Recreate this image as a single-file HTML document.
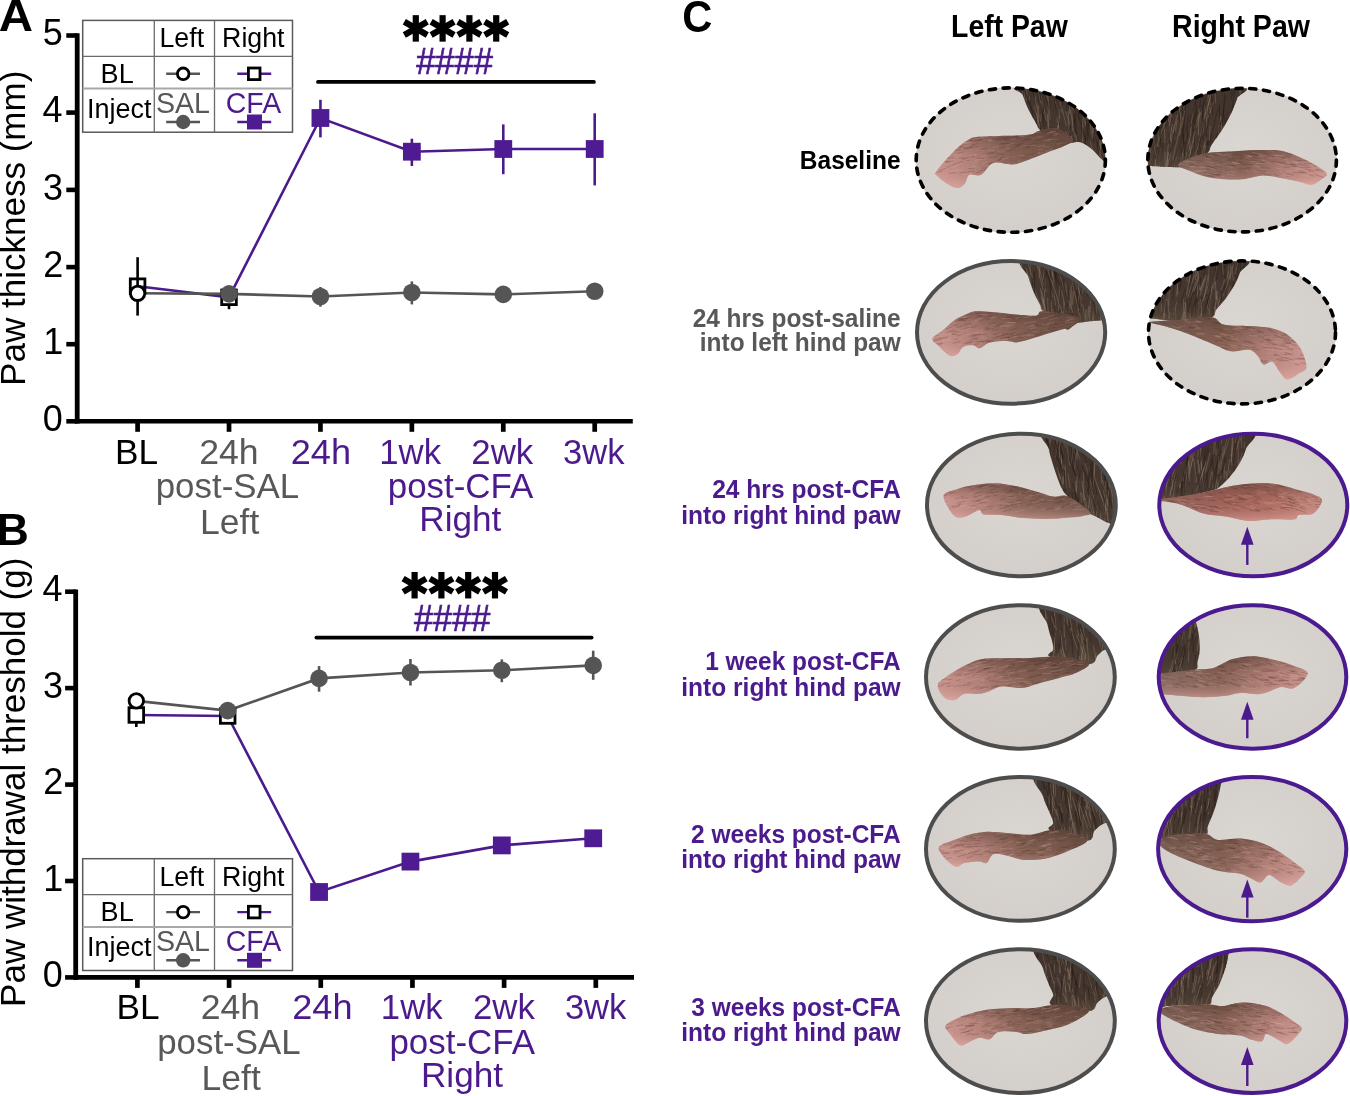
<!DOCTYPE html>
<html><head><meta charset="utf-8"><style>
html,body{margin:0;padding:0;background:#fff;}
body{width:1350px;height:1096px;position:relative;overflow:hidden;font-family:"Liberation Sans",sans-serif;}
</style></head><body>
<svg width="1350" height="1096" viewBox="0 0 1350 1096" style="position:absolute;left:0;top:0;will-change:transform">
<defs>
</defs>
<text x="-1.39" y="30.8" font-size="45" font-weight="bold" fill="#000" textLength="34.28" lengthAdjust="spacingAndGlyphs">A</text>
<text x="-3.62" y="544.8" font-size="45" font-weight="bold" fill="#000" textLength="32.32" lengthAdjust="spacingAndGlyphs">B</text>
<text x="682.33" y="32.1" font-size="45" font-weight="bold" fill="#000" textLength="30.1" lengthAdjust="spacingAndGlyphs">C</text>
<g font-family="Liberation Sans, sans-serif">
<g transform="translate(24.9,0) rotate(-90)">
<text x="-385.89" y="0" font-size="35" fill="#000" textLength="315.25" lengthAdjust="spacingAndGlyphs">Paw thickness (mm)</text>
</g>
<path d="M77.2 33.2 V423.55" stroke="#000" stroke-width="4.8" fill="none"/>
<path d="M74.8 421.3 H632.8" stroke="#000" stroke-width="4.6" fill="none"/>
<path d="M66.3 421.3 H77.2" stroke="#000" stroke-width="4.6"/>
<text x="42.77" y="431" font-size="36" fill="#000" textLength="20.02" lengthAdjust="spacingAndGlyphs">0</text>
<path d="M66.3 344.2 H77.2" stroke="#000" stroke-width="4.6"/>
<text x="43.13" y="353.9" font-size="36" fill="#000" textLength="20.02" lengthAdjust="spacingAndGlyphs">1</text>
<path d="M66.3 267.1 H77.2" stroke="#000" stroke-width="4.6"/>
<text x="43.22" y="276.8" font-size="36" fill="#000" textLength="20.02" lengthAdjust="spacingAndGlyphs">2</text>
<path d="M66.3 189.9 H77.2" stroke="#000" stroke-width="4.6"/>
<text x="42.95" y="199.6" font-size="36" fill="#000" textLength="20.02" lengthAdjust="spacingAndGlyphs">3</text>
<path d="M66.3 112.6 H77.2" stroke="#000" stroke-width="4.6"/>
<text x="42.41" y="122.3" font-size="36" fill="#000" textLength="20.02" lengthAdjust="spacingAndGlyphs">4</text>
<path d="M66.3 35.5 H77.2" stroke="#000" stroke-width="4.6"/>
<text x="42.86" y="45.2" font-size="36" fill="#000" textLength="20.02" lengthAdjust="spacingAndGlyphs">5</text>
<path d="M137.6 421.3 V431.8" stroke="#000" stroke-width="4.7"/>
<path d="M229.02 421.3 V431.8" stroke="#000" stroke-width="4.7"/>
<path d="M320.44 421.3 V431.8" stroke="#000" stroke-width="4.7"/>
<path d="M411.86 421.3 V431.8" stroke="#000" stroke-width="4.7"/>
<path d="M503.28 421.3 V431.8" stroke="#000" stroke-width="4.7"/>
<path d="M594.7 421.3 V431.8" stroke="#000" stroke-width="4.7"/>
<text x="115.09" y="464" font-size="35" fill="#000" textLength="43.07" lengthAdjust="spacingAndGlyphs">BL</text>
<text x="199.22" y="464" font-size="35" fill="#58585a" textLength="59.44" lengthAdjust="spacingAndGlyphs">24h</text>
<text x="290.69" y="464" font-size="35" fill="#4b1a8c" textLength="60.3" lengthAdjust="spacingAndGlyphs">24h</text>
<text x="379.19" y="464" font-size="35" fill="#4b1a8c" textLength="61.84" lengthAdjust="spacingAndGlyphs">1wk</text>
<text x="471.26" y="464" font-size="35" fill="#4b1a8c" textLength="61.97" lengthAdjust="spacingAndGlyphs">2wk</text>
<text x="563.1" y="464" font-size="35" fill="#4b1a8c" textLength="61.42" lengthAdjust="spacingAndGlyphs">3wk</text>
<text x="155.73" y="498.4" font-size="35" fill="#58585a" textLength="143.43" lengthAdjust="spacingAndGlyphs">post-SAL</text>
<text x="200.07" y="534.3" font-size="35" fill="#58585a" textLength="59.21" lengthAdjust="spacingAndGlyphs">Left</text>
<text x="387.73" y="498.4" font-size="35" fill="#4b1a8c" textLength="145.58" lengthAdjust="spacingAndGlyphs">post-CFA</text>
<text x="419.3" y="531.3" font-size="35" fill="#4b1a8c" textLength="82.05" lengthAdjust="spacingAndGlyphs">Right</text>
<rect x="82.7" y="20.4" width="209.8" height="111.8" fill="#fff" stroke="#5a5a5a" stroke-width="1.5"/>
<path d="M154.3 20.4 V132.2 M214.5 20.4 V132.2 M82.7 56.4 H292.5" stroke="#6a6a6a" stroke-width="1.3"/>
<path d="M82.7 88.6 H292.5" stroke="#a8a8a8" stroke-width="2"/>
<text x="159.49" y="47.3" font-size="27" fill="#000" textLength="44.62" lengthAdjust="spacingAndGlyphs">Left</text>
<text x="222.1" y="47.3" font-size="27" fill="#000" textLength="62.39" lengthAdjust="spacingAndGlyphs">Right</text>
<text x="100.57" y="83" font-size="27" fill="#000" textLength="33.13" lengthAdjust="spacingAndGlyphs">BL</text>
<text x="86.9" y="118.1" font-size="27" fill="#000" textLength="64.61" lengthAdjust="spacingAndGlyphs">Inject</text>
<text x="155.91" y="113" font-size="29.5" fill="#58585a" textLength="54.02" lengthAdjust="spacingAndGlyphs">SAL</text>
<text x="225.78" y="113" font-size="29.5" fill="#4b1a8c" textLength="55.39" lengthAdjust="spacingAndGlyphs">CFA</text>
<path d="M166.2 73.8 H200" stroke="#555555" stroke-width="2.4"/>
<circle cx="183.2" cy="73.8" r="5.8" fill="#fff" stroke="#000" stroke-width="2.8"/>
<path d="M237.3 73.8 H271.2" stroke="#4b1a8c" stroke-width="2.4"/>
<rect x="248.4" y="68" width="11.6" height="11.6" fill="#fff" stroke="#000" stroke-width="2.8"/>
<path d="M166.2 122 H200" stroke="#555555" stroke-width="2.4"/>
<circle cx="183.2" cy="122" r="7.2" fill="#555555"/>
<path d="M237.3 122 H271.2" stroke="#4b1a8c" stroke-width="2.4"/>
<rect x="247" y="114.5" width="15" height="15" fill="#4f1b92"/>
<path d="M318 81.9 H593.9" stroke="#000" stroke-width="3.8" stroke-linecap="round"/>
<g transform="translate(415.8,28.4)">
<path d="M-0 -13.25 L0 13.25" stroke="#000" stroke-width="6.2"/>
<path d="M-11.47 -6.62 L11.47 6.62" stroke="#000" stroke-width="6.2"/>
<path d="M-11.47 6.62 L11.47 -6.62" stroke="#000" stroke-width="6.2"/>
</g>
<g transform="translate(442.6,28.4)">
<path d="M-0 -13.25 L0 13.25" stroke="#000" stroke-width="6.2"/>
<path d="M-11.47 -6.62 L11.47 6.62" stroke="#000" stroke-width="6.2"/>
<path d="M-11.47 6.62 L11.47 -6.62" stroke="#000" stroke-width="6.2"/>
</g>
<g transform="translate(469.4,28.4)">
<path d="M-0 -13.25 L0 13.25" stroke="#000" stroke-width="6.2"/>
<path d="M-11.47 -6.62 L11.47 6.62" stroke="#000" stroke-width="6.2"/>
<path d="M-11.47 6.62 L11.47 -6.62" stroke="#000" stroke-width="6.2"/>
</g>
<g transform="translate(496.2,28.4)">
<path d="M-0 -13.25 L0 13.25" stroke="#000" stroke-width="6.2"/>
<path d="M-11.47 -6.62 L11.47 6.62" stroke="#000" stroke-width="6.2"/>
<path d="M-11.47 6.62 L11.47 -6.62" stroke="#000" stroke-width="6.2"/>
</g>
<text x="416.13" y="74.4" font-size="36" fill="#4b1a8c" textLength="76.83" lengthAdjust="spacingAndGlyphs" stroke="#4b1a8c" stroke-width="0.7">####</text>
<path d="M137.6 257.2 V315.6" stroke="#000" stroke-width="2.6"/>
<path d="M229.02 297 V309.2" stroke="#000" stroke-width="2.6"/>
<path d="M320.44 287 V306.7" stroke="#555555" stroke-width="2.6"/>
<path d="M411.86 281.4 V304.4" stroke="#555555" stroke-width="2.6"/>
<path d="M320.44 99.8 V137.4" stroke="#4b1a8c" stroke-width="2.6"/>
<path d="M411.86 138.7 V166" stroke="#4b1a8c" stroke-width="2.6"/>
<path d="M503.28 124.4 V174.2" stroke="#4b1a8c" stroke-width="2.6"/>
<path d="M594.7 113.3 V185.4" stroke="#4b1a8c" stroke-width="2.6"/>
<path d="M137.6 286.2 L229.02 297.3 L320.44 118 L411.86 151.7 L503.28 149 L594.7 149" stroke="#4b1a8c" stroke-width="2.6" fill="none"/>
<path d="M137.6 293.3 L229.02 293.9 L320.44 296.5 L411.86 292.5 L503.28 294.4 L594.7 291.3" stroke="#555555" stroke-width="2.6" fill="none"/>
<rect x="130.3" y="278.9" width="14.6" height="14.6" fill="none" stroke="#000" stroke-width="2.8"/>
<rect x="221.72" y="290" width="14.6" height="14.6" fill="#fff" stroke="#000" stroke-width="2.8"/>
<circle cx="137.6" cy="293.3" r="7.2" fill="#fff" stroke="#000" stroke-width="2.8"/>
<circle cx="229.02" cy="293.9" r="8.8" fill="#555555"/>
<circle cx="320.44" cy="296.5" r="8.8" fill="#555555"/>
<circle cx="411.86" cy="292.5" r="8.8" fill="#555555"/>
<circle cx="503.28" cy="294.4" r="8.8" fill="#555555"/>
<circle cx="594.7" cy="291.3" r="8.8" fill="#555555"/>
<rect x="311.54" y="109.1" width="17.8" height="17.8" fill="#4f1b92"/>
<rect x="402.96" y="142.8" width="17.8" height="17.8" fill="#4f1b92"/>
<rect x="494.38" y="140.1" width="17.8" height="17.8" fill="#4f1b92"/>
<rect x="585.8" y="140.1" width="17.8" height="17.8" fill="#4f1b92"/>
<g transform="translate(24.9,0) rotate(-90)">
<text x="-1006.89" y="0" font-size="35" fill="#000" textLength="449.26" lengthAdjust="spacingAndGlyphs">Paw withdrawal threshold (g)</text>
</g>
<path d="M75.7 589.4 V979.65" stroke="#000" stroke-width="4.8" fill="none"/>
<path d="M73.3 977.4 H634" stroke="#000" stroke-width="4.6" fill="none"/>
<path d="M65.1 977.4 H75.7" stroke="#000" stroke-width="4.6"/>
<text x="42.77" y="987.1" font-size="36" fill="#000" textLength="20.02" lengthAdjust="spacingAndGlyphs">0</text>
<path d="M65.1 881 H75.7" stroke="#000" stroke-width="4.6"/>
<text x="43.13" y="890.7" font-size="36" fill="#000" textLength="20.02" lengthAdjust="spacingAndGlyphs">1</text>
<path d="M65.1 784.6 H75.7" stroke="#000" stroke-width="4.6"/>
<text x="43.22" y="794.3" font-size="36" fill="#000" textLength="20.02" lengthAdjust="spacingAndGlyphs">2</text>
<path d="M65.1 688.1 H75.7" stroke="#000" stroke-width="4.6"/>
<text x="42.95" y="697.8" font-size="36" fill="#000" textLength="20.02" lengthAdjust="spacingAndGlyphs">3</text>
<path d="M65.1 591.7 H75.7" stroke="#000" stroke-width="4.6"/>
<text x="42.41" y="601.4" font-size="36" fill="#000" textLength="20.02" lengthAdjust="spacingAndGlyphs">4</text>
<path d="M137.4 977.4 V987.9" stroke="#000" stroke-width="4.7"/>
<path d="M229.08 977.4 V987.9" stroke="#000" stroke-width="4.7"/>
<path d="M320.76 977.4 V987.9" stroke="#000" stroke-width="4.7"/>
<path d="M412.44 977.4 V987.9" stroke="#000" stroke-width="4.7"/>
<path d="M504.12 977.4 V987.9" stroke="#000" stroke-width="4.7"/>
<path d="M595.8 977.4 V987.9" stroke="#000" stroke-width="4.7"/>
<text x="116.49" y="1019.3" font-size="35" fill="#000" textLength="43.07" lengthAdjust="spacingAndGlyphs">BL</text>
<text x="200.7" y="1019.3" font-size="35" fill="#58585a" textLength="59.44" lengthAdjust="spacingAndGlyphs">24h</text>
<text x="292.25" y="1019.3" font-size="35" fill="#4b1a8c" textLength="60.3" lengthAdjust="spacingAndGlyphs">24h</text>
<text x="380.83" y="1019.3" font-size="35" fill="#4b1a8c" textLength="61.84" lengthAdjust="spacingAndGlyphs">1wk</text>
<text x="472.98" y="1019.3" font-size="35" fill="#4b1a8c" textLength="61.97" lengthAdjust="spacingAndGlyphs">2wk</text>
<text x="564.9" y="1019.3" font-size="35" fill="#4b1a8c" textLength="61.42" lengthAdjust="spacingAndGlyphs">3wk</text>
<text x="157.21" y="1053.7" font-size="35" fill="#58585a" textLength="143.43" lengthAdjust="spacingAndGlyphs">post-SAL</text>
<text x="201.55" y="1089.6" font-size="35" fill="#58585a" textLength="59.21" lengthAdjust="spacingAndGlyphs">Left</text>
<text x="389.41" y="1053.7" font-size="35" fill="#4b1a8c" textLength="145.58" lengthAdjust="spacingAndGlyphs">post-CFA</text>
<text x="420.98" y="1086.6" font-size="35" fill="#4b1a8c" textLength="82.05" lengthAdjust="spacingAndGlyphs">Right</text>
<rect x="82.7" y="858.7" width="209.8" height="111.8" fill="#fff" stroke="#5a5a5a" stroke-width="1.5"/>
<path d="M154.3 858.7 V970.5 M214.5 858.7 V970.5 M82.7 894.7 H292.5" stroke="#6a6a6a" stroke-width="1.3"/>
<path d="M82.7 926.9 H292.5" stroke="#a8a8a8" stroke-width="2"/>
<text x="159.49" y="885.6" font-size="27" fill="#000" textLength="44.62" lengthAdjust="spacingAndGlyphs">Left</text>
<text x="222.1" y="885.6" font-size="27" fill="#000" textLength="62.39" lengthAdjust="spacingAndGlyphs">Right</text>
<text x="100.57" y="921.3" font-size="27" fill="#000" textLength="33.13" lengthAdjust="spacingAndGlyphs">BL</text>
<text x="86.9" y="956.4" font-size="27" fill="#000" textLength="64.61" lengthAdjust="spacingAndGlyphs">Inject</text>
<text x="155.91" y="951.3" font-size="29.5" fill="#58585a" textLength="54.02" lengthAdjust="spacingAndGlyphs">SAL</text>
<text x="225.78" y="951.3" font-size="29.5" fill="#4b1a8c" textLength="55.39" lengthAdjust="spacingAndGlyphs">CFA</text>
<path d="M166.2 912.1 H200" stroke="#555555" stroke-width="2.4"/>
<circle cx="183.2" cy="912.1" r="5.8" fill="#fff" stroke="#000" stroke-width="2.8"/>
<path d="M237.3 912.1 H271.2" stroke="#4b1a8c" stroke-width="2.4"/>
<rect x="248.4" y="906.3" width="11.6" height="11.6" fill="#fff" stroke="#000" stroke-width="2.8"/>
<path d="M166.2 960.3 H200" stroke="#555555" stroke-width="2.4"/>
<circle cx="183.2" cy="960.3" r="7.2" fill="#555555"/>
<path d="M237.3 960.3 H271.2" stroke="#4b1a8c" stroke-width="2.4"/>
<rect x="247" y="952.8" width="15" height="15" fill="#4f1b92"/>
<path d="M316.4 637.6 H591.6" stroke="#000" stroke-width="3.8" stroke-linecap="round"/>
<g transform="translate(414.6,585.2)">
<path d="M-0 -13.25 L0 13.25" stroke="#000" stroke-width="6.2"/>
<path d="M-11.47 -6.62 L11.47 6.62" stroke="#000" stroke-width="6.2"/>
<path d="M-11.47 6.62 L11.47 -6.62" stroke="#000" stroke-width="6.2"/>
</g>
<g transform="translate(441.4,585.2)">
<path d="M-0 -13.25 L0 13.25" stroke="#000" stroke-width="6.2"/>
<path d="M-11.47 -6.62 L11.47 6.62" stroke="#000" stroke-width="6.2"/>
<path d="M-11.47 6.62 L11.47 -6.62" stroke="#000" stroke-width="6.2"/>
</g>
<g transform="translate(468.2,585.2)">
<path d="M-0 -13.25 L0 13.25" stroke="#000" stroke-width="6.2"/>
<path d="M-11.47 -6.62 L11.47 6.62" stroke="#000" stroke-width="6.2"/>
<path d="M-11.47 6.62 L11.47 -6.62" stroke="#000" stroke-width="6.2"/>
</g>
<g transform="translate(495,585.2)">
<path d="M-0 -13.25 L0 13.25" stroke="#000" stroke-width="6.2"/>
<path d="M-11.47 -6.62 L11.47 6.62" stroke="#000" stroke-width="6.2"/>
<path d="M-11.47 6.62 L11.47 -6.62" stroke="#000" stroke-width="6.2"/>
</g>
<text x="414.03" y="630.7" font-size="36" fill="#4b1a8c" textLength="76.43" lengthAdjust="spacingAndGlyphs" stroke="#4b1a8c" stroke-width="0.7">####</text>
<path d="M136.3 715 V727" stroke="#000" stroke-width="2.6"/>
<path d="M319.06 666.1 V691.7" stroke="#555555" stroke-width="2.6"/>
<path d="M410.44 659 V685.5" stroke="#555555" stroke-width="2.6"/>
<path d="M501.82 659.4 V682.2" stroke="#555555" stroke-width="2.6"/>
<path d="M593.2 650.7 V679.8" stroke="#555555" stroke-width="2.6"/>
<path d="M136.3 715 L227.68 716 L319.06 892 L410.44 861.6 L501.82 845.4 L593.2 838.3" stroke="#4b1a8c" stroke-width="2.6" fill="none"/>
<path d="M136.3 700.9 L227.68 710.6 L319.06 678.4 L410.44 672.5 L501.82 670.3 L593.2 665.4" stroke="#555555" stroke-width="2.6" fill="none"/>
<rect x="129" y="707.7" width="14.6" height="14.6" fill="#fff" stroke="#000" stroke-width="2.8"/>
<rect x="220.38" y="708.7" width="14.6" height="14.6" fill="#fff" stroke="#000" stroke-width="2.8"/>
<circle cx="136.3" cy="700.9" r="7.2" fill="#fff" stroke="#000" stroke-width="2.8"/>
<circle cx="227.68" cy="710.6" r="8.8" fill="#555555"/>
<circle cx="319.06" cy="678.4" r="8.8" fill="#555555"/>
<circle cx="410.44" cy="672.5" r="8.8" fill="#555555"/>
<circle cx="501.82" cy="670.3" r="8.8" fill="#555555"/>
<circle cx="593.2" cy="665.4" r="8.8" fill="#555555"/>
<rect x="310.16" y="883.1" width="17.8" height="17.8" fill="#4f1b92"/>
<rect x="401.54" y="852.7" width="17.8" height="17.8" fill="#4f1b92"/>
<rect x="492.92" y="836.5" width="17.8" height="17.8" fill="#4f1b92"/>
<rect x="584.3" y="829.4" width="17.8" height="17.8" fill="#4f1b92"/>
<text x="951.09" y="36.9" font-size="31" font-weight="bold" fill="#000" textLength="116.63" lengthAdjust="spacingAndGlyphs">Left Paw</text>
<text x="1172.07" y="37" font-size="31" font-weight="bold" fill="#000" textLength="137.89" lengthAdjust="spacingAndGlyphs">Right Paw</text>
<text x="799.85" y="168.9" font-size="26.5" font-weight="bold" fill="#000" textLength="100.67" lengthAdjust="spacingAndGlyphs">Baseline</text>
<text x="692.64" y="326.8" font-size="26.5" font-weight="bold" fill="#58585a" textLength="207.87" lengthAdjust="spacingAndGlyphs">24 hrs post-saline</text>
<text x="699.79" y="351.3" font-size="26.5" font-weight="bold" fill="#58585a" textLength="200.89" lengthAdjust="spacingAndGlyphs">into left hind paw</text>
<text x="712.14" y="498.3" font-size="26.5" font-weight="bold" fill="#4b1a8c" textLength="188.56" lengthAdjust="spacingAndGlyphs">24 hrs post-CFA</text>
<text x="681.28" y="523.5" font-size="26.5" font-weight="bold" fill="#4b1a8c" textLength="219.37" lengthAdjust="spacingAndGlyphs">into right hind paw</text>
<text x="705.17" y="670.3" font-size="26.5" font-weight="bold" fill="#4b1a8c" textLength="195.49" lengthAdjust="spacingAndGlyphs">1 week post-CFA</text>
<text x="681.28" y="695.5" font-size="26.5" font-weight="bold" fill="#4b1a8c" textLength="219.37" lengthAdjust="spacingAndGlyphs">into right hind paw</text>
<text x="691.04" y="842.8" font-size="26.5" font-weight="bold" fill="#4b1a8c" textLength="209.65" lengthAdjust="spacingAndGlyphs">2 weeks post-CFA</text>
<text x="681.28" y="868" font-size="26.5" font-weight="bold" fill="#4b1a8c" textLength="219.37" lengthAdjust="spacingAndGlyphs">into right hind paw</text>
<text x="691.35" y="1015.8" font-size="26.5" font-weight="bold" fill="#4b1a8c" textLength="209.35" lengthAdjust="spacingAndGlyphs">3 weeks post-CFA</text>
<text x="681.28" y="1041" font-size="26.5" font-weight="bold" fill="#4b1a8c" textLength="219.37" lengthAdjust="spacingAndGlyphs">into right hind paw</text>
</g>
<defs>
<linearGradient id="furg" x1="0" y1="0" x2="0" y2="1"><stop offset="0" stop-color="#2e2420" stop-opacity="0.25"/><stop offset="0.6" stop-color="#2e2420" stop-opacity="0"/><stop offset="1" stop-color="#8a735e" stop-opacity="0.35"/></linearGradient>
<pattern id="furp" width="4.3" height="37" patternUnits="userSpaceOnUse" patternTransform="rotate(10)"><path d="M1.2 0 V37" stroke="#9c8470" stroke-width="0.7" opacity="0.42"/><path d="M3.2 6 V28" stroke="#261d19" stroke-width="0.8" opacity="0.45"/></pattern>
<linearGradient id="pawL" x1="0" y1="0" x2="1" y2="0"><stop offset="0" stop-color="#dda29d"/><stop offset="0.25" stop-color="#c08a82"/><stop offset="0.55" stop-color="#8c6558"/><stop offset="1" stop-color="#6e5046"/></linearGradient>
<linearGradient id="pawR" x1="1" y1="0" x2="0" y2="0"><stop offset="0" stop-color="#dda29d"/><stop offset="0.25" stop-color="#c08a82"/><stop offset="0.55" stop-color="#8c6558"/><stop offset="1" stop-color="#8e7068"/></linearGradient>
<linearGradient id="pawV" x1="0" y1="0" x2="0" y2="1"><stop offset="0" stop-color="#4a3328" stop-opacity="0.55"/><stop offset="0.5" stop-color="#6e5045" stop-opacity="0.15"/><stop offset="1" stop-color="#e6b2ac" stop-opacity="0.5"/></linearGradient>
<linearGradient id="pawS" x1="1" y1="0" x2="0" y2="0"><stop offset="0" stop-color="#d8968e"/><stop offset="0.3" stop-color="#bc7268"/><stop offset="0.6" stop-color="#aa645c"/><stop offset="1" stop-color="#9a6a60"/></linearGradient>
<radialGradient id="bg" cx="0.5" cy="0.45" r="0.6"><stop offset="0" stop-color="#dad6d2"/><stop offset="1" stop-color="#d3cec9"/></radialGradient>
<clipPath id="cp0"><ellipse cx="1010.8" cy="160.1" rx="94.6" ry="72.2"/></clipPath>
<clipPath id="cp1"><ellipse cx="1242.1" cy="160.1" rx="94.3" ry="71.8"/></clipPath>
<clipPath id="cp2"><ellipse cx="1011.1" cy="332.4" rx="94.1" ry="71.3"/></clipPath>
<clipPath id="cp3"><ellipse cx="1242" cy="332.4" rx="93.5" ry="71.5"/></clipPath>
<clipPath id="cp4"><ellipse cx="1021.4" cy="505" rx="94.4" ry="71.3"/></clipPath>
<clipPath id="cp5"><ellipse cx="1253.3" cy="505" rx="94" ry="71.3"/></clipPath>
<clipPath id="cp6"><ellipse cx="1020.4" cy="677" rx="94.4" ry="71.7"/></clipPath>
<clipPath id="cp7"><ellipse cx="1252.5" cy="677" rx="93.8" ry="71.7"/></clipPath>
<clipPath id="cp8"><ellipse cx="1020.4" cy="848.9" rx="94.4" ry="71.9"/></clipPath>
<clipPath id="cp9"><ellipse cx="1252.2" cy="849.1" rx="94.1" ry="72.1"/></clipPath>
<clipPath id="cp10"><ellipse cx="1020.4" cy="1021.1" rx="94.4" ry="71.9"/></clipPath>
<clipPath id="cp11"><ellipse cx="1252.5" cy="1021.1" rx="93.8" ry="71.9"/></clipPath>
</defs>
<ellipse cx="1010.8" cy="160.1" rx="95.1" ry="72.8" fill="url(#bg)"/>
<g clip-path="url(#cp0)">
<path d="M1020.4 86 C1005 88.5 1021.2 90.9 1022.6 94.8 C1024 98.7 1026.3 104.9 1028.5 109.6 C1030.7 114.3 1033.9 119.5 1035.9 123 C1037.9 126.5 1036.7 126.5 1040.4 130.4 C1044.1 134.3 1053.7 144.5 1058.1 146.7 C1062.5 148.9 1063.3 144.4 1067 143.7 C1070.7 142.9 1076.2 141.2 1080.4 142.2 C1084.6 143.2 1088.5 146.6 1092.2 149.6 C1095.9 152.6 1098.8 157.4 1102.6 160 C1106.4 162.6 1112.9 178.3 1115 165 C1117.1 151.7 1130.8 93.2 1115 80 C1099.2 66.8 1035.8 83.5 1020.4 86 Z" fill="#45372f"/>
<clipPath id="fc0"><path d="M1020.4 86 C1005 88.5 1021.2 90.9 1022.6 94.8 C1024 98.7 1026.3 104.9 1028.5 109.6 C1030.7 114.3 1033.9 119.5 1035.9 123 C1037.9 126.5 1036.7 126.5 1040.4 130.4 C1044.1 134.3 1053.7 144.5 1058.1 146.7 C1062.5 148.9 1063.3 144.4 1067 143.7 C1070.7 142.9 1076.2 141.2 1080.4 142.2 C1084.6 143.2 1088.5 146.6 1092.2 149.6 C1095.9 152.6 1098.8 157.4 1102.6 160 C1106.4 162.6 1112.9 178.3 1115 165 C1117.1 151.7 1130.8 93.2 1115 80 C1099.2 66.8 1035.8 83.5 1020.4 86 Z"/></clipPath>
<g clip-path="url(#fc0)">
<path d="M1022.3 71.3 l-0 26.7 M1085.6 76.1 l4.1 24.8 M1090.1 157.5 l4.8 17.2 M1113.3 153.5 l-0.7 11.9 M1090.1 90.1 l4.2 26.3 M1020 128.4 l2.5 10.6 M1107.5 163.2 l7.3 18.8 M1023.5 127 l-0.3 10.6 M1079.3 84.8 l3.2 10.4 M1068.4 111 l-0.3 24.4 M1117.7 119.5 l-2.6 20.8 M1076.1 71.9 l4.1 21.9 M1041.7 113.3 l0.7 21.8 M1048.1 105.1 l0.4 21.9 M1096.2 72.6 l5 20.8 M1038.7 146.4 l-0.5 14.8 M1035.4 146.6 l-1 26.7 M1099.8 131 l1.1 26.1 M1045.9 145.4 l0.7 15.4 M1059.3 108.9 l-1.5 28.4 M1069.7 97.5 l-0.3 16.8 M1070.3 109.3 l5 28.3 M1041.8 151.9 l5 18.9 M1059.6 114.9 l-3.3 25.3 M1024.4 117.7 l0.4 16.3 M1083.1 125.7 l-0.6 17.2 M1028.3 122.8 l1.5 24.3 M1034.1 105.5 l5.7 21.3 M1099.2 129.2 l1 18.6 M1088.9 109.9 l2.4 23.8 M1071.4 136 l0.9 11.4 M1020 78.7 l3.7 11.4 M1102.9 160.5 l5.7 20.8 M1056.6 104.9 l0.8 17.9 M1066 131.1 l-1.5 27.9 M1034.9 95.4 l2.3 13.8 M1058.6 151.1 l0.1 21.7 M1017.8 115.6 l-0.8 17.6 M1049.1 143.5 l4.6 12 M1086 161.1 l-0.2 27.1 M1024.4 78.8 l0.4 26.7 M1076.1 134.2 l0.4 10.1 M1066.2 90 l7.4 20.4 M1072.3 81.3 l3.1 15.2 M1108.2 156.3 l4 11.3 M1083.1 113.5 l-0.7 16.2 M1090.3 141.7 l5 20.3 M1041.3 143 l0.6 17.1 M1072 143.3 l4.9 16.3 M1093.7 126.2 l0.9 12.9 M1018.5 146.3 l9.4 26.2 M1029.6 145.3 l-2.3 22.3 M1039.8 77.4 l6.8 19.6 M1112.9 151.8 l4.6 18.2 M1026.8 74.1 l-0.3 11.6 M1047.3 114.1 l1.8 25.1 M1030.4 113.7 l-0.4 13.9 M1057.6 86 l-0.8 10.5 M1066.7 75.7 l1 10.4 M1089 74.9 l1.2 18 M1116.4 90.8 l1.3 11.8 M1044.2 144.8 l6.4 18.2 M1041.5 95.3 l4.8 25.8 M1025.2 134.8 l4.9 29 M1018.6 78.6 l-1.5 13.3 M1083.8 155.5 l4.9 13.1 M1099.5 157.2 l-3.2 28.6 M1017.8 114.4 l5.2 24.6 M1062.5 155.2 l0.9 24.6 M1026.9 77.7 l-0.2 23 M1031.4 131.2 l-2.7 21.5 M1078.6 144.9 l-0.7 20.7 M1036.2 154.9 l1.2 11.7 M1077.6 147.4 l2 14 M1091.5 77.3 l1.9 16.8 M1037.8 103.3 l1.1 29.9 M1059.2 160.1 l9.5 26.4 M1096.3 108.7 l9.7 28.3 M1113.1 87.5 l2.7 11.6 M1069.7 130.7 l2.6 10.5 M1060.6 102.8 l6 24.1 M1026.2 98.4 l-1.7 18.1 M1072.1 104.2 l0.3 27.1 M1016.5 82.5 l2.8 20.4 M1097.6 163 l-0.4 10.7 M1060.6 102.1 l1.6 10.9 M1048 93.5 l2.1 26 M1068.6 148.9 l0.2 21 M1017.2 131.1 l8.9 26.5 M1085 158.2 l4.5 25.9 M1018.6 124.6 l2.4 20.9 M1089.6 156.6 l2.4 11.8 M1069.2 155.1 l5.6 28.7 M1111.7 87.2 l5 17 M1043.7 160.2 l0.8 28.9 M1044.9 82.5 l5.3 14 M1103.1 130 l-3.3 26.1 M1115.9 76.6 l1.7 15.3 M1072.5 74.5 l5 13.8 M1030.3 75.2 l-1.1 25.2 M1055.4 80.2 l6.3 16.6 M1034.2 161.5 l-1.2 26.8 M1043.6 81.7 l4.7 19.5 M1082.9 96.8 l2.8 29.2 M1071 153.1 l4 29.5 M1021.6 151.2 l6.2 16.5 M1089.8 104.3 l2 15.9 M1054.4 131.9 l4.4 27.1 M1038.4 105.2 l-1.3 22.3 M1061.6 134.8 l3.8 11.8 M1078 78.1 l0.5 10.5 M1060.6 129.7 l2 23.1 M1119.1 76.3 l1.1 10.1 M1018.2 158.8 l3.2 20.2 M1039.7 114.5 l3.8 26.9 M1118.1 132.8 l-0.6 20.6 M1109.5 82.6 l3.7 20.3 M1095.8 156.4 l6.4 26.4 M1056.9 90.1 l-1.5 13.6 M1055.6 150.9 l-2.7 26.5 M1076.4 80.2 l6 19.7 M1092.3 103.3 l3 19.3 M1048.8 138.9 l0.9 13.4 M1058.1 124.8 l-1.2 12.1 M1112 152.5 l1.4 20.3 M1065.3 111.2 l5.2 14.3 M1093.9 91.4 l6.7 17.9 M1056 74.4 l2.5 13.2 M1036.6 85.1 l7 28.8 M1032.3 83 l6.9 21.4 M1016.1 77.9 l1.7 25.6 M1119.4 128.1 l3.3 14.9 M1049.7 162.3 l3.2 11.6 M1099.6 112.3 l0.8 23.3 M1062.7 146 l-0.3 16.9 M1045.7 72.4 l0.4 10.5 M1092.3 119.6 l0.4 18.5 M1080.6 111.7 l4.5 11.7 M1053.7 164.9 l1.5 12.4 M1041.3 157.8 l-2.3 18.1 M1015.9 137.3 l8.7 26 M1086 98.9 l0.4 19.4 M1029.3 129.4 l4.1 11" stroke="#a8917a" stroke-width="0.7" opacity="0.5" fill="none"/>
<path d="M1040.3 121.7 l3 17.1 M1119.5 114.7 l2.9 26.6 M1031.2 130.3 l3.6 27.1 M1018.6 152.2 l4.4 18.9 M1116.4 111.4 l0.5 22.5 M1055.8 103.3 l3.5 21.4 M1086.7 158.2 l9.7 25.3 M1032.5 151.8 l9.3 27.8 M1022 151.1 l-2.6 29.7 M1058.3 84.3 l4 15.4 M1115.7 155.2 l1.8 17.5 M1082.8 126.6 l3.8 20.8 M1081 114.3 l1.1 23.6 M1092.6 72.1 l2.3 11 M1088.4 79.7 l0.6 16.4 M1061.3 151.3 l0.5 13.4 M1108 112.9 l-1 14.5 M1114.1 153.6 l2.6 29.6 M1112.4 91.1 l7.1 23.9 M1077 97.3 l-2.8 26.1 M1088 157.8 l8.8 26.5 M1016.8 140.8 l0.3 13.4 M1036 120.8 l-1.2 26.3 M1111.8 146.6 l-3.3 26.3 M1105.6 74.7 l0.1 15.4 M1028.7 81.8 l4 10.7 M1107.4 159 l5.5 16.6 M1042.8 114.1 l3.4 12 M1108.2 145.3 l5.5 22.7 M1026.2 125.8 l-0.6 10.1 M1017.9 149.9 l3.6 11.9 M1095.7 118.6 l-1.9 24.2 M1113.2 75.8 l2.5 16.3 M1040.7 87.1 l2.7 14.8 M1024.1 117.5 l2.2 29.4 M1032.2 135.6 l5.2 24.6 M1093.7 157.1 l1.9 20.3 M1039.7 135.7 l0.5 29.1 M1078.1 114.5 l7.4 25.6 M1065.7 138.5 l1.9 27.1 M1115.8 114.4 l-0.2 14.6 M1042.5 87.8 l7.1 23 M1042.1 152.2 l1.3 16.2 M1096.2 141.9 l3.3 15.6 M1099.7 95.2 l8.6 23.6 M1071.5 80.8 l0.9 19.9 M1086.4 123.8 l2.6 13.4 M1034.1 154.5 l-1.6 23.1 M1030.2 101.5 l4.1 24.1 M1043.2 106.4 l-3 27.3 M1043.7 79.5 l3.1 11.8 M1034.7 88 l4.4 17.8 M1070.6 124 l-0.1 14 M1073.2 125.4 l8 21.2 M1046.7 151.7 l3.3 19.4 M1015.6 143.2 l2.7 23.1 M1063.6 88.4 l-2.3 20.5 M1083 112.2 l7.3 20 M1106.5 136 l3.7 12.1 M1112.4 138 l1 24.8 M1067.4 136.4 l1.7 20.7 M1109.5 138.4 l1 17.3 M1077.8 91.3 l-0.3 10.1 M1080.5 102.9 l-1.3 12.4 M1078.9 159.9 l0.2 11.8 M1027.4 107 l3.5 16.3 M1033.7 140.3 l7 23.7 M1112 104.5 l-0.3 18.3 M1065.7 95.6 l3.1 13 M1089.7 106.7 l-1 19.7 M1040.2 150.1 l7 21.8 M1022.9 107.9 l-2.3 29 M1116.6 90.9 l1.7 21.2 M1023.7 148.4 l-1.4 12.2 M1102.2 128.5 l5.7 22.1 M1051.6 127.3 l-1.4 18.9 M1073.2 139.9 l3.6 18.1 M1024.2 90.7 l4.4 12.6 M1106.9 163.7 l7.3 21 M1095.2 136.5 l10.4 27.6 M1054.4 85.3 l1.6 16.2 M1108.2 146.7 l-0.1 15.9 M1020.7 89.4 l2.6 25.3 M1020 110.8 l4.6 22.1 M1100 93.5 l3.1 12.3 M1069.6 86.2 l2.9 13.4 M1072.6 108.8 l1.7 17 M1062.7 161.1 l0.4 13.1 M1058.5 150.9 l8.7 25.1 M1039.4 89 l1.5 11.5 M1110.1 86.9 l6.1 29.2 M1101.5 153.1 l3.8 10.3 M1029.1 83.8 l0.6 12.5 M1023.5 88.2 l10.4 26.9 M1041.1 103.7 l3.3 28.8 M1048.2 72 l4.1 16.4 M1074.9 114.1 l1.9 20.7 M1102.5 89 l7.2 20.7 M1036.6 75 l2.2 29.5 M1027.4 71.3 l7.2 26.4 M1087.1 119.9 l-2.1 25.2 M1061.5 83.9 l0.7 22 M1054.5 100.2 l2.9 16.9 M1113.3 151.9 l0.4 26.7 M1080 76.6 l5.4 17.7 M1037.9 122.1 l2.4 27.6 M1048.9 96.9 l1.5 10.5 M1071.3 140.1 l7.6 25.5 M1065.1 154.6 l-0.6 15.7 M1102.5 87.4 l1 15.5 M1117.8 135.7 l1.1 11.6 M1109 148.5 l1.3 16.6 M1107.9 89.2 l-1.5 17.8 M1021.7 111.1 l-0.5 16.2 M1038 148.2 l-2 28.7 M1056.1 86.9 l0 15 M1051 80.6 l1.3 14.3 M1041.1 136.5 l2.9 14 M1033.8 141.4 l2.5 17.7 M1081.1 112 l2.9 10.7 M1066.7 125 l4.8 14.6 M1038.6 147.7 l1.3 29.7 M1065.9 87 l1 24.3 M1071.8 152 l2.2 18.8 M1101.6 89.3 l2.9 11.5 M1047.1 154.8 l3.9 27.4 M1102.8 141.1 l-2 15.7 M1088.4 123.4 l-1.3 17.7 M1036.5 118 l-1.1 13.3 M1044.3 99.9 l-2.1 28.8 M1075.2 118.5 l-0.3 14 M1098.1 139.7 l-2.3 28 M1095.1 85.7 l0.1 23.3 M1054.4 152.7 l3 24.7 M1060.1 146.4 l2.1 15 M1094.7 118 l8.4 27.8 M1054.4 74.1 l5.1 20.5 M1092.6 84.2 l4.2 20.4 M1044.8 136.4 l-1.5 13.3 M1025.4 100 l3.1 21.2 M1074.9 95.2 l4.3 24.9 M1098.5 117.5 l3.9 11.3 M1116.2 88.2 l2.8 11.3 M1095.8 118.3 l-2 22.5" stroke="#231a16" stroke-width="0.9" opacity="0.5" fill="none"/>
</g>
<path d="M1020.4 86 C1005 88.5 1021.2 90.9 1022.6 94.8 C1024 98.7 1026.3 104.9 1028.5 109.6 C1030.7 114.3 1033.9 119.5 1035.9 123 C1037.9 126.5 1036.7 126.5 1040.4 130.4 C1044.1 134.3 1053.7 144.5 1058.1 146.7 C1062.5 148.9 1063.3 144.4 1067 143.7 C1070.7 142.9 1076.2 141.2 1080.4 142.2 C1084.6 143.2 1088.5 146.6 1092.2 149.6 C1095.9 152.6 1098.8 157.4 1102.6 160 C1106.4 162.6 1112.9 178.3 1115 165 C1117.1 151.7 1130.8 93.2 1115 80 C1099.2 66.8 1035.8 83.5 1020.4 86 Z" fill="url(#furg)"/>
<path d="M1040.4 130.4 C1035.5 131.4 1035.4 133.9 1028.5 134.8 C1021.6 135.7 1007.5 135.6 998.9 136 C990.3 136.4 981.6 136.4 976.7 137 C971.8 137.6 972.3 137.7 969.3 139.3 C966.3 140.9 962.6 143.5 958.9 146.7 C955.2 149.9 950.8 154.3 947 158.5 C943.2 162.7 937.8 169.2 935.9 171.9 C934 174.6 934 172.8 935.9 174.8 C937.8 176.8 943.4 181.5 947 183.7 C950.6 185.9 954.4 188.1 957.4 188.1 C960.4 188.1 962.8 185.9 964.8 183.7 C966.8 181.5 966.6 176.3 969.3 174.8 C972 173.3 977.1 176.8 981.1 174.8 C985.1 172.8 988.1 164.7 993 163 C997.9 161.3 1006.3 164.4 1010.7 164.4 C1015.1 164.4 1015.4 164.2 1019.6 163 C1023.8 161.8 1030.7 159 1035.9 157 C1041.1 155 1045.8 153.1 1050.7 151.1 C1055.7 149.1 1061.9 147.2 1065.6 145.2 C1069.3 143.2 1074.3 142 1073 139.3 C1071.7 136.6 1063.4 130.4 1058 128.9 C1052.6 127.4 1045.3 129.4 1040.4 130.4 Z" fill="url(#pawL)"/>
<path d="M1040.4 130.4 C1035.5 131.4 1035.4 133.9 1028.5 134.8 C1021.6 135.7 1007.5 135.6 998.9 136 C990.3 136.4 981.6 136.4 976.7 137 C971.8 137.6 972.3 137.7 969.3 139.3 C966.3 140.9 962.6 143.5 958.9 146.7 C955.2 149.9 950.8 154.3 947 158.5 C943.2 162.7 937.8 169.2 935.9 171.9 C934 174.6 934 172.8 935.9 174.8 C937.8 176.8 943.4 181.5 947 183.7 C950.6 185.9 954.4 188.1 957.4 188.1 C960.4 188.1 962.8 185.9 964.8 183.7 C966.8 181.5 966.6 176.3 969.3 174.8 C972 173.3 977.1 176.8 981.1 174.8 C985.1 172.8 988.1 164.7 993 163 C997.9 161.3 1006.3 164.4 1010.7 164.4 C1015.1 164.4 1015.4 164.2 1019.6 163 C1023.8 161.8 1030.7 159 1035.9 157 C1041.1 155 1045.8 153.1 1050.7 151.1 C1055.7 149.1 1061.9 147.2 1065.6 145.2 C1069.3 143.2 1074.3 142 1073 139.3 C1071.7 136.6 1063.4 130.4 1058 128.9 C1052.6 127.4 1045.3 129.4 1040.4 130.4 Z" fill="url(#pawV)"/>
<clipPath id="pc0"><path d="M1040.4 130.4 C1035.5 131.4 1035.4 133.9 1028.5 134.8 C1021.6 135.7 1007.5 135.6 998.9 136 C990.3 136.4 981.6 136.4 976.7 137 C971.8 137.6 972.3 137.7 969.3 139.3 C966.3 140.9 962.6 143.5 958.9 146.7 C955.2 149.9 950.8 154.3 947 158.5 C943.2 162.7 937.8 169.2 935.9 171.9 C934 174.6 934 172.8 935.9 174.8 C937.8 176.8 943.4 181.5 947 183.7 C950.6 185.9 954.4 188.1 957.4 188.1 C960.4 188.1 962.8 185.9 964.8 183.7 C966.8 181.5 966.6 176.3 969.3 174.8 C972 173.3 977.1 176.8 981.1 174.8 C985.1 172.8 988.1 164.7 993 163 C997.9 161.3 1006.3 164.4 1010.7 164.4 C1015.1 164.4 1015.4 164.2 1019.6 163 C1023.8 161.8 1030.7 159 1035.9 157 C1041.1 155 1045.8 153.1 1050.7 151.1 C1055.7 149.1 1061.9 147.2 1065.6 145.2 C1069.3 143.2 1074.3 142 1073 139.3 C1071.7 136.6 1063.4 130.4 1058 128.9 C1052.6 127.4 1045.3 129.4 1040.4 130.4 Z"/></clipPath>
<g clip-path="url(#pc0)">
<path d="M1059.4 130.4 l-6.8 0.3 M953.3 125 l-9.2 0.3 M1070.6 167.1 l-5.6 1.9 M1058.4 139.4 l-6.1 0.1 M982.2 139.9 l-8.9 1.3 M1001.9 159 l-4.3 1.5 M1038.7 165.8 l-4.1 1.1 M962.8 161.5 l-9.4 3.1 M1045.2 166.5 l-4.2 1.4 M1010.6 140 l-5.9 0.1 M956.3 158.3 l-9.9 0.1 M1071.2 150.7 l-6.4 0.3 M1066.1 155.4 l-8.6 -0.1 M1001.6 139 l-6.4 0.1 M1071.4 171.4 l-7.8 1.2 M948.1 138.1 l-8.6 2.6 M1030.6 139.1 l-9.7 2 M937.5 151.4 l-5.5 1.2 M1030.3 172.1 l-9.7 1.5 M1034.6 160.2 l-5 1.3 M965.9 158.1 l-7.7 -0.3 M966.9 127.5 l-4.8 0.4 M1016.8 136.4 l-9.2 -0.5 M974.1 144.7 l-4.6 1.3 M940.8 154.6 l-4.6 0.8 M1024 142.8 l-4.8 0.9 M936 130.1 l-7.4 1.4 M1022.2 168 l-6.3 0.8 M1017.6 137.5 l-9.9 1.5 M979.7 172.5 l-6.9 0.4 M1037.8 130.6 l-8.5 0.6 M982 139.3 l-7.2 1 M1038 153.5 l-4.2 0.2 M994.5 152.8 l-8.2 1.7 M1060.9 143.6 l-6.3 1.8 M995.2 138.8 l-8.6 2.7 M1001.5 151.5 l-7 0.6 M1072.8 158.8 l-4.3 1.2 M1024.4 171 l-8.2 0 M1061.8 132.1 l-7.7 0.9 M1021.2 127 l-4.6 0.5 M943.8 152.7 l-8.4 2.5 M1005.3 169 l-7.3 1.5 M1011.5 137.2 l-8.5 1.3 M1025.7 129 l-7.9 -0.1 M1017.3 136.4 l-9.3 1.3 M1045.1 126.3 l-8.2 -0.2 M1027.1 164.6 l-4.8 1 M968.1 141 l-7.7 0.7 M954.6 165.1 l-7.8 2.1 M990.1 129.6 l-4.2 0.1 M1057.8 148.2 l-8.4 -0.4 M1057.9 154.9 l-6.6 0.9 M956.8 137.2 l-5.6 0.1 M968.1 148.2 l-4.1 1.3 M958.3 134.6 l-4.1 0.2 M990.9 172 l-6.2 0.5 M974.7 160.3 l-8.2 0.1 M936.8 127.8 l-8.7 1 M1011.1 172.8 l-7.1 0.6 M945.7 168.4 l-6.8 2.2 M969.3 127.3 l-6.3 -0.2 M960.5 149.5 l-6.4 1 M978.9 130.1 l-7.1 2.3 M1053.4 135.3 l-4.1 0.7 M978.1 146.6 l-8.9 0.4 M978.6 129.1 l-8.6 2.4 M953.7 128.9 l-5.4 -0.1 M1015 136.8 l-4.4 1 M963.3 138.7 l-6.2 -0.1 M988.3 131.2 l-4.4 0.1 M1028.6 138.7 l-4.4 1.1 M1066 154.5 l-5.4 0.7 M949 150.6 l-5 1.2 M993.4 127.4 l-9.7 -0.4 M1002 167.6 l-6.3 0.2 M963.5 152.1 l-6.1 1.5 M1020.6 144.3 l-4.8 1.4 M1021.3 163.6 l-6.1 -0.3 M1016.3 133.8 l-6.3 0.5 M978.7 143.4 l-6.8 1.6 M1007.5 138.7 l-4.4 -0.1 M1019.7 135 l-7 2.2 M1069.5 151.2 l-6.2 -0.3 M987.2 167.8 l-5.3 0.4 M977.3 138.5 l-7.5 2.6 M940.1 130.5 l-7.4 1.4 M944.3 148.4 l-8.9 3 M1051.2 148 l-4.6 0.1 M1067.1 155.2 l-9.7 -0.1 M1037.8 129 l-6.4 1.1 M952 153.8 l-6.2 1.4 M1010.1 143.6 l-9.5 -0.1 M1047.1 125.1 l-8.6 0.8 M970.3 147.1 l-6.3 1 M965.9 172.1 l-6.7 0.9 M974.2 171.1 l-8.1 1.2 M992.6 167.2 l-8.8 2.8 M993.8 171.9 l-9.9 0.4 M973 147.6 l-5.7 1.2 M1032.1 129.3 l-4.7 1 M986.4 148 l-7.4 2.5 M1013.9 137.6 l-7.2 1.8 M1001.9 159.1 l-4 1 M1005 154.4 l-8.6 -0.2 M941.1 143.6 l-6 -0.2 M997.6 156.6 l-9.5 0.9 M1033.7 170.3 l-9.5 3.3 M1008.4 143.7 l-9.5 0.7 M1049.6 131.6 l-6.1 0.9 M964.3 146.9 l-4.3 -0.1 M1037.5 137.6 l-9 1.8 M1022.1 136.8 l-5.5 1.7 M1012.8 125.4 l-4.2 1.2 M1019.7 154.5 l-5.2 1.8 M944.7 158 l-4.5 -0.1 M1051.6 130.7 l-8.5 0.5 M936.1 161.6 l-7 2.2 M957.2 135.4 l-5.5 1.8 M997.2 152.6 l-9.4 0.1 M993.4 162.9 l-9 0.6 M1023.7 171.2 l-4.7 1.2 M950 155.5 l-9.1 1.7 M1069.2 143.5 l-7.8 1.9 M992.2 167 l-4.4 0.3 M1065.2 163.2 l-9.4 1.4 M993 135.8 l-4.2 0.7 M950.7 149.7 l-9.4 3.1 M950 162.1 l-4.7 0.8 M1071.2 151.2 l-6.6 0.4 M1008.4 131.7 l-4.3 1.4 M996.7 169.3 l-7.4 1.1 M954.3 134.7 l-8.1 2 M1072.7 131.4 l-4.9 -0.1 M1020.9 166.4 l-5 1.1 M1002.9 167.2 l-9.5 0.6 M953.5 156.6 l-8.5 2.1 M1065.3 140 l-9.1 2 M1050.7 157.6 l-6 1.5 M1033.5 154.6 l-8.7 0.1 M936.1 163.2 l-8.6 2.5 M1052.8 136.4 l-9 1.9 M1015.6 160.9 l-7 0.9 M1036.7 142.9 l-7.5 1.9 M1030 127.9 l-5.5 1.6 M943.7 125.6 l-8.5 -0.1 M996 163.8 l-6.9 1.1 M1071.6 134.6 l-4.4 0.4 M986.5 129.2 l-5.2 -0.3 M1058.5 158.3 l-5.3 0.6 M1033.7 146.4 l-5.1 0.4 M986 129.5 l-7.6 0.7 M975.4 125.2 l-4.9 0.6 M936.7 151.5 l-9.7 2.8 M1062.6 128.8 l-4.8 -0.2 M1018.4 161.5 l-6.8 1.9 M1061.9 154.3 l-7.2 0.1 M945.6 150.9 l-5.3 1.1 M1042.7 139.9 l-8 -0 M947.2 155.9 l-9.5 1.9 M1006.3 147.6 l-6.6 0.1 M997.5 128.3 l-8 0.4 M948.4 139.5 l-9.6 0.6 M983.3 170.6 l-4.5 0.4 M1029.4 147.2 l-4.5 1.4 M1030 146.8 l-9.1 -0.2 M975.1 137.7 l-8.9 1.3 M1020.2 144.5 l-6.5 0 M1056.4 139.7 l-6.2 1.2 M959.9 146.5 l-8.3 -0.3 M974.9 156.7 l-4.2 0.6 M1020.8 165.9 l-5.1 0.7 M953.7 161.1 l-8.4 1.1 M959.7 144.8 l-9.6 1.1 M1020.8 146.1 l-7.7 1 M940.8 164.5 l-7.9 0.4 M1015.5 149.3 l-9.3 2.5 M982.3 154.5 l-4.9 1.6 M1004.4 138.1 l-7 -0.2 M1071.5 163 l-5.3 0.7 M952.6 134.2 l-9.9 0.7 M1050.5 162.8 l-5.5 0.1 M944.9 133.4 l-8.3 1.2 M1060.9 151.9 l-6.3 1.1 M940.9 137.5 l-6.7 -0 M1038 153.6 l-5.9 0.6 M1022.9 166.3 l-8.7 0.6 M937.1 153.2 l-5.3 -0.2 M967.2 134.8 l-8 1.5 M1036.1 134.9 l-9.4 -0 M1030.6 128.7 l-5.1 0.7 M948.9 160.8 l-6.1 0.9 M954.2 146.5 l-7.3 0.2 M1063.3 125.9 l-7 0.5 M972.9 132.7 l-6.3 2 M984.1 158.5 l-7.6 -0.3 M974.4 168.2 l-6.6 0.4 M1002.4 132.1 l-8 1.9 M1009.6 162.2 l-9.7 1.9 M1005.2 157 l-6 1.3 M944.3 161.4 l-5.4 0.8 M1034.9 161.9 l-6.7 2.2 M1067.3 163.8 l-8.8 -0.2 M1069 148.8 l-6.9 1.5 M942.6 171.3 l-5.9 0.9 M969 157.2 l-7.3 2.3 M981 137.4 l-6.1 -0.3 M956.3 140.1 l-8.5 2.8 M970.1 139.1 l-7.8 1.1 M1007.7 137.9 l-4.8 1.3 M996.1 162 l-7.2 2.2 M1065.6 127 l-9.4 1.1 M956.4 172.7 l-7.3 0.5 M1001.1 139.8 l-8.6 0.4 M950.2 136.4 l-10 2 M1028.2 157.4 l-7.1 0.7 M982.1 136.2 l-5.9 0.9 M1017.3 135 l-5.3 -0.1 M960.8 146.5 l-9.3 2.9 M1043.4 131.4 l-9.6 2.9 M1050.7 170.1 l-8.2 -0.2 M1025.8 168.9 l-7.9 -0.3 M983.2 133.2 l-5.4 0.8 M1063.8 126.4 l-9.2 -0.1 M994.6 134.3 l-5.3 -0 M1066.4 170.9 l-6.1 0.7 M942.3 147.1 l-5.3 1.1 M976.7 139.5 l-7.6 1.2" stroke="#4a3028" stroke-width="0.7" opacity="0.35" fill="none"/>
<path d="M1021.3 160.8 l-8.6 2.9 M1062.4 126.3 l-6.7 2.2 M1014.6 125.5 l-5.3 0.3 M1040.9 132.6 l-8.7 0.1 M1028.8 134.8 l-9.6 2.2 M944.8 139.5 l-7.5 -0.4 M1015.2 125.3 l-4.2 0.1 M984.5 150.3 l-8.5 -0.1 M982.6 154.5 l-9.5 0.8 M1049.2 147 l-6.4 -0.2 M940.4 148.8 l-8.9 0 M956.4 165.8 l-5.8 0.8 M1052.7 172.1 l-6.7 1 M1043.7 162.4 l-8.2 1.8 M985.7 159 l-5.7 0.8 M1047.9 156.2 l-8.8 0.8 M1037.1 165 l-6 1.7 M958.7 165.4 l-9.6 1.4 M1027.1 145.3 l-7.7 2 M1034.7 126.2 l-5 0.6 M962.4 126.6 l-6.8 0.7 M1015.5 171.3 l-8.9 1 M1067.1 171.8 l-7.6 0.7 M975.9 172 l-6.2 2.1 M952.6 155 l-6.6 0.4 M1049.3 125.5 l-7.2 0.4 M1043.1 136.8 l-5.6 0.1 M976.1 154.3 l-6.8 1.4 M1061.6 167.9 l-7.1 -0.3 M976.5 165.1 l-4.4 1.2 M1016.2 164.2 l-4.4 0.2 M1044.4 157 l-4.1 1 M995.1 140.1 l-7.6 1.1 M987.2 127.6 l-8.1 0.1 M968 142.9 l-8.4 0.2 M1066.4 157.9 l-5.3 -0 M1052.7 149.9 l-7.6 1.4 M957.1 132.6 l-6.2 0.7 M1064.5 158.2 l-8 1.1 M952.1 157.3 l-5.7 1.3 M1028.1 170.4 l-7.9 1 M991.8 139.7 l-4.2 -0.1 M1014.2 143.1 l-7.7 1.9 M978.9 161.3 l-7.2 2.3 M1040.1 152.7 l-6.6 1.8 M1066.8 160.1 l-8.2 0.5 M939.7 127.4 l-4.8 0.4 M981.2 125.5 l-7.4 2.1 M1064.6 163.4 l-4.7 0.4 M999.1 145.9 l-6.6 1.7 M1008.9 171.8 l-7.5 -0.1 M984.1 136.9 l-9.8 2.8 M941.1 133.1 l-4.6 1.1 M963.2 163.5 l-5.9 1.3 M1070.6 164.4 l-9.5 2.2 M1009.5 163.6 l-6.2 1.2 M1015.5 161.7 l-8.3 0.6 M973.5 159.6 l-4.4 1.1 M1067.1 168.3 l-8.1 2.3 M960.3 156.5 l-9.3 2.9 M988.9 130.2 l-8.1 1.4 M1021.2 168.3 l-5 1 M966.7 127.9 l-7.3 2.1 M1035.7 145.1 l-6.6 1.1 M962 153.7 l-7.9 1.8 M1052.5 156.1 l-9.5 0.4 M948.6 132.3 l-7.6 -0.1 M1036.8 164.4 l-8.8 2.1 M944.7 134.9 l-6.2 0.8 M1067.9 170.6 l-4.4 1.1 M976.5 130.6 l-6.9 0.6 M1061.8 143.4 l-5.7 0.9 M1044.1 152.8 l-5.8 0.5 M1007.1 127.3 l-6.5 0.3 M946 138 l-4.6 0.6 M989.7 162.6 l-6.6 1.2 M1024.3 155.7 l-4.1 -0.2 M1072.9 161.5 l-9.3 0.1 M959.1 147.1 l-4.4 0.5 M1057.3 134.4 l-4.1 1.2 M1018 131.5 l-5.3 1.7 M940.2 133.8 l-6.5 0.4 M987 162.4 l-4.9 0.8 M958.7 170 l-4.5 0.6 M955.6 171.7 l-5.6 0.3 M1058.9 133.5 l-4.7 -0.1 M1055.4 126.8 l-7.4 -0 M1024.9 168.1 l-8.2 -0.2 M948 142 l-4.5 0.5 M1025.1 133.4 l-4.8 0.7 M1003.6 150.8 l-9.4 1.6 M971.4 142.2 l-9.3 0.5 M991.9 140.8 l-4.5 -0.1 M1069.3 145.6 l-5.3 0.8 M988.2 155.6 l-9.5 0.8 M1037.9 137.3 l-6.8 1.7 M1015.5 137.1 l-6 -0.2 M952.7 161.9 l-6 1.1 M1056.1 131.3 l-6.5 0.8 M1009.3 148.1 l-4.7 0.1 M1024.3 136 l-5.5 -0.3 M1044.9 162 l-7.7 2.2 M1034.1 166.1 l-7.6 -0.3 M977 160.2 l-6.3 0.1 M991.9 126.2 l-6.7 1.7 M1053.8 158 l-8.5 2.6 M1044.6 145 l-7.9 1.7 M1029.4 162.1 l-5.2 0.8 M996.3 164.7 l-5.4 0.4 M948.8 160.2 l-6.4 0.5 M1005.4 165.8 l-7.4 1 M1039.5 168.7 l-4.3 -0.1 M981.4 158.5 l-7 2.1 M1021.6 130.3 l-9.3 0.9 M1065.2 170.4 l-6.3 1.9 M944.9 130.2 l-9.9 2.5 M977.7 166 l-9.1 2.2 M969.8 142.7 l-9.7 1.4 M1032.5 160.3 l-6.8 2.1 M1050.9 139.5 l-7.4 1.4 M978.7 138.4 l-6.8 1.3 M1020.4 154.6 l-7.9 2.6 M1033.2 159 l-5.4 1.1 M1013.6 172.9 l-5.9 1.4 M947.5 162.5 l-7.9 1.3 M1053.8 132 l-6.9 1.4 M1061.1 170.7 l-8.5 0.7 M1008.8 157.2 l-7.7 2.3 M962 169.9 l-5.6 0.4 M971.5 172.8 l-8.3 2 M936.8 139.8 l-6.7 2.1 M994.4 150.1 l-6.7 0.5 M939.9 130.8 l-6.3 -0.3 M1052.8 148.3 l-4.4 -0.1 M1015.2 139 l-8.1 -0.3 M1064.3 157.1 l-4.3 0.5 M1057.4 139.3 l-9.9 0.8 M972.5 144.8 l-9.7 1.8 M1037.3 161.3 l-7.7 1.1 M1043 148.7 l-5 1.5" stroke="#e0b8a8" stroke-width="0.6" opacity="0.35" fill="none"/>
</g>
</g>
<ellipse cx="1010.8" cy="160.1" rx="94.6" ry="72.2" fill="none" stroke="#000" stroke-width="3.6" stroke-dasharray="6.2 7.6" stroke-linecap="round"/>
<ellipse cx="1242.1" cy="160.1" rx="94.8" ry="72.3" fill="url(#bg)"/>
<g clip-path="url(#cp1)">
<path d="M1240.2 86 C1256.4 89 1238.7 93.6 1237.2 98.2 C1235.7 102.8 1233.6 108.1 1231.1 113.4 C1228.6 118.7 1225.3 124.8 1222 130.1 C1218.7 135.4 1213.8 141.5 1211.4 145.3 C1209 149.1 1211.1 149.5 1207.6 152.9 C1204 156.3 1196.3 163.7 1190.1 166 C1183.9 168.3 1177.2 167 1170.4 167 C1163.6 167 1154.2 166.3 1149.1 166 C1144 165.7 1141.5 179.3 1140 165 C1138.5 150.7 1123.3 93.2 1140 80 C1156.7 66.8 1224 83 1240.2 86 Z" fill="#45372f"/>
<clipPath id="fc1"><path d="M1240.2 86 C1256.4 89 1238.7 93.6 1237.2 98.2 C1235.7 102.8 1233.6 108.1 1231.1 113.4 C1228.6 118.7 1225.3 124.8 1222 130.1 C1218.7 135.4 1213.8 141.5 1211.4 145.3 C1209 149.1 1211.1 149.5 1207.6 152.9 C1204 156.3 1196.3 163.7 1190.1 166 C1183.9 168.3 1177.2 167 1170.4 167 C1163.6 167 1154.2 166.3 1149.1 166 C1144 165.7 1141.5 179.3 1140 165 C1138.5 150.7 1123.3 93.2 1140 80 C1156.7 66.8 1224 83 1240.2 86 Z"/></clipPath>
<g clip-path="url(#fc1)">
<path d="M1225.8 133.4 l-1.4 13.1 M1201.5 107 l-0.5 15.7 M1241.8 129.5 l-3.9 10.2 M1238.7 99.4 l1.4 17.3 M1152.2 91.8 l-6.3 17.1 M1225.1 133.8 l1.2 20.6 M1145.6 86.1 l2.7 26 M1180.6 93.8 l-1 15.5 M1220.7 116.6 l-2.6 16.8 M1213.5 102.2 l-5.3 15.5 M1199.2 107.9 l-0.9 27.4 M1192.9 158.3 l-1.4 20.4 M1180.8 73.4 l-1 10 M1145.2 80.5 l2.4 18.9 M1183 153.3 l1.8 24.3 M1235.6 144.4 l3.5 29 M1208.8 83.7 l2 21.8 M1173.6 77.7 l-3.7 13.4 M1192.6 111.1 l-2.1 23.2 M1231.4 154.5 l-7.6 21.8 M1164.1 112.8 l-0.1 16.8 M1214.4 76.4 l1.3 26.9 M1171.1 101.2 l-1.6 24.8 M1183.4 164.6 l-9.7 25.6 M1240.2 101.7 l-0.3 10.9 M1197.3 153.4 l-1.2 17.9 M1152.4 128.8 l3.5 27.1 M1172.8 124.2 l-5.2 18.5 M1242.4 147 l-3.1 16.9 M1140.7 100.2 l-9.8 27.3 M1205.1 105 l1.4 13.6 M1200.9 111.6 l-4.6 16.3 M1233.1 108 l1.3 11.8 M1145.7 131.8 l-1.6 19.4 M1162.2 93.9 l-1.7 22.2 M1195.7 73 l-3.5 9.5 M1219.9 165 l-2.2 12.3 M1140.8 106.5 l-3.9 18.8 M1204.1 117.4 l-4.5 23.8 M1164.2 87.1 l-5.6 18.4 M1181.2 153.3 l-0.6 17.5 M1168 152.6 l-0.8 13.5 M1172.3 134.9 l-1.6 13 M1145 76.6 l-2.5 17.2 M1217.6 144.1 l-0.4 18 M1149.3 133.7 l1.1 19.1 M1136.3 87.3 l-2.4 13.2 M1171.8 127.1 l-1.7 13 M1140.3 139.3 l1.3 19.1 M1218 152.5 l-4.5 25.9 M1244.9 131.4 l-0.5 24.2 M1207.4 113.7 l-1.7 14.4 M1168.3 142.7 l-2 28.1 M1195 131.2 l-5.7 25.7 M1226.8 73.1 l1.7 13.2 M1219.6 72.8 l-6.6 18.2 M1136.9 135.9 l-3.7 18.7 M1208.2 93.2 l2.3 20.2 M1214.8 74.1 l-7 23.6 M1211.6 93.8 l-6.5 22 M1212.5 88.5 l-4.7 17.9 M1145.2 75.7 l-5.7 23.8 M1212.2 143.4 l0.8 20.7 M1236.8 143.2 l-5.8 18.1 M1202.6 72.2 l-3.6 21.6 M1142.3 77.6 l-5.4 22.3 M1207.7 75.2 l1.3 18.7 M1167.3 103.8 l-9.3 28.1 M1176.5 115 l-4.2 17.6 M1210 125.7 l-0.5 15.3 M1190.3 133.8 l-1.2 16.7 M1176.1 156.5 l-2.9 21.4 M1226.1 147.1 l-3.7 17.4 M1172.5 78.8 l-4.1 26.8 M1211.6 86.1 l0.9 10.2 M1223.2 163.9 l-1.3 16.2 M1240.2 83.9 l1.3 23 M1242.8 109.5 l1.2 21.3 M1230.1 152 l-0.3 13.3 M1156.1 119.6 l-4.3 23.8 M1188.9 140.8 l-4.9 26.4 M1189.6 138.6 l1.1 15.8 M1140.2 76.5 l-2.7 16.8 M1153.8 74.3 l-2.3 14.4 M1171.7 119.9 l-1.4 22.1 M1163 107.6 l-7.6 19.7 M1138.9 101.7 l-3.8 27.4 M1152.4 158.5 l-2.2 11.7 M1205.2 158.4 l2.8 24.6 M1208.1 98.5 l-5.6 28.6 M1184.7 91.9 l-0.7 20.7 M1199.7 112.4 l-3.5 9.8 M1212.2 85.4 l-5.5 28.7 M1155.6 159.3 l-1 26.9 M1170.7 98.5 l-2.8 18.4 M1196 155.8 l-0.3 19.8 M1165.2 80.8 l-8.8 24.7 M1207.3 138.1 l-8 24 M1168.7 151.8 l-4.4 27.6 M1165 101.1 l-1.1 15 M1228.5 135.6 l0.2 20.9 M1170.7 152.3 l-5.6 26.1 M1184.4 93.5 l-5.5 18.7 M1205.7 144.8 l-2.8 22.8 M1206.6 135.5 l-3.2 12.3 M1199.3 142.7 l-8.5 26 M1205.6 158 l2.1 24.1 M1165.3 88.3 l2.2 20.7 M1184.2 115.3 l-4.6 20.4 M1180.3 111.8 l1 15.9 M1139.9 150.7 l-4.3 25 M1178.8 132.9 l-6.2 27.4 M1168.4 71.7 l-7.5 25.8 M1140.5 112.4 l-5.7 19.2 M1143.4 163.9 l-0.1 12.8 M1243.1 153.5 l-5.1 20 M1136.9 121.5 l-4.7 19 M1163.7 82.9 l2 15.8 M1164.5 129 l0.4 14.1 M1156.7 115.5 l-2.5 16.3 M1167.5 95.6 l1.1 26.2 M1228.1 165.1 l-2.3 25.6 M1157.7 127.5 l1.1 19.8 M1206.4 122.6 l-4.4 12.9 M1139.5 91.8 l-2.4 29.8 M1227.3 75.3 l-1.5 18.2 M1230.2 114.5 l1.7 22.2 M1184.6 111.3 l-5.6 21.6 M1172.3 104 l-2.8 28.8 M1143.6 101.7 l1.4 18.7 M1176.9 120.3 l-1.4 11.2 M1179.1 108.4 l-6.4 25.7 M1184.2 144.5 l-4.9 27.9 M1195.3 88 l-1.8 10.2 M1202.2 115.5 l1.1 18.9 M1164.9 151.8 l0.7 16.2 M1185.2 80.6 l-1.9 16.3 M1217.2 162.7 l-2.8 25.6 M1233.3 149 l-8.5 25.2 M1178.7 72.4 l-9.5 27.9 M1165.4 121.9 l-8.7 24.9 M1176.9 165.6 l-5.2 27.4 M1161.7 161.3 l-2.4 21.3 M1223.6 137.1 l0.9 10.2 M1161.5 128.8 l-3.6 18.2 M1240.1 88.8 l-2.9 20.3 M1194.8 124.6 l-1.9 23.7 M1146.5 146.7 l-6 26.4 M1220.7 116.7 l2.1 25.2 M1240.4 96.4 l-3.3 13" stroke="#a8917a" stroke-width="0.7" opacity="0.5" fill="none"/>
<path d="M1198 111.6 l-5.7 20.8 M1162.5 162.4 l-10.2 28.1 M1210.6 134.2 l0.2 12.7 M1195.5 112.3 l-0.9 11.3 M1197.5 106.3 l-6.8 21 M1148.2 114.2 l-0.6 13.3 M1188.9 114.8 l-2.9 17.8 M1194.4 117.5 l-2 13.2 M1185.5 112.3 l-2.9 19.8 M1234 137.7 l-0.8 18.4 M1151.9 93 l-0.6 22.4 M1199.9 150.5 l0.7 19.6 M1245.2 156.1 l0 19.3 M1175.1 130.8 l-5.9 21.8 M1144.8 75.4 l-2.1 14.9 M1204.3 97.4 l-2.8 23.7 M1184.2 116.3 l-0.5 19.6 M1223.3 109.3 l2.9 25.7 M1155.5 86.3 l0.3 11.9 M1159.2 142.3 l-7.9 27.9 M1228.4 125.7 l0.7 20.4 M1236.5 119.6 l-2.9 16.7 M1173.3 84.1 l-0.5 27.3 M1214.6 165.6 l0.6 13.5 M1151.8 160.4 l-0.7 13.7 M1179.7 143 l0.4 19.4 M1154.1 155.3 l-3.4 21.4 M1146.8 140 l-3.6 15.8 M1233.2 103.5 l-1.7 28.1 M1193.7 71.2 l-0.4 13.2 M1159 104.5 l-8 28.3 M1193.5 77.3 l-9.3 24.5 M1172.3 159.1 l-4.7 24.1 M1243.7 86.6 l-3.2 13.8 M1182.8 134.2 l1.8 22.4 M1192.8 83.7 l-3.7 11.5 M1223.9 148.5 l-1.1 21.5 M1182.1 119.4 l-1.3 24.2 M1206.2 122 l-3.1 13.9 M1202.1 113.8 l1.2 28 M1186.8 96.6 l-1.6 14.1 M1197 162.4 l-6.2 20.2 M1169.9 161 l-1.8 12.5 M1241.8 120.6 l0.3 17.6 M1235.7 140 l1.6 12.5 M1183 134 l2.4 26.6 M1239.8 93.4 l-2.3 12.9 M1200.9 136.6 l-4.6 26 M1243.8 121.9 l1.4 24.9 M1135.5 135.4 l0.4 20 M1227.4 111.7 l-1.6 11.7 M1143.1 106.7 l-4.2 10.8 M1195.7 125.4 l-9 26.5 M1176.2 85.6 l-8.9 24 M1210 95.1 l-4.5 12.3 M1219.4 104 l0.4 21 M1200.8 98.6 l-1.4 11 M1174.6 140.5 l-6.4 18.3 M1195.5 101.2 l1.7 13.9 M1178.4 107.7 l-6.9 24.9 M1228.7 117.7 l-2.6 27.4 M1188.8 164.8 l-1 24.9 M1160.5 138.2 l-3.4 26.5 M1218.2 148.3 l-1.1 26 M1215.4 120.7 l-7 24.9 M1205.3 122.4 l2 22 M1211.1 157.4 l-5.6 26.8 M1232.6 126.5 l-7.9 27.4 M1161.7 108.8 l-3.2 19.9 M1233.1 131.9 l1 26.9 M1230.5 75.5 l1 24 M1194 142.1 l-4.1 21.2 M1186.2 102.3 l-2.7 11.1 M1196.2 86.4 l0.1 10.1 M1174.8 155.5 l1.1 13.1 M1208.9 74.9 l-7.1 24.2 M1195.6 75.9 l1.4 15.8 M1168.9 164.8 l-0.5 11.4 M1228.4 132.7 l-6.1 24 M1171.9 117.6 l-2.7 26.4 M1210.1 87 l-9.9 25.7 M1205.6 103.2 l1.1 13.8 M1141.1 145.4 l-7.5 20 M1191.1 159.5 l-6.3 20.9 M1159.7 125.7 l1.4 21.6 M1135.9 84.2 l-2.9 12.3 M1158.5 129.8 l-5.7 20.7 M1138.2 85 l-1.4 20.3 M1177.3 148.8 l-4.2 19 M1228.6 124 l-1.3 28.9 M1237.2 99 l-8.8 24.3 M1142.7 150.8 l1.1 24 M1217.2 139.1 l-0.9 11 M1138.3 92.1 l-1.4 20.7 M1232.3 106.8 l-2.3 23.1 M1178.1 159.1 l-0.2 26.9 M1204.1 118.5 l-4.9 29.5 M1205.8 72.2 l-4.8 13.9 M1225.3 95.3 l-3 29.8 M1156.7 147.2 l-7.3 21.4 M1219.2 106.7 l-5 14.5 M1168 92.7 l-5.7 18.1 M1163 143 l-2.4 27.8 M1224.3 97.7 l-2.3 27.3 M1152.6 122.3 l-7.8 25.3 M1202.7 111.7 l-0.7 10.4 M1208.4 140.3 l-0.7 11.4 M1162.6 111.1 l-2.7 17.7 M1137.5 137.4 l-5.5 18.9 M1206.1 133.6 l-0 12.1 M1194.2 129.1 l0.4 22.2 M1221.5 120.1 l-5.7 18.5 M1147.9 166.4 l-0.2 11.5 M1141.7 116.5 l2.2 18.7 M1135.1 70.3 l-6.4 19.5 M1230.3 76.4 l-6.2 21.8 M1212.9 140.3 l-0.8 25.8 M1163.9 115.6 l-5.4 27.5 M1237.5 165.8 l-0.9 21.7 M1221.9 136.7 l-2 11.9 M1181.4 146.5 l0.4 26.9 M1171.7 118.7 l-4.1 26.4 M1182 102.5 l1.3 14.2 M1147.9 115.1 l0.4 16.5 M1198 149.5 l-3.8 27 M1187.3 125.1 l0.5 13 M1212.7 85.6 l-1.2 11.8 M1207.8 140.7 l-2.8 14.9 M1168.8 105.6 l-8.2 24.1 M1145.1 104.9 l-3.1 18.6 M1176.1 92.3 l3.8 29.3 M1181.4 77.5 l-2.8 15.4 M1218.2 137.6 l-2 18.6 M1211.7 88.4 l1 27.2 M1220.6 143.2 l-4.3 20.2 M1165.7 123.8 l-4.4 12 M1161.9 71.3 l0.4 13 M1240.7 108.8 l-1.4 19 M1217 150.6 l-1.2 11.8 M1162.1 107.2 l0.1 11.5 M1148.2 143.3 l-3.8 28.7 M1201.4 104.5 l2.2 19.2 M1182.7 127.3 l0.9 16.7 M1150.3 153.7 l-8.5 27.3 M1152.3 75.6 l-7 27 M1142.7 133.7 l-8.5 22.7 M1235.9 84.1 l-3.6 23.6 M1188.2 132.9 l-5.5 29.3 M1185.5 141.6 l-4.8 14.2 M1170.5 99.9 l-4 26.6 M1219.2 137.3 l-1.7 16.8 M1196.9 97.2 l-7.2 25.6 M1140.1 125.4 l-1.3 26.7 M1235.8 140.2 l1.6 23.1 M1238.2 71 l-5.9 24.5 M1148.6 128.7 l-6.2 19.8 M1153.8 85.3 l-7.7 24.4 M1214.8 80.4 l-5.8 26.7 M1235.6 155.2 l2.3 26.3 M1200.8 147.3 l-4.4 29.4 M1209.9 112.9 l-2.7 15.9" stroke="#231a16" stroke-width="0.9" opacity="0.5" fill="none"/>
</g>
<path d="M1240.2 86 C1256.4 89 1238.7 93.6 1237.2 98.2 C1235.7 102.8 1233.6 108.1 1231.1 113.4 C1228.6 118.7 1225.3 124.8 1222 130.1 C1218.7 135.4 1213.8 141.5 1211.4 145.3 C1209 149.1 1211.1 149.5 1207.6 152.9 C1204 156.3 1196.3 163.7 1190.1 166 C1183.9 168.3 1177.2 167 1170.4 167 C1163.6 167 1154.2 166.3 1149.1 166 C1144 165.7 1141.5 179.3 1140 165 C1138.5 150.7 1123.3 93.2 1140 80 C1156.7 66.8 1224 83 1240.2 86 Z" fill="url(#furg)"/>
<path d="M1207.6 152.9 C1214.4 151.8 1222.1 151.9 1231.1 151.4 C1240.1 150.9 1252.6 149.9 1261.5 149.9 C1270.4 149.9 1276.7 149.6 1284.3 151.4 C1291.9 153.2 1300 157 1307 160.5 C1314 164 1323.5 169.6 1326 172.6 C1328.5 175.6 1324.6 176.7 1322.2 178.7 C1319.8 180.7 1315.4 184.3 1311.6 184.8 C1307.8 185.3 1305.3 183 1299.5 181.7 C1293.7 180.4 1283 178.2 1276.7 177.2 C1270.4 176.2 1267.8 175.3 1261.5 175.7 C1255.2 176.1 1247.6 179.2 1238.7 179.5 C1229.8 179.8 1216.4 178.6 1208.3 177.2 C1200.2 175.8 1195.1 173.1 1190.1 171.1 C1185 169.1 1178 167.2 1178 165 C1178 162.8 1185.1 160 1190 158 C1194.9 156 1200.8 154 1207.6 152.9 Z" fill="url(#pawR)"/>
<path d="M1207.6 152.9 C1214.4 151.8 1222.1 151.9 1231.1 151.4 C1240.1 150.9 1252.6 149.9 1261.5 149.9 C1270.4 149.9 1276.7 149.6 1284.3 151.4 C1291.9 153.2 1300 157 1307 160.5 C1314 164 1323.5 169.6 1326 172.6 C1328.5 175.6 1324.6 176.7 1322.2 178.7 C1319.8 180.7 1315.4 184.3 1311.6 184.8 C1307.8 185.3 1305.3 183 1299.5 181.7 C1293.7 180.4 1283 178.2 1276.7 177.2 C1270.4 176.2 1267.8 175.3 1261.5 175.7 C1255.2 176.1 1247.6 179.2 1238.7 179.5 C1229.8 179.8 1216.4 178.6 1208.3 177.2 C1200.2 175.8 1195.1 173.1 1190.1 171.1 C1185 169.1 1178 167.2 1178 165 C1178 162.8 1185.1 160 1190 158 C1194.9 156 1200.8 154 1207.6 152.9 Z" fill="url(#pawV)"/>
<clipPath id="pc1"><path d="M1207.6 152.9 C1214.4 151.8 1222.1 151.9 1231.1 151.4 C1240.1 150.9 1252.6 149.9 1261.5 149.9 C1270.4 149.9 1276.7 149.6 1284.3 151.4 C1291.9 153.2 1300 157 1307 160.5 C1314 164 1323.5 169.6 1326 172.6 C1328.5 175.6 1324.6 176.7 1322.2 178.7 C1319.8 180.7 1315.4 184.3 1311.6 184.8 C1307.8 185.3 1305.3 183 1299.5 181.7 C1293.7 180.4 1283 178.2 1276.7 177.2 C1270.4 176.2 1267.8 175.3 1261.5 175.7 C1255.2 176.1 1247.6 179.2 1238.7 179.5 C1229.8 179.8 1216.4 178.6 1208.3 177.2 C1200.2 175.8 1195.1 173.1 1190.1 171.1 C1185 169.1 1178 167.2 1178 165 C1178 162.8 1185.1 160 1190 158 C1194.9 156 1200.8 154 1207.6 152.9 Z"/></clipPath>
<g clip-path="url(#pc1)">
<path d="M1204.8 165.9 l6 0.2 M1251.1 160.4 l6.7 0.4 M1317.7 153 l5.4 1.3 M1207.9 166.3 l9.2 2.6 M1257.6 163.8 l7.1 2 M1222.9 149.4 l6.8 2.2 M1258.6 148.6 l4.8 0.1 M1199.2 156.1 l9 0.6 M1325.2 162.2 l4.1 0.7 M1202.1 168.2 l7.9 1 M1240.5 158.1 l7.7 1.1 M1315.7 168.8 l8.3 2.8 M1295.9 149.8 l5.8 1.1 M1226.6 164.1 l9.6 2.3 M1238.4 161.4 l8.3 2.9 M1315 170.1 l4.3 0.2 M1209.9 150.8 l4.8 1.1 M1309.3 174.6 l4.9 1.7 M1292.6 171.8 l8.1 1.1 M1273.8 174.1 l5 1.8 M1236.8 168.6 l8.3 1.5 M1214.5 150.1 l7.7 -0.3 M1253.7 154 l4.8 0.7 M1218.7 147.7 l7.6 2 M1180.1 165.8 l9.2 1.6 M1202.8 175.7 l9.9 0.4 M1300.6 172.1 l4.2 0.7 M1322.1 157.7 l4.5 1.5 M1321.1 160.3 l9.2 2.8 M1227.5 158.9 l5.1 1.7 M1213 151.4 l4.9 1.3 M1225.7 163.5 l9 2.6 M1216.3 174.6 l5.4 0.7 M1303.6 160.7 l5.4 0.3 M1325.1 152.8 l8.4 2.9 M1207.5 175.2 l8 2.2 M1262.9 153.2 l8.8 1.4 M1289.6 163.5 l6.5 1.8 M1278.3 162.3 l6.2 0.6 M1205.2 151.1 l5.9 1.4 M1210.9 167.1 l6.3 -0.1 M1225 169.7 l5.2 1.5 M1190.8 164.7 l9.6 1.9 M1312.9 166.2 l4 0 M1238 156.1 l7.9 2.5 M1185 157.3 l5.2 1.6 M1245.3 164.5 l4.3 -0.1 M1185.6 149.2 l5.9 2 M1257.9 172.7 l6.3 0.4 M1212.5 164.4 l9.1 3.2 M1224.7 147.3 l5.8 0.7 M1204.3 157.3 l6.7 0.2 M1227.1 160.2 l6.3 0.9 M1270.7 160.9 l5.8 1.9 M1248.8 164.4 l4.5 0.5 M1260.7 167.6 l9.7 0.6 M1203.7 172.5 l9.1 1.6 M1196.6 160.6 l5.3 0.5 M1298.9 163.9 l7.7 -0.2 M1280.4 162.3 l5.7 1.6 M1264 174.8 l6.6 2 M1291 164.4 l8.2 0.4 M1301.9 167.7 l9.4 -0.3 M1211.1 174.6 l9.4 0.5 M1306.6 163.8 l9.3 -0.5 M1183.7 175.6 l9.2 1.9 M1233.9 161.3 l8.1 1.4 M1201.1 149 l7.6 2.7 M1305.3 169 l5.5 0.8 M1298.5 160 l9 1.1 M1258.8 169.7 l7.4 1.6 M1286.5 173.8 l6.9 1.4 M1281.3 146.5 l9 2.9 M1196.3 151.3 l7.5 -0.3 M1246.1 166.9 l4.7 1.1 M1281.9 157.2 l9 -0.2 M1308 170.9 l6 0 M1252.8 158.2 l8.9 -0.1 M1273 161.1 l6.6 1.3 M1253.1 147.5 l5.5 -0.2 M1184 175.9 l9.5 -0.3 M1315.2 174.6 l9.4 3.3 M1325 175.3 l5.8 0.9 M1320.6 164.8 l6 1.6 M1268 155.2 l6.6 1 M1292.5 148.7 l6.7 2 M1280.4 157.4 l8.6 -0.4 M1256.8 146 l8.5 -0.1 M1253.1 154.5 l5.3 1.4 M1286.2 164.3 l7.7 1.3 M1187.4 165.2 l4.4 0.5 M1293.9 166.4 l9.2 1.8 M1214.2 154.7 l6.5 1 M1205.8 153.7 l9.1 1.8 M1221.8 155.7 l4.5 1 M1292 166.5 l5 0.3 M1284.7 176.1 l4.2 0.7 M1290.5 154.7 l6.6 0.6 M1240.3 168 l9 1 M1309.6 155 l9.3 0.1 M1294.7 159.9 l6.6 1.1 M1193 147.9 l4.9 0.1 M1217.3 171.5 l4.1 1 M1297.4 170.5 l9.7 2.2 M1233.3 154.4 l9.5 0.9 M1243.3 146.7 l8.4 1.4 M1214.3 150.3 l7 -0.2 M1299.1 171.6 l5.3 0.6 M1223.9 149.8 l4.7 1.2 M1186 158.9 l8.1 1.8 M1243.3 153.9 l8.4 1.8 M1202.6 152.3 l7.7 0.6 M1256.4 154.9 l4.1 0.4 M1252.5 149.3 l6.9 -0.1 M1228.1 157.9 l7.7 2.4 M1232.3 157.9 l9.8 1.3 M1252.2 148.1 l5.3 0.8 M1258.6 146.3 l6.8 1.9 M1315.3 165 l5.6 0.5 M1212.6 159.9 l6.7 1.3 M1287 154 l6 -0.1 M1185.3 152 l6.2 0.3 M1238.5 163.7 l6.1 1.4 M1213.1 174.5 l8.3 0.6 M1249.8 153.8 l4.1 1.1 M1264.6 174.6 l7 0.6 M1200.3 154.5 l6.8 1.7 M1178.9 161.2 l4.4 0.9 M1321.5 149.4 l4.2 0.4 M1189.2 163.5 l4.1 0.6 M1254.8 161.6 l9.8 1.1 M1299.8 164.7 l9.1 1.5 M1283.5 167.3 l6.9 -0.1 M1249.5 150 l7.4 0.3 M1219 162.1 l7.2 0.7" stroke="#4a3028" stroke-width="0.7" opacity="0.35" fill="none"/>
<path d="M1280.4 155.7 l8 2.1 M1222.2 146.1 l9.8 0.4 M1279.2 164.9 l4.9 0.2 M1242.7 158.2 l6.8 -0.1 M1265.1 162 l6 1.7 M1273.9 162.3 l5.2 1.6 M1295.2 170.6 l8.1 1.3 M1197.7 166.7 l9.3 1.3 M1204.8 158.5 l5.6 0.6 M1260.7 159.7 l4.6 1.2 M1307.7 173.2 l4.9 0.1 M1319.7 167.9 l5.7 -0.1 M1315.7 153.8 l4.4 1.3 M1193.8 171.3 l9 0.5 M1292.8 161.9 l4.5 1.1 M1231.8 162.2 l7.8 1.3 M1284.1 159.4 l4.1 0.5 M1268.6 154.7 l9.9 0.6 M1190.4 166.8 l6.9 0.2 M1225.8 153.8 l5.7 0.2 M1226.8 174 l8.1 1.3 M1233.2 147 l7.8 -0.2 M1265.2 149.7 l8.8 2.3 M1186.2 166.1 l8.3 0.7 M1232 162 l4.7 0.6 M1199.7 155.2 l6.2 2.1 M1314.4 160.7 l5.2 0.9 M1255.1 149.1 l7.9 -0.2 M1289.8 171 l8.9 -0.2 M1282.5 174.5 l9.4 1.3 M1291.8 155.8 l9.6 -0.1 M1300 170.9 l7.8 0.5 M1256.5 163 l9 1.8 M1215.3 147.7 l8.4 2.1 M1197.1 170.5 l9.8 -0 M1277 155.5 l7.2 -0.3 M1293.5 168.8 l7.8 0.8 M1252.9 165.9 l5.6 0.1 M1198.6 167.5 l6.8 1 M1185 161.5 l9.9 0.6 M1258.5 169.1 l6.8 0.6 M1314.6 155.1 l9.3 -0.3 M1205.1 173.5 l7.3 1.6 M1295.6 163.7 l8.6 0.2 M1190.4 169.8 l8.7 1.6 M1276.4 168.4 l7.1 1.2 M1227.3 170.9 l9 1.8 M1291.8 146.3 l5 1.4 M1255.5 163.5 l5.6 -0 M1300.6 153.9 l6.6 0.8 M1228.2 166.3 l4.7 1.5 M1206.4 153.1 l8.8 -0.4 M1257.5 156.5 l6.7 0.8 M1178.6 148 l4.6 1.5 M1278.7 171.5 l4.3 0.2 M1229.6 147.1 l5.7 0.2 M1216.1 153 l6.3 1.8 M1322.9 172.5 l4.2 0.9 M1196.8 146.8 l6.9 0.5 M1218.5 154.6 l7.4 1.6 M1252.2 152.3 l9.4 2.7 M1208.7 167.8 l6.6 2.1 M1223.2 154 l8.2 2.5 M1300.9 175.1 l8.1 1.3 M1241.4 169.6 l7.9 1.7 M1278.3 148.7 l9 3.1 M1189.4 171.8 l8.2 1 M1254.5 171.5 l8 2 M1245.1 146 l7.4 1.1 M1310.3 149.9 l4.6 1.6 M1299.7 148.7 l4.9 1.1 M1247.8 155.6 l4.2 0.8 M1268.2 157.7 l5.4 0.9 M1285.2 170.8 l7.7 1 M1243.4 153.9 l7.8 2.5 M1209.4 165.2 l9.8 -0.2 M1255.8 166.6 l4.9 0.7 M1245.3 156.1 l7.4 0.6 M1282.2 175.5 l7.3 2.2 M1293.5 161.4 l4.2 0.8 M1214.5 152.4 l5.6 1.5 M1286 161.6 l4.2 1.2 M1250.8 161.3 l8.3 0.5 M1293.7 167.4 l5.8 0.2 M1319 166.7 l8.2 1.7 M1322.3 160.8 l9.1 0.3 M1275.4 147.7 l4.9 1.6 M1302.7 160.9 l4.9 0.8 M1223.4 163 l7.6 1.1 M1318.2 174 l9.2 1.8 M1233.5 163.7 l6.2 -0.1 M1273.8 155.3 l4.9 0.6 M1258.5 155 l7.1 0.6 M1274.3 158 l8 -0.1 M1205.3 161.1 l8.3 2.4 M1219.5 175.5 l5 1.4 M1208.8 155.3 l5.8 1.1 M1295.8 168 l8.5 0.8 M1251.2 170 l4.2 1.4" stroke="#e0b8a8" stroke-width="0.6" opacity="0.35" fill="none"/>
</g>
</g>
<ellipse cx="1242.1" cy="160.1" rx="94.3" ry="71.8" fill="none" stroke="#000" stroke-width="3.6" stroke-dasharray="6.2 7.6" stroke-linecap="round"/>
<ellipse cx="1011.1" cy="332.4" rx="94.6" ry="71.8" fill="url(#bg)"/>
<g clip-path="url(#cp2)">
<path d="M1025.6 258 C1011.2 261.7 1027 271.3 1028.5 277.2 C1030 283.1 1032.4 288.8 1034.4 293.5 C1036.4 298.2 1038.9 302.4 1040.4 305.4 C1041.9 308.4 1039.1 307.4 1043.3 311.3 C1047.5 315.2 1059.9 327.1 1065.6 329.1 C1071.3 331.1 1071.2 324.6 1077.4 323.1 C1083.6 321.6 1096.3 320.7 1102.6 320.2 C1108.9 319.7 1112.9 330.9 1115 320 C1117.1 309.1 1129.9 265.3 1115 255 C1100.1 244.7 1040 254.3 1025.6 258 Z" fill="#45372f"/>
<clipPath id="fc2"><path d="M1025.6 258 C1011.2 261.7 1027 271.3 1028.5 277.2 C1030 283.1 1032.4 288.8 1034.4 293.5 C1036.4 298.2 1038.9 302.4 1040.4 305.4 C1041.9 308.4 1039.1 307.4 1043.3 311.3 C1047.5 315.2 1059.9 327.1 1065.6 329.1 C1071.3 331.1 1071.2 324.6 1077.4 323.1 C1083.6 321.6 1096.3 320.7 1102.6 320.2 C1108.9 319.7 1112.9 330.9 1115 320 C1117.1 309.1 1129.9 265.3 1115 255 C1100.1 244.7 1040 254.3 1025.6 258 Z"/></clipPath>
<g clip-path="url(#fc2)">
<path d="M1090.6 300.6 l-1.4 12.1 M1041.5 290.4 l5.2 27.2 M1028.7 324 l7 18.2 M1101.3 313.4 l-3.4 28.2 M1025.7 308.2 l5.9 16.1 M1073 275.3 l4 14.8 M1047.7 245.8 l1.1 25 M1047.7 298.2 l0.6 24.6 M1060.7 306.5 l4.8 28.8 M1040 266.1 l-1 13 M1044.6 289.8 l-0.7 15.3 M1071.9 282.4 l7.1 28.5 M1065.3 282.5 l2.8 19.9 M1021.8 267.2 l8.3 28.6 M1103.2 247.8 l0.3 24.6 M1053.8 290.3 l1.7 14.8 M1033 266 l0.6 23.6 M1056.9 263 l7.7 28.7 M1052.1 312.5 l9.4 26 M1081.9 259.2 l6.2 23.4 M1052.6 308.8 l6.7 24.1 M1044.7 266.1 l-1.7 13.7 M1069.6 281.2 l1.6 27.7 M1113.1 251.1 l4.2 16.3 M1085.6 310.1 l-0.3 25.9 M1106.8 315.6 l0.1 18.7 M1060.8 321.4 l0.4 14.1 M1077.1 250.1 l2.7 23.3 M1043.5 298.3 l1.7 17.5 M1092.3 310.8 l3.2 28.6 M1084.8 256 l6.9 26.7 M1060.5 285.9 l5.8 26.4 M1115.1 323.2 l3.2 27 M1061 327.2 l6.7 18.4 M1023.6 284.7 l-0 14 M1096.9 254 l1.9 17.3 M1047.3 328.8 l-1 12.1 M1051.3 299.2 l0.6 16 M1052.7 283.6 l7.6 24.1 M1086.8 309.1 l0.4 11.4 M1035.9 323 l-0.6 21.4 M1062.3 252.2 l1.6 26.2 M1071.8 279.8 l0 25.3 M1103.2 300.3 l5.1 18.7 M1030.4 262.2 l-0.5 20.6 M1101.4 296.9 l-1 13.9 M1025.7 267 l6.8 23.3 M1102.7 293.1 l-2.1 28.4 M1034.3 287.7 l7.9 23.1 M1021.4 277.2 l1.6 23.1 M1040.7 304.9 l7.5 20.8 M1065.1 252.5 l1.4 12 M1041.8 247.7 l-1.3 12.2 M1104.4 249.8 l2.1 11.6 M1078.3 277.2 l3 10.3 M1082.7 304.4 l2.2 14.2 M1098.8 307.9 l4.4 11.9 M1093.3 270.5 l0.6 12 M1041.6 326.3 l1.4 26.2 M1101.1 320.9 l1.8 13.7 M1078.4 284.8 l3 21.6 M1104 267.2 l5.1 18.4 M1026.3 268.9 l4.1 21.9 M1046.2 275.7 l-0.3 16 M1073.6 250 l2.8 14.9 M1090.4 306.7 l-1.3 21 M1112.3 271.5 l3 11.4 M1040.4 288.1 l4.3 28 M1073.5 290.5 l-0.8 14.3 M1089.2 259 l5.3 26.8 M1109.5 252.8 l3.7 13.6 M1069.5 303.4 l0.7 10.1 M1039.8 302.4 l4.3 25.4 M1094.6 255 l4.6 14.7 M1046.2 256.5 l6.8 19.5 M1071.6 320.1 l1.3 11.7 M1075.3 324.2 l1 28.7 M1071.6 324.3 l0.1 14.8 M1042.7 310.1 l1.9 13.8 M1108.4 327 l1.3 19.3 M1045.1 261.2 l7 22.6 M1071.9 271.4 l9.9 27.6 M1115.9 257.1 l5 14.2 M1052.8 280.4 l-0.2 17 M1078.1 295.7 l0.2 17.4 M1063.3 311 l0.5 15 M1022.8 245.6 l-1.6 27.7 M1085 272.6 l-2.4 20.7 M1095.5 288.2 l0.9 24.5 M1086.4 261 l-0.2 24.2 M1083.8 259.4 l4.8 22.6 M1032.6 249.9 l7.7 22.6 M1061.4 311.7 l6.8 26.2 M1055.6 249.7 l4.3 17.2 M1104.1 319.8 l5.6 28.3 M1038.5 265.6 l4.9 19.3 M1051.1 254.5 l2.8 28.1 M1029.8 289.2 l0.8 28.7 M1118.9 277.3 l-1.8 26.1 M1112.1 263.7 l0.5 17.6 M1041.3 296.9 l8.3 22 M1110.7 283.8 l4.4 29.5 M1091.8 322.4 l0.8 12.9 M1077.3 249.5 l5.9 17.4 M1114.1 309.5 l-0.3 17.9 M1053 258.6 l-0.5 19.2 M1106.8 263.4 l3.9 18.8 M1103.4 276.6 l6.4 24.2 M1029 312.3 l3.1 15.1 M1093.4 303.9 l-0.9 29.7 M1034 251.3 l0.3 19.1 M1068.7 300.5 l4.3 12.5 M1100 279.6 l3.1 19 M1067.1 326.8 l3.2 21.7 M1114.4 300.9 l5.6 15.1 M1070.7 245.9 l2.7 19.1 M1021.4 258.4 l0.5 14.5 M1079.4 311.7 l2.8 21.6 M1060 320 l-1 11.3 M1036.4 263.5 l6.8 26.5 M1088.5 306.1 l-0.1 11.3 M1063.7 301.9 l1.1 20.5 M1103.7 325.8 l0.4 25 M1082.4 246.3 l-1.1 14.6 M1023.5 250.1 l9.2 27.7 M1106.5 312.6 l7.7 27.9 M1093.1 252.3 l5.9 20.7 M1037.3 323.5 l-0.6 18.9 M1086.7 324.7 l3.9 26.4 M1060 285.4 l-1.6 25.7 M1030.6 297.4 l3.9 15.3 M1110.5 286.9 l-1.7 18.3 M1022.1 292.4 l3 19" stroke="#a8917a" stroke-width="0.7" opacity="0.5" fill="none"/>
<path d="M1072.5 312.8 l0.4 29.2 M1094.8 266.2 l0.6 20 M1114.6 278.8 l-3 29.8 M1107.6 257.7 l3.6 23.8 M1097.6 318 l2.2 14.6 M1080.6 291.7 l-1.4 21 M1111.7 271.8 l5.3 15.8 M1118.7 321.5 l1.6 10.3 M1104.3 290.2 l8.5 24.7 M1025.5 322.9 l3 11.5 M1086 278.9 l-1 11.5 M1092.7 285.9 l2 17.7 M1052.2 260.9 l-2 17.2 M1077 280.5 l1 27.9 M1113 291.7 l1.2 22.2 M1095.6 270.5 l2.8 16.9 M1072.6 261.2 l4.7 21 M1095.3 262.8 l2 15.2 M1023.3 284.7 l4.9 27.7 M1030.4 321.4 l-3.1 26.6 M1096.1 263.7 l6.7 22 M1063.2 249.9 l-0.7 20.8 M1047.4 274.2 l5.8 20.1 M1060.9 245.6 l1 25 M1049.8 281.7 l1.3 20.5 M1096.2 258 l-1 21.2 M1116.4 307.5 l4.8 15.4 M1071.7 257.1 l3.3 11.6 M1046.4 270.4 l9.3 26.3 M1041.8 262.5 l5.2 16.4 M1033 282.1 l0.2 11.7 M1046.4 271.2 l0 17.6 M1097.8 247.6 l2.8 20.5 M1090.6 268.1 l7 21.2 M1096 286.5 l-3.7 29.3 M1031.9 288.6 l0.8 13 M1115.9 248.4 l-1.3 17.8 M1034.9 261.6 l-2.8 26 M1029.4 245.3 l5.8 18.3 M1084.9 270 l6.6 27.8 M1070.5 279 l3 12.2 M1025.2 292.1 l-3.5 28.8 M1119.8 272.2 l5.9 21 M1037.8 311.1 l4.3 21.3 M1067.9 325.9 l0 24 M1046.4 305.8 l1.4 15.1 M1021.4 312.6 l-0.8 15.3 M1053 262.6 l3.9 12.9 M1080.9 245.8 l-3.2 28.3 M1085.6 279.6 l2.3 16.5 M1053.8 307.5 l8.3 27 M1052.4 264.6 l5.4 18.4 M1108.1 271.1 l3.9 20.5 M1080.1 271.7 l1.1 12.6 M1116.1 296.1 l2.1 25.9 M1034.6 272 l0.2 25.6 M1097.1 279.2 l-2.9 23.3 M1070 308.3 l1.8 26.4 M1055.1 315.2 l6.4 25.5 M1080.6 319.1 l1.9 15.3 M1021.5 280.5 l5.3 14.3 M1117.8 321.8 l2.9 15.3 M1110.8 286.4 l3.3 9.4 M1065.5 305.1 l-1.9 23.6 M1112.7 247.5 l0.3 10.5 M1113.9 270 l1 13.8 M1083 258.6 l0 10.8 M1054.8 258.7 l7.2 19.7 M1115.5 293.6 l7.3 21.4 M1090.5 281.3 l3 10.7 M1111.7 293.3 l4.5 16.2 M1063.8 287.9 l4.4 12.7 M1052.9 256.2 l2.1 11.4 M1068.3 325.2 l-0.8 13.5 M1052.9 268.5 l5.2 20.8 M1062.9 328.6 l3.8 17.7 M1117.3 266.9 l2.8 19.6 M1091.5 287.8 l4.2 25.8 M1025.8 269.2 l-0.9 20.9 M1106.3 299.4 l-3.3 25.3 M1110.5 252 l1.1 29 M1054.4 269.6 l7.2 20.7 M1112.1 321.7 l2.9 14.7 M1107.3 296.8 l2.1 26.4 M1055.3 259.6 l5 15.3 M1059.4 309.6 l-1.6 29.1 M1069.9 281.6 l-3.4 27.4 M1033.1 264.1 l1.4 28.8 M1109.4 298.1 l-1 12 M1114.7 324.8 l0.4 26.2 M1063.6 271.5 l0.2 18 M1074.3 279.7 l4.7 28 M1101.1 326 l3.1 15.1 M1053.8 264.7 l2.1 15.1 M1051.2 320.2 l10.4 27.9 M1115.9 307.7 l3.3 28.4 M1022.5 305.1 l-1.7 23.7 M1057.4 321.6 l2.7 29.7 M1061.8 280.7 l-2.7 24.3 M1054.4 246.3 l2 26.5 M1081.7 263.6 l3 12.9 M1109 252.9 l5.4 23.9 M1088.6 279 l-1 13.4" stroke="#231a16" stroke-width="0.9" opacity="0.5" fill="none"/>
</g>
<path d="M1025.6 258 C1011.2 261.7 1027 271.3 1028.5 277.2 C1030 283.1 1032.4 288.8 1034.4 293.5 C1036.4 298.2 1038.9 302.4 1040.4 305.4 C1041.9 308.4 1039.1 307.4 1043.3 311.3 C1047.5 315.2 1059.9 327.1 1065.6 329.1 C1071.3 331.1 1071.2 324.6 1077.4 323.1 C1083.6 321.6 1096.3 320.7 1102.6 320.2 C1108.9 319.7 1112.9 330.9 1115 320 C1117.1 309.1 1129.9 265.3 1115 255 C1100.1 244.7 1040 254.3 1025.6 258 Z" fill="url(#furg)"/>
<path d="M1043.3 311.3 C1036.4 311.1 1040.8 315.2 1035.9 315.7 C1031 316.2 1021.1 314.9 1013.7 314.3 C1006.3 313.7 997.9 312.5 991.5 312 C985.1 311.5 979.4 310.9 975.2 311.3 C971 311.7 969.8 312.8 966.3 314.3 C962.8 315.8 958.3 317.5 954.4 320.2 C950.5 322.9 946.3 327.5 942.6 330.6 C938.9 333.7 932.7 336 932.2 338.7 C931.7 341.4 936.6 344.1 939.6 346.9 C942.6 349.7 947 354.5 950 355.7 C953 356.9 955.2 355.8 957.4 354.3 C959.6 352.8 960.6 348.4 963.3 346.9 C966 345.4 971 345.2 973.7 345.4 C976.4 345.6 976.9 348.8 979.6 348.3 C982.3 347.8 985.5 343.6 990 342.4 C994.5 341.2 1001.8 340.9 1006.3 340.9 C1010.8 340.9 1013 342.6 1016.7 342.4 C1020.4 342.1 1024.1 340.6 1028.5 339.4 C1032.9 338.2 1038.4 336.5 1043.3 335 C1048.2 333.5 1053.1 332.1 1058.1 330.6 C1063 329.1 1069.8 328.3 1073 326.1 C1076.2 323.9 1082.4 319.7 1077.4 317.2 C1072.5 314.7 1050.2 311.6 1043.3 311.3 Z" fill="url(#pawL)"/>
<path d="M1043.3 311.3 C1036.4 311.1 1040.8 315.2 1035.9 315.7 C1031 316.2 1021.1 314.9 1013.7 314.3 C1006.3 313.7 997.9 312.5 991.5 312 C985.1 311.5 979.4 310.9 975.2 311.3 C971 311.7 969.8 312.8 966.3 314.3 C962.8 315.8 958.3 317.5 954.4 320.2 C950.5 322.9 946.3 327.5 942.6 330.6 C938.9 333.7 932.7 336 932.2 338.7 C931.7 341.4 936.6 344.1 939.6 346.9 C942.6 349.7 947 354.5 950 355.7 C953 356.9 955.2 355.8 957.4 354.3 C959.6 352.8 960.6 348.4 963.3 346.9 C966 345.4 971 345.2 973.7 345.4 C976.4 345.6 976.9 348.8 979.6 348.3 C982.3 347.8 985.5 343.6 990 342.4 C994.5 341.2 1001.8 340.9 1006.3 340.9 C1010.8 340.9 1013 342.6 1016.7 342.4 C1020.4 342.1 1024.1 340.6 1028.5 339.4 C1032.9 338.2 1038.4 336.5 1043.3 335 C1048.2 333.5 1053.1 332.1 1058.1 330.6 C1063 329.1 1069.8 328.3 1073 326.1 C1076.2 323.9 1082.4 319.7 1077.4 317.2 C1072.5 314.7 1050.2 311.6 1043.3 311.3 Z" fill="url(#pawV)"/>
<clipPath id="pc2"><path d="M1043.3 311.3 C1036.4 311.1 1040.8 315.2 1035.9 315.7 C1031 316.2 1021.1 314.9 1013.7 314.3 C1006.3 313.7 997.9 312.5 991.5 312 C985.1 311.5 979.4 310.9 975.2 311.3 C971 311.7 969.8 312.8 966.3 314.3 C962.8 315.8 958.3 317.5 954.4 320.2 C950.5 322.9 946.3 327.5 942.6 330.6 C938.9 333.7 932.7 336 932.2 338.7 C931.7 341.4 936.6 344.1 939.6 346.9 C942.6 349.7 947 354.5 950 355.7 C953 356.9 955.2 355.8 957.4 354.3 C959.6 352.8 960.6 348.4 963.3 346.9 C966 345.4 971 345.2 973.7 345.4 C976.4 345.6 976.9 348.8 979.6 348.3 C982.3 347.8 985.5 343.6 990 342.4 C994.5 341.2 1001.8 340.9 1006.3 340.9 C1010.8 340.9 1013 342.6 1016.7 342.4 C1020.4 342.1 1024.1 340.6 1028.5 339.4 C1032.9 338.2 1038.4 336.5 1043.3 335 C1048.2 333.5 1053.1 332.1 1058.1 330.6 C1063 329.1 1069.8 328.3 1073 326.1 C1076.2 323.9 1082.4 319.7 1077.4 317.2 C1072.5 314.7 1050.2 311.6 1043.3 311.3 Z"/></clipPath>
<g clip-path="url(#pc2)">
<path d="M934 311.5 l-6.3 1.4 M1028.3 312.4 l-7.2 0.9 M1076.9 310.8 l-4.1 1.3 M961 319.6 l-6.1 2 M983.8 314.9 l-8.8 3.1 M1038.2 314.5 l-7.8 0.3 M1071.8 343.7 l-9.9 2.6 M957.8 330.6 l-7.3 1.6 M960.2 341.7 l-7.6 1.7 M990.2 341.2 l-7.7 2.7 M998.2 337.2 l-6.6 1.8 M949.3 311 l-9.8 -0 M980.9 333.9 l-9.1 1.3 M982.8 307.7 l-6.2 0.4 M962.2 314.5 l-8.9 0.6 M998.2 333.2 l-7.1 2.1 M1008.3 334 l-6.7 1.6 M1032.4 328.9 l-4.9 1.5 M993.9 312.5 l-6.3 0.5 M1052.3 308.5 l-7.6 2.4 M1001.8 325.9 l-9.6 0.6 M937.1 325.3 l-5.8 0.8 M1055.1 327.5 l-5.8 -0.1 M1012.7 315.6 l-6.4 1.8 M1034.7 309.1 l-9.7 2.2 M1075 337 l-4.3 0.2 M1077.1 312.5 l-4.3 0.3 M991.6 327.4 l-6.6 0 M1063 338.2 l-8.3 0.7 M1054 308.7 l-8.4 1.1 M994.4 328 l-8.7 1.1 M1017.2 339.8 l-9.1 0 M965.4 320 l-9.8 1.2 M971.8 323.7 l-8 0.7 M947.9 336.6 l-5.6 1.5 M943.6 310.8 l-8.8 1.5 M977.7 338.9 l-7.3 1.9 M1034.9 330.1 l-9 2.8 M1018.5 327.5 l-9 3.1 M943.1 330.2 l-4.8 1.6 M1009.8 337.8 l-9.1 0.1 M958.4 324.5 l-4.7 1.4 M988.7 340.8 l-8.9 0.8 M1028.5 314.3 l-4.8 1.4 M1046.4 310 l-9.4 1.9 M956.7 311 l-8.8 2.6 M958.3 310 l-6.5 0.4 M975.4 337.9 l-4.4 0.5 M1057.3 333.6 l-9.4 0.8 M1058.5 329.9 l-9.5 0.9 M1036.4 340.2 l-5 0.3 M1026.6 311.2 l-9.5 2 M982.2 313.3 l-6.8 0.7 M1026.1 332 l-9.6 3.3 M1045 324.6 l-7.3 1.9 M967.1 332.9 l-9.7 3.2 M1023 311.1 l-9.4 1 M1020.2 321.2 l-9.2 -0 M942.2 332.3 l-6.9 0.5 M938.7 328.4 l-4.9 -0 M939.3 313.5 l-6.5 2.3 M1060.5 315.7 l-6.8 1.5 M1076.8 329.9 l-5.5 0.2 M989.2 329.1 l-4.5 0.2 M1047.6 332 l-7.6 0.8 M968.4 325.9 l-8.4 0.3 M962.8 319.1 l-4.6 0.9 M937.8 318.5 l-6.1 1.5 M1043.1 316.9 l-9.7 1.2 M1023.4 337.9 l-7.3 0.3 M932.2 310.5 l-7.5 0.5 M947.6 338.2 l-8.4 0.3 M960.2 310.6 l-7.3 2.6 M972.3 313.7 l-9.8 1.7 M1064.5 322.9 l-9.9 1.5 M1025.2 336.2 l-6.6 1.6 M1055.9 327.8 l-8 1.5 M958.6 334.6 l-6.9 -0.1 M935.9 314.4 l-8.7 1.2 M1003.9 343.6 l-8.7 0.6 M985.5 315.9 l-7.8 -0.3 M971.5 342.6 l-9.4 1.4 M1042.4 329.7 l-5.6 1.8 M1056.8 340.4 l-7.1 -0.2 M939.1 335.1 l-4.6 1.1 M984 341.9 l-9.1 -0.3 M1064.9 313.9 l-6.7 0.4 M1064.9 320.3 l-6.9 -0.2 M1073.2 322.5 l-8.1 1.9 M1072.1 331.2 l-6.1 0.9 M1047.9 309 l-6.5 1.1 M1043.3 330.4 l-9 0 M976.5 326.6 l-5.5 0.9 M941.2 338.1 l-7.2 2.2 M1057.1 330 l-6.9 2.3 M1074.1 329.2 l-9.6 -0.1 M978 337.8 l-9.4 2.8 M942.8 343.6 l-5.2 1.5 M1038.4 333.7 l-5.4 0.6 M1034.3 332.7 l-9.9 1.6 M949.6 323.8 l-7.6 1.7 M960.8 331 l-8.6 2.8 M1037.9 324 l-7.5 1.7 M1059.4 316.6 l-8.6 2.7 M1056.7 323 l-6.2 0.5 M987.3 333.3 l-5.4 1.5 M1066.6 330.3 l-9.7 0.1 M983.5 319.4 l-6.7 2.2 M934.2 344.2 l-6.8 -0 M1034 337.2 l-6.4 1.9 M1058.4 313.2 l-5.1 0.4 M1062.7 326.1 l-6.5 1.8 M1041.5 310.2 l-4.1 0.6 M1021.2 318.8 l-8.6 0.1 M992 316 l-5.9 0.2 M996.4 321.9 l-7.9 2.4 M961.2 326.3 l-4.9 1.4 M973.2 341.9 l-7.5 0.7 M958.2 338.5 l-4.4 1 M934.8 325.1 l-9.4 2.1 M1028.5 318.8 l-5.3 0 M1013.9 335.5 l-9.4 1.9 M1064.8 313.6 l-9.4 3.3 M1030.5 325.4 l-5.1 0.4 M1051.4 316.4 l-6.5 1.7 M1004 323.1 l-9.2 2.7 M1053.8 344.3 l-8 0.3 M1013.6 317.9 l-8.4 -0 M1070.3 334.1 l-8.1 0.9 M1038 336.8 l-4.4 -0 M1043.7 334.6 l-7.8 0.2 M996.9 342.3 l-4.1 -0.2 M944 322.8 l-7.5 0.6 M990.7 319 l-6.3 -0.3 M1030.9 313.1 l-5.6 1.2 M1073.5 310.6 l-6.5 0.2 M1019.2 334.8 l-7.5 1.5 M958.7 314.4 l-6.9 -0.1 M1022.9 339.9 l-9.8 1.8 M1015.1 332.7 l-5.3 1.5 M1026.1 342.7 l-9.1 2.3 M992.5 340.6 l-6.9 0.2 M942.6 343 l-6.3 0.9 M1022.9 313.1 l-5.2 1.3 M1013.2 317.4 l-4.4 0.4 M1040.5 335.6 l-5.7 0.6 M981.6 333.9 l-9.4 2.9 M934.6 341.2 l-4.3 0.7 M942.3 339.3 l-8.1 1.6 M968 318.6 l-8.8 0.4 M1056 310.9 l-6.4 0.3 M980 343.2 l-5.9 1.8 M1004.4 335.2 l-8.4 1.8 M1058 324.1 l-8.8 1.7 M998.9 329.2 l-7 1.2 M1048.5 323.2 l-4.9 0.5 M954.7 329.6 l-9 3.1 M1040.9 325.4 l-7.1 -0.3 M1030.9 340.8 l-8.5 0 M1058.4 336 l-8.6 2.9 M994 341.2 l-6 0.5 M1029.5 339.7 l-5.1 0.2 M1068.4 340 l-7 1.3 M1062.3 342 l-4.6 0.2 M1033.7 316.4 l-3.9 1.4 M1012.3 334.1 l-9.3 -0.4 M971.7 317.4 l-9.7 1.6 M976.1 334.5 l-7.6 2.6 M969.3 327.5 l-8.9 2 M1009.4 337.4 l-9.3 1.8 M947 308.8 l-6 1.1 M959.9 312.6 l-5 1.7 M940.6 337.7 l-6.3 1.3 M951.4 327.2 l-6 1.9 M966.3 320.3 l-4.7 -0.2 M1066.2 333.4 l-6 -0.1 M1046.8 332 l-7.3 1.4" stroke="#4a3028" stroke-width="0.7" opacity="0.35" fill="none"/>
<path d="M948.5 315.9 l-8.5 0.1 M963.7 329.1 l-7.2 2.4 M1038.9 339.7 l-7.9 0.3 M981 319.8 l-6.4 1.3 M1046.7 317.7 l-6.2 1.2 M937.7 311.5 l-4.8 1.2 M1073.5 335.9 l-5.5 1.4 M938.7 312 l-9 -0.3 M951.6 311.9 l-8.7 2.2 M1035.4 327.5 l-5.4 1.4 M961.6 337.7 l-6.2 0.7 M988 314.7 l-5.3 0.5 M985.7 336.1 l-4.4 0.2 M932.2 321.5 l-8.5 0.6 M1016.3 322.3 l-8.6 0.4 M959.4 321.2 l-7.1 2.4 M1007.6 339.3 l-5.8 0.6 M1048.8 323.7 l-6.9 1 M945.2 339.3 l-4.3 0.8 M979 321.8 l-6.4 2.1 M1050.8 334.7 l-9.4 2.3 M965 317 l-9.4 0.2 M983.3 333.1 l-6.8 -0.2 M1018.2 335.9 l-5.6 0.9 M1035 334.8 l-7.5 0.7 M955.7 308.7 l-4.4 0 M1013.5 341.8 l-7.3 0.1 M1036.2 321.3 l-6.6 1.2 M938.3 324.6 l-6 1.6 M1000.7 310.3 l-7.6 1.4 M1073.4 317.7 l-6.7 0.1 M989.1 332.9 l-9.6 0 M1019.6 317.5 l-4.1 1.4 M1013 323.9 l-9.7 1.3 M1044.4 342.1 l-5 0.4 M969 333.8 l-8.5 0.9 M944.8 310.1 l-4.8 0.5 M974.2 311.9 l-8.5 2.4 M1008 338.1 l-8.9 2 M1065.6 328.6 l-7.5 2.3 M988 309.2 l-6.1 1.9 M1017.4 314.3 l-9.3 -0.4 M1029.4 322.1 l-5.7 1.7 M978.3 333.6 l-5.5 0 M1061 337.4 l-7.3 1.7 M1013.9 310 l-8.9 0.7 M986.2 342.8 l-8.3 0.9 M1034.6 325 l-7.6 1.9 M959.3 307.9 l-8.9 0.7 M1054.4 322.3 l-7 1.7 M984.9 314.7 l-5.6 -0.2 M943.4 337.9 l-8.2 1.3 M1066.9 335.5 l-7.9 2.2 M1009.6 325.8 l-9.9 0.5 M941.8 314.2 l-6.1 1.1 M1003.3 312.5 l-4.8 1.7 M1018.9 312.4 l-4.8 1 M933.7 343.3 l-6.2 0.4 M1062.5 342.4 l-6 1.8 M976.2 339.2 l-5.6 1.9 M939.7 332.2 l-8.8 1.8 M964.6 343.8 l-6.6 0.9 M1020.3 343.3 l-4.1 0.7 M1012 318.3 l-9.9 0.2 M1075.9 343.7 l-9.1 1.1 M1015.1 322.8 l-9.6 -0.5 M994.7 344.5 l-9.9 2.3 M965.8 315.2 l-6.3 0.6 M999.6 308.6 l-6 0.8 M954.1 316.9 l-5.7 0.9 M1074.8 318.8 l-7.3 1.5 M1053.7 311.7 l-5.2 -0 M1003.9 325.7 l-4.2 1.1 M977.4 320.2 l-7.4 2.3 M935.5 321 l-8.2 1.2 M1068.3 309 l-8.1 0.4 M959.8 312.5 l-9.1 1.9 M994.6 316.8 l-4.3 1.4 M1042.2 311.5 l-4.7 0.1 M1040.4 330.3 l-8.2 1.8 M1032 312.3 l-8.2 1.1 M993.5 335.2 l-4.8 0 M1031.4 333.2 l-9.5 3.4 M949.2 337.8 l-4.9 0.3 M1070.2 319.9 l-4.9 1.3 M996.2 325.5 l-4 -0.2 M1034.6 325.3 l-4.5 0.7 M942.9 319.1 l-7.8 2 M957.2 320.2 l-4.5 1.6 M1070 309.6 l-4.7 1 M953.7 312.7 l-9.8 2.1 M993.8 327.2 l-6.2 0.8 M1010.3 309 l-5.7 0.7 M1061.9 334 l-6.8 1.2 M987 338.1 l-6.6 -0.2 M998 310.1 l-5.3 0.7 M1058 317.2 l-8.2 2.9 M1036.3 314.2 l-4.6 1.4 M996.9 316.7 l-6.5 2 M1041.4 311.6 l-5.8 1.4 M951.5 339.4 l-8.9 -0.1 M975.3 338 l-6.2 1.9 M970 325.7 l-7.4 0.9 M951.3 340.4 l-9.5 0.7 M1023.8 341.2 l-5 1.5 M1014.9 325 l-9 2 M1053.7 315.1 l-9.2 3.1 M983 329.9 l-8.8 2.7 M1032.5 316.1 l-9.2 2 M967.7 316.8 l-4.9 1.2 M982.6 318.6 l-7.4 0.6 M1073.8 322.1 l-8.8 1 M971.5 328.1 l-6.1 1.6 M1049.4 312.3 l-9.2 -0.4 M969.1 312.9 l-5 0.6 M997.2 311.5 l-5.9 1.1" stroke="#e0b8a8" stroke-width="0.6" opacity="0.35" fill="none"/>
</g>
</g>
<ellipse cx="1011.1" cy="332.4" rx="94.1" ry="71.3" fill="none" stroke="#4d4d4d" stroke-width="4.0"/>
<ellipse cx="1242" cy="332.4" rx="94" ry="72" fill="url(#bg)"/>
<g clip-path="url(#cp3)">
<path d="M1242.7 258 C1259.3 261 1241.3 268.1 1239.8 272.8 C1238.3 277.5 1236.4 281.7 1233.9 286.1 C1231.4 290.5 1228 295.4 1225 299.4 C1222 303.3 1218.3 306.8 1216.1 309.8 C1213.9 312.8 1216.5 315.2 1211.6 317.2 C1206.6 319.2 1193.1 321.4 1186.4 322 C1179.7 322.6 1176.5 321.5 1171.6 321 C1166.7 320.5 1160.8 319.5 1156.8 319 C1152.8 318.5 1150.7 318.2 1147.9 318 C1145.1 317.8 1141.3 328.5 1140 318 C1138.7 307.5 1122.9 265 1140 255 C1157.1 245 1226.1 255 1242.7 258 Z" fill="#45372f"/>
<clipPath id="fc3"><path d="M1242.7 258 C1259.3 261 1241.3 268.1 1239.8 272.8 C1238.3 277.5 1236.4 281.7 1233.9 286.1 C1231.4 290.5 1228 295.4 1225 299.4 C1222 303.3 1218.3 306.8 1216.1 309.8 C1213.9 312.8 1216.5 315.2 1211.6 317.2 C1206.6 319.2 1193.1 321.4 1186.4 322 C1179.7 322.6 1176.5 321.5 1171.6 321 C1166.7 320.5 1160.8 319.5 1156.8 319 C1152.8 318.5 1150.7 318.2 1147.9 318 C1145.1 317.8 1141.3 328.5 1140 318 C1138.7 307.5 1122.9 265 1140 255 C1157.1 245 1226.1 255 1242.7 258 Z"/></clipPath>
<g clip-path="url(#fc3)">
<path d="M1215.3 309.7 l1.8 13.5 M1148 284.8 l-0 29.2 M1152.8 270.2 l-1.6 16 M1235.7 316.2 l1.3 16.3 M1231.9 265.5 l2.3 24.7 M1208.1 275.1 l-4.3 25.5 M1228.7 264.3 l-1.1 13.7 M1233.5 264.2 l-5.8 16.4 M1215.2 307.5 l-1.7 20.7 M1179.6 262 l-3.6 15.7 M1237.2 306.5 l-8.1 21.3 M1230.2 285.8 l-7.3 27 M1146.7 259.1 l-1.5 12.7 M1228.8 271.3 l-4 13.2 M1172.5 251.6 l1.7 18.8 M1185.5 312 l0.7 13.3 M1203.8 313.7 l-1.5 11.4 M1169.6 281.2 l-0.9 24.8 M1208 286.3 l-9.1 23.6 M1149.4 257.4 l-3.7 22.8 M1222.3 260.5 l0.9 14.5 M1221.7 305.3 l-2.7 12.7 M1245.6 277.1 l1.4 20.4 M1217.7 291.2 l-3.3 18.4 M1151.5 267.9 l1.2 29.7 M1234.9 321.4 l-7.9 21.2 M1220.1 297.4 l-0.3 22.8 M1244.7 274.1 l-8.7 27.6 M1246.9 293.7 l-0.7 13.1 M1216.3 290.2 l-0.7 22.9 M1234.4 303.9 l-7 27 M1216.4 316 l-5.3 20.7 M1162.1 282.2 l-0.9 29.2 M1171.6 254.8 l-4.8 27.8 M1167 321.6 l-2.3 16.9 M1144.2 255.1 l-1.6 11.1 M1216.5 319.2 l-1.5 27 M1176.5 254.4 l-0.5 11.1 M1137.7 265 l-0.6 24.7 M1199.1 273.6 l-8.9 24.1 M1246.5 253.2 l-5.3 13.8 M1201.8 320.5 l-0.3 25.9 M1178.6 267.6 l-1 27.2 M1185.8 301.9 l-1.9 17.5 M1195.8 270.9 l-8.1 26.5 M1205.8 274.6 l-7.3 21.8 M1204.3 278.4 l-4.2 12.2 M1193.5 257.9 l2.1 22.2 M1212 286.4 l-3.2 24.2 M1243 271 l-2.9 9.7 M1209.1 265.6 l-1.4 28.1 M1197.7 252.3 l3 24.9 M1246.6 265.4 l-7.1 24.2 M1179.9 271.9 l-3.9 25 M1234.7 311.5 l0.3 19 M1170.1 312.5 l-6.2 19 M1231.6 272.3 l-8.6 24.3 M1137 265.7 l-1.6 28.7 M1229.4 312.3 l-4.3 28.8 M1222.1 293 l-5.2 15.4 M1213.2 283.1 l-6.5 26.2 M1149.1 259.7 l-3.4 11.8 M1191.4 267.7 l-2.2 15 M1190.3 313.9 l0.5 27.6 M1179.3 254.1 l-4.8 13.1 M1216.5 265.7 l-2.9 23.3 M1161.9 282.2 l1.8 17.3 M1215.1 271.4 l1 28.6 M1189.6 319.6 l-0.5 26 M1230.4 265.3 l-0 14.3 M1247.4 309.5 l-4 11 M1175.2 308.7 l0.6 13.2 M1237.7 280.8 l-3.6 15.1 M1141.2 283.9 l-4.9 28.4 M1199 301.9 l-1.2 25.1 M1183.7 253.8 l3.6 28.4 M1150.4 247.1 l0.1 17.3 M1209.1 309.9 l3 22.8 M1167.9 287.4 l-4.3 28.4 M1154 316.4 l-0.1 10.6 M1185.1 261.1 l-0.6 10.1 M1233.1 252.8 l-0.7 10.1 M1200.4 299 l1.9 18.6 M1190.5 272.9 l-4.8 26.7 M1217.4 296.3 l1.5 15.8 M1164.8 313 l-2.6 26.8 M1141 301.5 l1.4 12.3 M1154.2 251.7 l1.5 16.1 M1179.2 291.4 l-5.6 23.6 M1147.1 257.9 l-3.4 29.1 M1183.7 298.8 l-0.5 20.7 M1197.8 260 l-0.9 16 M1201.5 313 l-8.2 26.3 M1234.7 277.4 l2.8 22.7 M1185.2 301.9 l-0.2 17.4 M1231.1 294.4 l-0.8 11.9 M1157 316.5 l-1.2 12.9 M1198.3 280.5 l-0.4 18 M1147.8 317 l-8.4 26.5 M1240.4 284.6 l0.7 12.9 M1205.8 277.4 l-5.7 18.1 M1184.4 311.4 l-7.7 21.3 M1145.1 248.6 l1 24.7 M1224.7 279.2 l-3.4 10.7 M1169.7 272.4 l-3.1 18.3 M1141.6 285.4 l-7.4 21.9 M1201.1 262.8 l-5.2 14.1 M1195.4 262.6 l-3.5 21.1 M1150.6 316.4 l-3.8 14.5 M1198.9 276.7 l-4.7 14.5 M1201.4 314.2 l-0.4 13.5 M1174.5 253.8 l-3.8 10.8 M1199.3 269.1 l-2.4 27.7 M1143.9 318.5 l-1.9 21 M1193.3 321.8 l-0.7 24.9 M1164.4 313.7 l-6 17.8 M1241.8 246.9 l-6.7 27.4 M1200.2 284.2 l-2 20.4 M1151.5 320 l0.8 11.7 M1167.7 298.5 l1.6 21.3" stroke="#a8917a" stroke-width="0.7" opacity="0.5" fill="none"/>
<path d="M1210.6 252.1 l-7.3 24.1 M1216.6 304 l1.2 18.8 M1169.3 318.4 l0.1 11.7 M1145.9 296.2 l1 26 M1190.7 256.9 l-1.7 12.8 M1244.7 255.1 l2.6 19.9 M1195 263.7 l-5.4 22 M1170.2 279.6 l-8.7 23.7 M1196.2 298.3 l-1 18.4 M1165.1 274.4 l-5.3 24.6 M1179.8 246.5 l-6.3 18.2 M1154.8 248.7 l-8.9 24.9 M1197.7 299 l0.9 11 M1225 283.2 l-5.8 23.4 M1186.1 294.9 l2.3 18.1 M1244 266.7 l-6.9 26.5 M1163.1 268.7 l-1.6 24.9 M1161.8 265.8 l-2.9 10.9 M1198.5 281.6 l0.2 16.8 M1152.5 248.6 l0.5 13.5 M1160.5 263 l-0.5 16.1 M1161.9 270.3 l1.5 14.7 M1240.9 263.6 l-1.9 22.6 M1176.1 262.6 l2.8 26.2 M1185.6 288.5 l-4.6 14 M1244 312.1 l0.4 16 M1200.7 272.7 l-0.3 13.9 M1159.1 255.9 l0.5 12.3 M1193.2 292 l-6.9 23.1 M1192.4 282.4 l-3.7 29 M1217.2 309.8 l-5.4 16.1 M1147.7 293.2 l-0.9 13.6 M1243.4 260.5 l-2.1 13.3 M1163.7 281.6 l-5.9 16.6 M1210.8 287.9 l-2.1 20 M1217.9 309.3 l2.1 25.5 M1154.3 273.5 l0.4 27.2 M1244.4 262.8 l-1.7 28.5 M1191.8 302.5 l-0.2 22.1 M1166.1 300.6 l-0.1 12.5 M1151 245.2 l-7.7 27.2 M1167.7 255.6 l-5 14.3 M1230.7 320.1 l1.5 28.9 M1191.1 253.8 l-0.6 10.6 M1220.2 255.9 l1.9 21.4 M1210.4 290.9 l-7.9 27.1 M1200.1 290.6 l-2.4 12.2 M1172.8 320.3 l-2.1 23.3 M1232.5 300.5 l-5.2 29.1 M1200 277.8 l-6.1 17 M1238.2 312.5 l-6.5 16.8 M1214.3 309.2 l-8.1 26.3 M1151.1 267.8 l-3.1 17.5 M1182.9 257.3 l-5.2 21.4 M1147.2 257 l-2.5 11 M1144 291.9 l-7 27 M1152.7 281.8 l-0.7 12.9 M1177 247.5 l-2.8 13 M1241.5 291.7 l-5.7 17 M1246.5 295.3 l-6 23 M1137.9 291.3 l0.2 10.4 M1136.3 293.3 l-4 10.5 M1170.5 273 l-4.9 26.2 M1239.5 278.4 l-6.9 24.6 M1180 272 l0.4 15.2 M1154.5 257.8 l-1.3 17.8 M1207.9 299 l-5.3 15 M1167.9 312.9 l0 11.3 M1217 261.1 l-2.9 14.9 M1240.9 257.4 l-2.6 10.5 M1215.8 268.1 l-0.4 13.5 M1238.2 263.3 l-1.3 15.9 M1228.5 254.7 l-0.9 12.2 M1198.7 262.9 l1.1 12.9 M1235.3 274.8 l3.5 29.7 M1221.9 290.3 l-1.3 10.9 M1148.2 276.5 l1.6 17.7 M1228.1 297.3 l1.2 24 M1214.3 320.9 l-0.3 22.8 M1151.6 301 l-3.1 21.5 M1242 258 l-1.9 10.2 M1209.6 282.8 l-3.2 13.5 M1223.8 257.8 l0.5 10.8 M1180.2 314.1 l-2.9 15.6 M1225.6 318.1 l-0.1 16.8 M1143.1 266.2 l-6.1 16.3 M1226.3 274.1 l-1.5 19.8 M1220.8 260 l-4.6 20.6 M1233.2 280.7 l0.7 29 M1233.8 281 l1.9 16.5 M1164 280.2 l-1.9 22.4 M1181.7 279.4 l-4.9 22.4 M1203.1 321.2 l-3.3 9.7 M1202.2 296.3 l-3.9 19.6 M1195.8 263.8 l-1.6 12.1 M1181.3 319.3 l-1.1 27.6 M1235 278.2 l-7 27.8 M1185 249.2 l-1.2 18.7 M1160.7 248.6 l-2.4 17.4 M1176.4 318.6 l-4.1 26.4 M1215.4 299.5 l-8.9 26 M1193.1 263.4 l-1.4 18.5 M1229.1 319 l2.1 17 M1225.7 262.6 l-1 15.9 M1145 266.8 l-1.7 20 M1199.8 290.3 l-5.2 15.4 M1202.1 315.2 l-7.8 26.2 M1174.1 283.5 l-1.2 16.2 M1166.7 264.3 l-2.6 21.9 M1139.6 250.4 l-2.8 10 M1208.6 297.1 l-3.7 18.7 M1172.5 245.8 l1.6 23.4 M1197 289.3 l-5.5 27.6 M1174.4 310.1 l2.5 28.7 M1202.6 316.3 l-7.9 27.9 M1240 289.7 l-2.3 14.8 M1190 245.9 l0.2 16.7 M1203 312.7 l2.1 23 M1174.5 259 l-1.7 10.6 M1232.7 293.4 l-0.6 13 M1242.9 305.3 l-2.9 24.7 M1178 266.3 l0.3 11.4 M1178.6 316.9 l-6.6 17.5 M1209.3 248.6 l-3.3 19.7 M1230.1 306.1 l-2.3 10.7" stroke="#231a16" stroke-width="0.9" opacity="0.5" fill="none"/>
</g>
<path d="M1242.7 258 C1259.3 261 1241.3 268.1 1239.8 272.8 C1238.3 277.5 1236.4 281.7 1233.9 286.1 C1231.4 290.5 1228 295.4 1225 299.4 C1222 303.3 1218.3 306.8 1216.1 309.8 C1213.9 312.8 1216.5 315.2 1211.6 317.2 C1206.6 319.2 1193.1 321.4 1186.4 322 C1179.7 322.6 1176.5 321.5 1171.6 321 C1166.7 320.5 1160.8 319.5 1156.8 319 C1152.8 318.5 1150.7 318.2 1147.9 318 C1145.1 317.8 1141.3 328.5 1140 318 C1138.7 307.5 1122.9 265 1140 255 C1157.1 245 1226.1 255 1242.7 258 Z" fill="url(#furg)"/>
<path d="M1211.6 317.2 C1218.8 318 1217.8 323.1 1223.5 324.6 C1229.2 326.1 1238.3 325.6 1245.7 326.1 C1253.1 326.6 1261.7 326.6 1267.9 327.6 C1274.1 328.6 1278.2 329.8 1282.7 332 C1287.2 334.2 1291.4 337.7 1294.6 340.9 C1297.8 344.1 1300 346.9 1302 351.3 C1304 355.8 1306.9 363.9 1306.4 367.6 C1305.9 371.3 1302.2 371.5 1299 373.5 C1295.8 375.5 1290.4 379.6 1287.2 379.4 C1284 379.1 1282.3 374.9 1279.8 372 C1277.3 369.1 1275.1 362.9 1272.4 361.7 C1269.7 360.5 1266 365.6 1263.5 364.6 C1261 363.6 1260.1 358.2 1257.6 355.7 C1255.1 353.2 1253.2 350.5 1248.7 349.8 C1244.2 349.1 1236.3 352 1230.9 351.3 C1225.5 350.6 1221.5 347.6 1216.1 345.4 C1210.7 343.2 1204.5 340.5 1198.3 338 C1192.1 335.5 1184.7 332.6 1179 330.6 C1173.3 328.6 1169 327.5 1164.2 326.1 C1159.4 324.7 1147.4 323 1150 322 C1152.6 321 1169.7 320.8 1180 320 C1190.3 319.2 1204.3 316.4 1211.6 317.2 Z" fill="url(#pawR)"/>
<path d="M1211.6 317.2 C1218.8 318 1217.8 323.1 1223.5 324.6 C1229.2 326.1 1238.3 325.6 1245.7 326.1 C1253.1 326.6 1261.7 326.6 1267.9 327.6 C1274.1 328.6 1278.2 329.8 1282.7 332 C1287.2 334.2 1291.4 337.7 1294.6 340.9 C1297.8 344.1 1300 346.9 1302 351.3 C1304 355.8 1306.9 363.9 1306.4 367.6 C1305.9 371.3 1302.2 371.5 1299 373.5 C1295.8 375.5 1290.4 379.6 1287.2 379.4 C1284 379.1 1282.3 374.9 1279.8 372 C1277.3 369.1 1275.1 362.9 1272.4 361.7 C1269.7 360.5 1266 365.6 1263.5 364.6 C1261 363.6 1260.1 358.2 1257.6 355.7 C1255.1 353.2 1253.2 350.5 1248.7 349.8 C1244.2 349.1 1236.3 352 1230.9 351.3 C1225.5 350.6 1221.5 347.6 1216.1 345.4 C1210.7 343.2 1204.5 340.5 1198.3 338 C1192.1 335.5 1184.7 332.6 1179 330.6 C1173.3 328.6 1169 327.5 1164.2 326.1 C1159.4 324.7 1147.4 323 1150 322 C1152.6 321 1169.7 320.8 1180 320 C1190.3 319.2 1204.3 316.4 1211.6 317.2 Z" fill="url(#pawV)"/>
<clipPath id="pc3"><path d="M1211.6 317.2 C1218.8 318 1217.8 323.1 1223.5 324.6 C1229.2 326.1 1238.3 325.6 1245.7 326.1 C1253.1 326.6 1261.7 326.6 1267.9 327.6 C1274.1 328.6 1278.2 329.8 1282.7 332 C1287.2 334.2 1291.4 337.7 1294.6 340.9 C1297.8 344.1 1300 346.9 1302 351.3 C1304 355.8 1306.9 363.9 1306.4 367.6 C1305.9 371.3 1302.2 371.5 1299 373.5 C1295.8 375.5 1290.4 379.6 1287.2 379.4 C1284 379.1 1282.3 374.9 1279.8 372 C1277.3 369.1 1275.1 362.9 1272.4 361.7 C1269.7 360.5 1266 365.6 1263.5 364.6 C1261 363.6 1260.1 358.2 1257.6 355.7 C1255.1 353.2 1253.2 350.5 1248.7 349.8 C1244.2 349.1 1236.3 352 1230.9 351.3 C1225.5 350.6 1221.5 347.6 1216.1 345.4 C1210.7 343.2 1204.5 340.5 1198.3 338 C1192.1 335.5 1184.7 332.6 1179 330.6 C1173.3 328.6 1169 327.5 1164.2 326.1 C1159.4 324.7 1147.4 323 1150 322 C1152.6 321 1169.7 320.8 1180 320 C1190.3 319.2 1204.3 316.4 1211.6 317.2 Z"/></clipPath>
<g clip-path="url(#pc3)">
<path d="M1213.9 340.7 l9.1 0.2 M1154.6 319.1 l4 0.1 M1201 316.9 l9 1.8 M1252.2 329.8 l9 1.8 M1204.1 354.7 l8.9 -0.3 M1184.9 313.9 l8.5 1.8 M1305.6 331.3 l5.1 -0 M1281.1 343.9 l4.4 0.5 M1246.9 328.1 l7.8 0.5 M1279.9 327.4 l9.7 0.5 M1230.1 357 l7.6 1.3 M1161.4 326 l9.6 2.1 M1270.5 327.3 l7.1 2 M1259.7 341.6 l4.4 0.3 M1171.8 361 l5.5 0.2 M1209.8 362 l8.4 1.9 M1184.5 348.2 l8.3 -0.4 M1233.8 323.9 l4.7 0.1 M1168.9 333 l7 1.4 M1152.6 353.5 l4.6 -0.2 M1238 356.6 l9.5 0.1 M1297.3 358.2 l8.9 0.4 M1176.9 322.3 l6.6 2 M1273.4 348.1 l9.3 1.4 M1225.1 345.7 l5 -0.2 M1217.2 314.9 l5.5 1.8 M1253.9 329.6 l8.2 2.5 M1268.6 330.4 l7.9 2.6 M1274.7 337.4 l9.5 -0.2 M1175.4 326.3 l9.3 1.5 M1300.6 315.9 l4.1 1.1 M1280.2 338.3 l9.6 0.8 M1288.2 340.2 l4.1 -0.2 M1248.7 342.5 l6.6 1.5 M1233.3 318.9 l7.1 2.3 M1189.9 327.1 l5.4 1.5 M1163.4 339.1 l8 -0.3 M1152.2 348.5 l6.3 -0.3 M1180.1 342 l6.6 0.8 M1156.1 329.7 l7.8 1.3 M1300.5 328.7 l8.4 0.5 M1291.8 336.3 l7.5 2.6 M1187.4 361.5 l8 0.6 M1187.6 355.8 l8.1 2.5 M1293.5 342 l4.8 1.5 M1294.4 341 l6.4 1 M1162.2 315.5 l4.4 1.4 M1204.8 361.5 l4 0.1 M1251.1 334.4 l8.7 1.5 M1222 363.2 l9.7 0.7 M1177.8 335.1 l6.5 0.8 M1207.8 355.4 l4.1 0.3 M1177.5 336.2 l4.6 1.5 M1157.1 319.6 l5.4 -0.2 M1187.3 357.8 l4.2 -0 M1278.9 360.5 l9.7 0.3 M1283.5 354.3 l9.5 -0.2 M1219.5 355.5 l5.7 1.4 M1242.2 329.1 l6 0.3 M1164.8 347.2 l8 1.7 M1237.6 350.7 l8.4 0.3 M1272.1 347 l4 -0.1 M1215.1 314.8 l4.6 0.3 M1292.2 344.4 l4.8 1.4 M1255.1 321.3 l9.2 1.4 M1276.2 359.2 l6.9 -0.1 M1305.2 337.5 l4.5 1 M1274.3 354.3 l6.2 2 M1278.8 328.1 l8.2 -0 M1211.9 358.2 l8.8 -0.1 M1180.1 343.4 l5.8 -0.1 M1174.3 363.8 l4.3 0.2 M1269.4 340.5 l4.5 0.9 M1202.4 361.8 l7 -0.3 M1300.3 362.9 l6 1 M1272.1 344.3 l6.9 1.1 M1181.5 336.3 l8 -0.1 M1195.5 352.1 l6.9 2.1 M1177.4 327.3 l4.2 0.6 M1225.9 318.3 l7.7 -0.4 M1181.8 353.4 l6.2 1.5 M1242.9 313.7 l9.6 1.2 M1237.8 357.4 l6.8 1.4 M1176.4 329.6 l4.2 0.8 M1222.6 347.6 l4.8 1.7 M1260 331.7 l4 1.3 M1295.2 363.8 l4.2 1.3 M1285.1 352.4 l5.6 1.5 M1197 336.7 l9.1 2 M1192.3 339.1 l5.7 1.4 M1280.3 356.8 l6.4 1.4 M1283.7 321.7 l4.4 0.1 M1264.5 344.3 l5.6 -0.2 M1206 361.1 l8.8 1.9 M1241.3 325 l7.7 2.4 M1222.9 338.2 l7 2.5 M1283.8 333.7 l4.8 1.6 M1179 339.6 l8.1 0.7 M1273.4 355.1 l4 -0.1 M1238.4 323.4 l9.5 0.5 M1171.1 358.9 l5.3 0.3 M1181.7 317.5 l8.7 -0.1 M1153.8 341.1 l6.9 2.2 M1291.8 322.2 l4.9 0.4 M1243.2 315.4 l7.3 -0.4 M1184.1 356.6 l8.5 1.4 M1156.5 327.1 l9.5 2.6 M1274.1 334.9 l6.6 1.8 M1179 316.9 l6.5 0 M1301.6 344.7 l6.1 2.1 M1248 320.6 l4.5 -0.2 M1193.4 331.8 l8.3 0.9 M1219 342.8 l8.9 3.1 M1211.8 334.6 l7.8 0.7 M1293.3 329.9 l8.4 1.8 M1191.2 340.5 l8.3 2.9 M1159.6 354.8 l9.4 -0.1 M1186.8 327.7 l6 0.7 M1188.9 326.8 l7.5 1 M1175.2 337.4 l8.9 0.3 M1200.1 339.8 l9.2 1.8 M1220.6 361.1 l6.6 1.9 M1212.7 328.2 l8.7 1.5 M1150.9 357 l4 0.4 M1260.8 323.5 l8.7 2.5 M1244.2 340.7 l7.2 0.9 M1280.5 335.1 l6.5 0.5 M1227.1 340 l9.6 1.7 M1283.5 333.1 l5 1.3 M1305.1 352.4 l9 1.5 M1198.6 361.5 l8.7 -0.4 M1294.8 358.8 l10 0.6 M1277.2 325.3 l7.2 -0 M1209.8 350.5 l4.1 0.6 M1190.5 358.3 l9.9 -0 M1179.6 325.6 l5.7 -0.1 M1209 353.1 l7.4 2.4 M1249.6 318.2 l8.1 0.5 M1262.1 347.4 l9.8 0.5 M1195.3 362.6 l6.5 1 M1254.4 313.3 l7.1 -0.2 M1151.9 319.4 l7.4 1 M1277 323.4 l4.8 0.1 M1244.5 323.7 l5.1 1.6 M1272.4 319.1 l9.5 -0.1 M1237.1 355.5 l9.6 0.1 M1259.1 361.1 l9 -0.3 M1285.7 343.5 l6.7 -0.1 M1279.3 345.4 l5.7 0.7 M1212.2 321.6 l9.4 2.2 M1153.5 329.4 l6.4 1.8 M1264.5 336.1 l5.2 -0 M1271.2 318.7 l8.6 0.4 M1157.9 343.4 l5.1 0.7 M1252.1 348.9 l8 0.9 M1295.1 323.1 l6.1 0.3 M1284.3 339.8 l5.1 0.7 M1271.8 316.8 l9.3 0.1 M1185.1 363.2 l6.8 0.2 M1262.9 339.3 l7 0.5 M1205.5 361.7 l7.4 1.6 M1290.6 341.8 l6.4 0.1 M1218.9 330.1 l8.5 2.7 M1286.3 337.2 l8.1 0.3 M1283.4 340.6 l6.4 2.2 M1174.2 350.2 l6.8 2.3 M1172.9 324.3 l5 0.9 M1227.7 336.6 l8.6 1.1 M1160.9 321.6 l6 1.9 M1216 323.4 l4.2 -0.1 M1302.3 332.3 l8.1 1.4 M1193.1 317.4 l6.2 1.1 M1195.7 360.2 l5.3 1.4 M1187.8 347.2 l7.6 1.7 M1204.5 353.5 l7.5 0.4 M1234.5 331 l5.3 1.8 M1242.6 341.8 l9.9 1.2 M1221.4 337.4 l5.6 1.1 M1150.5 338.2 l9 2.9 M1254.9 331.6 l4.7 1.3 M1297.7 336.7 l7 1.6 M1236.4 361 l6.4 -0 M1161.4 324 l8.5 0.4 M1267.5 328.7 l4.5 1.1 M1262.3 363.1 l4.4 -0.2 M1283.7 342.9 l7.2 -0.1 M1244.2 346.5 l7.5 1 M1266.2 340.6 l5.2 0.2 M1296.2 331.9 l5.5 1.1 M1234.1 323.9 l10 2.4 M1252.7 319.4 l5.9 1 M1258.3 320 l8.2 2.7 M1196.7 329.9 l6.5 1.4 M1158 328.5 l4.5 1.6 M1153.7 322.9 l9.5 3.3 M1294.1 335.2 l6.5 1.2 M1191.3 318.9 l4 1.2 M1226.3 330.3 l9.3 -0.2 M1227.4 358.4 l5.8 1.3 M1197.7 319.5 l4.6 1.1 M1299.8 354.7 l8.3 1.5 M1189.3 333.9 l6.5 0.5 M1157.5 339.5 l7 1.6 M1203.7 355.9 l6 2.1 M1286.6 330.2 l9.8 1 M1262.1 326.6 l4.4 0.7 M1250.5 326 l6.9 0.7 M1159.1 360.8 l9.4 3.2 M1245.9 327.6 l6.3 0.3 M1204.1 319.3 l7.5 -0.4 M1174.2 338.5 l8.7 0.1 M1263.2 361.5 l7.7 1.8 M1155.1 327.5 l4.2 1.4 M1251.2 346.7 l5.4 0.6 M1184.4 347.7 l8.1 2.8 M1178.9 334.2 l7.9 2.1 M1239 323.4 l5.3 0.8 M1266.9 341.4 l8.5 3 M1283.6 346.7 l5.3 0 M1291.1 340.3 l7.9 1 M1194.6 313.3 l6.3 0.9 M1282.3 317.5 l7.5 0.9 M1236.4 345 l5.1 1.5 M1262 315 l6.6 1 M1152.3 336.6 l6.2 -0.1 M1175.3 344.8 l5.9 1.7 M1301.1 324.8 l8.1 2.5 M1212.8 323.3 l4.9 -0.1 M1195.7 363.5 l8.7 2.9 M1257.7 336.1 l6.3 1.5 M1218.3 313.6 l9.4 1 M1197.9 325.2 l4.9 1.6 M1156.8 345.5 l6.2 2.2 M1248.7 326.3 l4.5 0 M1165.7 327.2 l8 2 M1255.7 318.3 l4.9 0.4 M1195.3 320.7 l4 1.4 M1228 333.1 l7.2 -0.2 M1210.9 325.3 l4.8 1.1 M1274 315.6 l4.7 0.3 M1164.9 360 l6.6 2.1 M1285.1 348.7 l8.8 0.5 M1256.6 360.8 l5.9 0.7 M1251.2 322.4 l6.3 -0.2 M1229.9 351.9 l9.8 2.4 M1203.7 346 l4 0.9 M1226.3 317.6 l5.2 0.2 M1184.6 330.5 l7.7 1.4 M1176.3 335 l9.3 0.4 M1301.2 348.1 l5.8 1.9 M1287.2 348.3 l5.6 1.5 M1285.5 358 l8 1.9 M1166.6 350.7 l6.6 2.1 M1265.5 339.5 l4.4 -0.1 M1294.6 347.3 l6.2 2 M1298.9 347.1 l6.2 1.2 M1232 332 l9.1 2.9 M1292.6 332 l4.1 0.2 M1233.8 347.1 l6.4 1.4 M1303.1 352.2 l4.3 -0" stroke="#4a3028" stroke-width="0.7" opacity="0.35" fill="none"/>
<path d="M1304.8 348.3 l6.3 0.7 M1161 318 l9.6 -0.1 M1301.6 315 l6.3 0.9 M1179.5 326.3 l5.4 -0.2 M1277.7 335.3 l4.2 1 M1234.5 325 l6.7 1.8 M1247.5 319.4 l5.1 1.1 M1192.8 348.1 l7.7 0.2 M1194.4 328.4 l6.4 1.1 M1219.1 346.2 l9.3 -0.1 M1232.5 329.4 l6 0.9 M1162.4 359.4 l9.6 2.1 M1170.1 359.8 l7.8 1.7 M1200.3 343.3 l5.9 1.2 M1173.3 326.5 l6.4 1.7 M1221.6 353.8 l5.6 0.2 M1150.7 353.8 l5.8 0.1 M1227.7 313.5 l7.5 0.5 M1264.1 345.5 l4.6 1.3 M1295 343.1 l7.9 2.6 M1174.9 315.3 l8.5 2 M1153.5 317.6 l9.9 1.7 M1153.5 333.5 l7.8 1.6 M1211 345.7 l5.5 0.1 M1196.8 334 l8.4 -0 M1209.3 352.4 l8 0.2 M1195.9 332.9 l7.4 0.3 M1194.6 348.2 l9.6 -0.1 M1230.5 362.4 l4.8 -0.1 M1158.9 360.4 l6.9 -0.3 M1212.9 355.9 l8.1 0.9 M1242.2 353.4 l9.9 1.1 M1276.9 356 l8 0.3 M1252.1 319.4 l8.2 0.7 M1192.6 325 l4.9 1.1 M1160.9 319 l9 0.5 M1302.8 354.3 l4.8 -0 M1155.7 349.5 l4.3 0.3 M1267.2 353.2 l5.4 0.1 M1276 350.6 l8.4 1 M1151.7 328.3 l6.1 2.1 M1218 342.3 l6.4 2 M1206.8 360.6 l8.9 1 M1159 357.6 l6.7 1 M1216 335.2 l5.4 1.2 M1182.4 319.5 l4.9 0.8 M1259.2 362.4 l9.9 2 M1292.7 339.1 l9 1.6 M1260.6 344 l9 0.2 M1282.1 362.8 l6.7 0.1 M1214.8 315.5 l7.8 1.9 M1228.2 344.9 l9.2 0.7 M1176.2 347.7 l10 0.8 M1192.7 322 l8.5 0.5 M1236.1 357.3 l5.9 -0.3 M1238.4 315 l6.8 0.1 M1237.6 354.1 l7.8 1.5 M1154.2 330.8 l7.9 0.6 M1196.5 349.6 l7.2 1.1 M1212.7 346.1 l7.5 0.6 M1174.8 346.8 l6.4 1.7 M1267.5 349.6 l7.4 0.8 M1291.1 343.1 l9.9 1.3 M1195.6 327 l4.2 1 M1215.2 316.3 l4.4 0.1 M1295.7 348.1 l4.9 -0.2 M1255.4 359.2 l4.7 0.5 M1302 317.5 l9.5 1 M1221.6 317.6 l5.7 1.7 M1267.5 359.8 l9.3 2.9 M1293.9 348.2 l7 -0.2 M1224.4 328.7 l6.1 1.6 M1195.7 321.3 l6.4 0 M1197.2 357.6 l9.8 0.5 M1299 319.6 l6.1 1.9 M1236 326.5 l8.3 2.1 M1220.2 334 l7 2 M1270.1 362.7 l7 -0.3 M1180.8 318.9 l7.5 0.4 M1212.9 356.9 l4.3 1.5 M1248.3 328.5 l9 2.9 M1235.3 351.4 l7.3 2.6 M1217.8 321.8 l5.4 0.3 M1253.5 335.2 l7.6 1 M1251.3 328.4 l5.8 2.1 M1233.4 347.1 l5.8 0.1 M1233.8 328.1 l8.6 0.6 M1271.5 346.5 l7.7 0 M1163.1 342.8 l4.6 1 M1256.7 357.1 l5.3 1.5 M1295.2 333.2 l5.7 0.1 M1184.7 321.1 l6.3 1.5 M1212.4 345.9 l8.9 3.1 M1158.9 357.4 l4.6 0.9 M1231.9 338.8 l5.4 1.3 M1264.4 336.4 l6.3 0.4 M1284.2 321.2 l4.1 0.5 M1184.3 350.4 l9.2 0.8 M1189.4 361.8 l4.4 0.2 M1179 345.5 l8.5 1.3 M1225.3 357.1 l5.7 1.5 M1200.5 339.8 l7.6 2.2 M1156.8 325.8 l7.1 1 M1294.5 361.1 l9 2.4 M1171.3 336.6 l4 1.1 M1190.7 348.9 l6.6 0.1 M1216.5 336.7 l5 0.6 M1173.5 315.6 l10 2.4 M1226.2 318.4 l9.4 2.7 M1226.3 319 l4.7 -0.2 M1297.8 350.4 l5.4 1.6 M1168.9 361.3 l8.1 1.3 M1295.1 360.5 l8.5 0.1 M1291.8 336.6 l5.1 0.6 M1151.1 319.6 l8.5 -0 M1275.6 338.5 l7.4 0.2 M1296.5 316.6 l9.4 1.5 M1155.7 336 l6.6 2 M1198.6 348.7 l8.9 1 M1193.2 353.4 l6.3 0.2 M1287.7 319.1 l7.5 1.1 M1229.4 313.3 l5.5 1.5 M1241.3 322.2 l9.2 0.9 M1242.6 344.7 l9.9 2.1 M1289.4 314.6 l5.8 0.5 M1301.2 331.3 l6.5 1.8 M1159.6 358.6 l9.3 0.1 M1232.4 352.1 l8.7 2.1 M1289.9 327.5 l6.2 1.8 M1224 321.6 l4.6 0.7 M1195.2 320.6 l4.9 1.1 M1221.2 333.4 l6.7 1.4 M1215.4 355.2 l9.8 2.4 M1192.5 350.7 l6.1 0.9 M1249.6 324 l9 1.8 M1212.6 335.1 l6.1 2 M1290.6 361.2 l10 0.9 M1295.2 324 l5.9 0.5 M1249.9 356 l5.5 0.2 M1260.3 317.6 l9.4 1.6 M1270.6 341.2 l8.7 0.6 M1216.2 320.4 l7.9 2.3 M1246.3 352.7 l6.3 0.4 M1283 347.8 l8.8 1.4 M1231 346.5 l6.8 2 M1302.4 356 l9.8 2.9 M1167.6 338.2 l4.4 1.5 M1167.9 342.5 l8 0.5 M1177.3 327.4 l4.9 -0 M1223.3 314.4 l9.2 0.2 M1168.9 319.3 l4.8 0.2 M1249.2 335.5 l8.5 0.4 M1177.4 339.4 l8.6 1.4 M1152.1 351.9 l5.7 1.4 M1281.5 317.9 l8.7 1.8 M1175.8 339.9 l8.4 0.1 M1284.7 351.1 l7.2 1.6 M1232.8 332.8 l7.5 1.3 M1303.2 337.2 l7.4 0.3 M1262.8 362.1 l5.8 0.1 M1181.7 347.8 l8.4 1.9 M1170.2 334.4 l8.3 1.7 M1163.5 331.4 l5 0.4 M1243.7 354 l7.5 0.4 M1172.9 363.8 l8.1 0 M1156 332.6 l6.8 0.2 M1298.9 320.4 l7.9 0.9 M1159.6 349.2 l7.2 1.9 M1187.4 339.6 l9.6 3.2 M1300.5 345.1 l5.5 0.3 M1230.6 337.3 l7.4 1 M1214.9 335.8 l4.8 0.8 M1256.7 322.3 l5.6 0.1 M1154.5 331.9 l7.3 2.4 M1153.7 340.4 l4.9 1.4 M1224.2 362.8 l8.6 -0.3 M1195.2 356.2 l6.7 0.7 M1266.1 361.5 l7.8 2.6 M1288.7 339.3 l9.3 0.4 M1239 363.4 l8.4 0.7 M1228.4 335.5 l5.1 1.2 M1157 341 l7.7 0.7" stroke="#e0b8a8" stroke-width="0.6" opacity="0.35" fill="none"/>
</g>
</g>
<ellipse cx="1242" cy="332.4" rx="93.5" ry="71.5" fill="none" stroke="#000" stroke-width="3.6" stroke-dasharray="6.2 7.6" stroke-linecap="round"/>
<ellipse cx="1021.4" cy="505" rx="94.9" ry="71.8" fill="url(#bg)"/>
<g clip-path="url(#cp4)">
<path d="M1045.9 430 C1033.2 433.5 1047.7 443.3 1048.9 449.2 C1050.1 455.1 1051.8 460.6 1053.3 465.5 C1054.8 470.4 1056.3 474.9 1057.8 478.9 C1059.3 482.8 1060.5 486.2 1062.2 489.2 C1063.9 492.1 1064.6 493.1 1068.1 496.6 C1071.6 500.1 1078 506.5 1083 510 C1088 513.5 1093.4 515.2 1097.8 517.4 C1102.2 519.6 1105.1 522 1109.6 523.3 C1114.1 524.6 1122.4 540.9 1125 525 C1127.6 509.1 1138.2 443.8 1125 428 C1111.8 412.2 1058.6 426.5 1045.9 430 Z" fill="#45372f"/>
<clipPath id="fc4"><path d="M1045.9 430 C1033.2 433.5 1047.7 443.3 1048.9 449.2 C1050.1 455.1 1051.8 460.6 1053.3 465.5 C1054.8 470.4 1056.3 474.9 1057.8 478.9 C1059.3 482.8 1060.5 486.2 1062.2 489.2 C1063.9 492.1 1064.6 493.1 1068.1 496.6 C1071.6 500.1 1078 506.5 1083 510 C1088 513.5 1093.4 515.2 1097.8 517.4 C1102.2 519.6 1105.1 522 1109.6 523.3 C1114.1 524.6 1122.4 540.9 1125 525 C1127.6 509.1 1138.2 443.8 1125 428 C1111.8 412.2 1058.6 426.5 1045.9 430 Z"/></clipPath>
<g clip-path="url(#fc4)">
<path d="M1042 430 l3.8 17.5 M1099.9 432.6 l1.9 20.6 M1129.7 428 l3.5 9.8 M1058.6 453.3 l5.9 16.3 M1072.6 439.8 l9.5 25 M1105.9 438.7 l-0.5 22.8 M1126.6 522.5 l7.8 28.8 M1056.6 484.7 l4.3 20.5 M1058.1 516.5 l4.8 21.5 M1076.5 515.4 l8.2 21.5 M1051.4 428.6 l-2.1 29.6 M1070.8 494.3 l2.9 26.9 M1072 419.2 l0.2 17.5 M1059.3 438.7 l0.5 26.4 M1081.4 492.4 l6.1 19.6 M1087.6 494.7 l4.4 18.7 M1102.4 480 l3.9 12.7 M1078.8 433 l0.4 17.6 M1114.6 421.5 l7 21.2 M1083.6 471.5 l0.2 28.7 M1043.9 469.6 l1.7 15.9 M1090.3 441.7 l5.1 17.5 M1103.8 423.2 l6.1 28.4 M1128.5 503.2 l-0.1 11.2 M1129.8 433.1 l0.3 10.9 M1077.3 475.6 l-1.1 18.8 M1121.2 506.5 l1 24.5 M1115.6 422.2 l2.3 24.5 M1079 477.5 l2.5 25.6 M1093.1 511.2 l-1.8 27.3 M1061.3 454.5 l2.3 29.1 M1065.2 465.1 l1 23.4 M1050.5 502.1 l3.9 14.8 M1047.9 428.1 l3.7 25.7 M1068.8 508.6 l5.3 20.3 M1093.9 476 l9.5 25.4 M1047.6 483.6 l4.5 12.2 M1088.5 505.5 l-1.6 27.3 M1057 467.3 l3.8 12.1 M1075.6 514 l1 26.4 M1100 438.1 l3.7 12.2 M1111 425.6 l5.2 27.5 M1055.9 428.5 l7.6 25.1 M1056.9 425.8 l0.3 18.3 M1117.7 493.5 l0.9 28 M1118.4 482.9 l1.4 28.4 M1104.9 512.4 l0 13.3 M1098.8 429.3 l5.6 27.7 M1071.6 435.2 l1 19.3 M1098.5 488.8 l10.1 27.3 M1110.1 467.6 l5.3 20.3 M1062.3 491.6 l9.9 27.8 M1096.6 429 l1.9 27.9 M1094.9 457.9 l-1.9 27.6 M1047.1 489.7 l0.4 19.7 M1119.6 442 l4.1 19 M1129.6 482.7 l-0.3 15 M1075.9 480.7 l-0 11.6 M1111.7 488.8 l1.5 22 M1063.1 471.4 l-0.7 24.9 M1059.7 452 l2.2 11.7 M1044.4 450 l4 16.6 M1096.9 505.9 l-0.5 21.3 M1040.9 427.1 l0.5 21.7 M1050.3 506.7 l-0.4 24.9 M1058.1 427.6 l7.7 20 M1065.5 436.2 l4.2 29.2 M1122.1 462.8 l3.7 29.5 M1116.8 476.9 l4 23.1 M1057.1 496.4 l-1.6 20 M1043.2 438.3 l2.8 25.4 M1084.9 522.1 l0.5 25.7 M1073.6 442.7 l-2.7 23 M1065 519.2 l3.3 27.7 M1108.5 482.3 l5 14.9 M1117.4 513.1 l-2.1 20.5 M1045.1 497.7 l2.7 11.9 M1072.7 517.2 l-2.8 27.3 M1122.4 436.9 l0 19.2 M1122.4 455.4 l-2.1 20.1 M1126.7 486.5 l2.1 17 M1111.9 422.8 l2.5 18.1 M1109 484.3 l-1.7 26.9 M1068.1 473.4 l1.9 15 M1117.5 483.2 l6.6 18.8 M1069 505.5 l8.3 27 M1106.1 493.6 l0.9 14.7 M1103.6 490.8 l4.1 29.5 M1051.6 465.3 l4.7 21.4 M1058.5 486.1 l8.6 24.2 M1105.8 466 l4.6 21.3 M1118.9 444.8 l8.2 24.3 M1117.3 463 l0.6 17.5 M1123.4 483.9 l-1.6 29.2 M1042.1 523.7 l-1.4 19.6 M1103.4 503.7 l5.5 17.4 M1118.4 435 l0.5 13.7 M1121 472 l5.1 17.9 M1108 426.4 l1.1 10.2 M1095.5 450.9 l-1.2 25.5 M1077.6 442.9 l-0.6 16.6 M1058.7 472.5 l3.7 12.5 M1066.1 517.2 l0.9 21.6 M1056.9 507.6 l2.5 11.3 M1042.5 469.1 l5.8 27.6 M1100 451.1 l-0.9 14.4 M1091 498.9 l5.3 27.5 M1101.2 469.8 l0.5 13.8 M1114.1 444.1 l4.6 17.8 M1084.9 463.3 l8 26.5 M1090.8 448.5 l-1.8 24.8 M1125.6 494.8 l1.7 23.7 M1105.8 502.6 l-0.8 11.6 M1080.6 518.4 l-1.2 10.4 M1048.1 462.5 l0.8 21.7 M1076.8 451.5 l-2.3 17.8 M1127.6 427.4 l-0.7 18.5 M1057.2 438.2 l-1.9 19.8 M1096.6 511.5 l4.6 29.1 M1091.8 490.8 l4 13.8 M1098.5 519.5 l6.6 26.2 M1077.9 513.4 l-0.6 19.8 M1047.3 520.4 l1.9 17.5 M1096.5 434.7 l3.6 13.6 M1090.6 447 l0.4 11.5 M1107.4 499.1 l1.1 15.7 M1042.4 515.1 l1.4 10.9 M1047.1 509.9 l4.2 23.2 M1070.2 520.9 l4.9 15.9 M1085.2 498 l4.9 24.1 M1081.8 480.8 l3 19.9 M1112.3 463.5 l0.8 13 M1107.6 469.9 l-2.5 20.7 M1101.5 514.1 l-1.6 25.4 M1118.3 500.3 l8.7 24.3 M1078.8 515.2 l0.7 16.6 M1100.6 510.9 l-0.1 13.7 M1124.4 511.8 l3.2 19.7 M1120.7 517.6 l-0.3 12.1 M1103.2 444 l3.6 9.4 M1090.1 494.9 l-3.5 28.2" stroke="#a8917a" stroke-width="0.7" opacity="0.5" fill="none"/>
<path d="M1050.9 442.8 l-1.4 25.1 M1060.2 480.6 l7.1 19.7 M1106.4 510.9 l-0.5 23 M1070.8 453.8 l3.4 17.6 M1081.4 503.7 l4.9 18.2 M1111.1 447.7 l3.1 17.2 M1044.3 430 l2.9 12.4 M1127.6 500.1 l3.8 14.6 M1044.9 431.4 l-2.9 27.2 M1052.8 431.2 l6.2 24.9 M1104.3 475.9 l3.8 14.4 M1058.9 505.1 l1.2 17.2 M1075.1 439.2 l0.6 14.3 M1073.7 500.5 l-0.1 11.3 M1040.9 458.6 l0.5 25.1 M1092.5 461.2 l-0.3 25.5 M1116.3 475.9 l-1.3 16.3 M1057.6 457.9 l7 19.7 M1087.2 509.8 l1 16.1 M1112.4 465.1 l2.1 19.5 M1048.9 509.9 l1.7 11 M1069.6 459.6 l6.2 17.3 M1113.7 496.7 l6.7 27.4 M1061 445.8 l-1.3 28.1 M1072.3 492 l-1.9 19.6 M1103.9 483.3 l8.3 25.7 M1093.7 500.1 l2.2 15.1 M1104 497 l0.9 21.8 M1067.4 505.9 l0.8 11.3 M1055.3 421.9 l-0.7 11.5 M1090.8 516.8 l-1.2 21.3 M1104.7 458.1 l2.9 18.4 M1044.6 467.5 l4.5 16.1 M1083 426.5 l3.6 21.6 M1127.5 447.9 l-1 19 M1075.8 491.3 l-1.9 29.1 M1094.5 447.3 l3.6 10.1 M1090.5 465.7 l3 28.9 M1109.8 517.8 l0.5 13.4 M1063.5 493.9 l1.5 25.1 M1044.9 478.5 l-0.9 13 M1048.7 425.9 l0.7 12.7 M1066.7 431.1 l7 24.4 M1045.3 435.7 l6.7 17.4 M1087.4 506.3 l5.7 25.7 M1122.8 479.1 l6.7 21 M1075.2 423.4 l5.5 16.3 M1093.2 438.1 l-3.4 28 M1100.5 460.5 l4.7 15 M1069.2 493.3 l-0.9 15.1 M1119.9 504.4 l4.8 20.6 M1109 445.5 l2.5 28.8 M1091 425.8 l0.6 26.6 M1074 519.8 l1.6 24.4 M1103.7 468.6 l5.3 21.6 M1057.5 419.8 l0.9 26.3 M1115.9 461 l4.6 19.7 M1073.2 439.2 l-1.9 15.6 M1098 500.8 l4.4 18.3 M1047.8 505.7 l3 23.7 M1123.6 498.9 l6.5 22.2 M1088.4 471.2 l-0.2 29.9 M1046.8 437.9 l2.7 16.9 M1084.5 432.9 l4.6 12.3 M1094.1 432.5 l2.3 12.4 M1041.8 521.1 l0.1 17.5 M1120.9 518.6 l5 16.2 M1067.9 509.5 l5.4 14.7 M1127.4 461.6 l5.2 23.1 M1045.5 489.3 l5 25.6 M1060.8 522.7 l1.9 18.7 M1046.4 506.4 l6.6 19.8 M1128 481 l-2.4 28.9 M1047.4 522.2 l3.9 13.6 M1095 521.4 l1.5 10.3 M1089.9 449.6 l-1.1 29.9 M1129.1 522.3 l2.3 26.9 M1091.7 462.5 l-3.8 28.9 M1079.3 524.8 l6.7 29.1 M1074.7 492.7 l4.1 14.3 M1061.5 440.5 l0.8 17.8 M1082.2 421.6 l1.6 16.4 M1054.3 445.4 l2.2 15.5 M1072.4 452.6 l6.6 18.3 M1128.4 450.9 l3.9 20.7 M1115.5 430.8 l-1.1 14.1 M1084.9 470.8 l2.9 10.3 M1068.6 455.1 l6.9 20.5 M1042.9 457.2 l2.8 23.8 M1124.4 422.9 l-0.2 23.9 M1057.8 433 l5.3 26.4 M1079.2 445.3 l3.8 10.6 M1080.3 459.9 l7.1 22.1 M1108.4 430.1 l-0.4 12.6 M1122.3 436.1 l10.1 26.6 M1107.3 484.1 l5 23.4 M1102.1 432.3 l2.5 23.7 M1078.5 498 l-0.8 12.9 M1101.7 492.4 l10.5 27.1 M1051.3 505.5 l0.1 13.2 M1115.5 524.1 l-0.5 23.7 M1125.6 454.2 l3.3 12.5 M1080.2 470.2 l-1.2 10.1 M1103.7 469.6 l1.4 11.4 M1109.3 496.2 l-0.7 22.8 M1047.5 451.8 l5.6 22.1 M1056.3 455 l4.3 11.2 M1125.4 424.5 l2.4 12 M1054.1 433.5 l5.7 28.9 M1078.7 475.2 l1.8 17.2 M1101.4 434.6 l3 15 M1088.8 422.9 l1.4 15.7 M1094.3 496.8 l3.9 21.4 M1120.5 494.6 l2.8 19 M1074.5 506.3 l-2 18.9 M1071.2 494.2 l8.9 26.8 M1062.9 450.3 l-0.4 26.1 M1116.9 428.2 l-0.1 18.1 M1081.3 426 l1.5 14.3 M1118.1 446.4 l8.6 22.8 M1118.1 466.2 l4.6 25.7 M1104.8 437.7 l3.8 11.6 M1080.6 445 l5.9 17.7 M1054.7 481.9 l9.6 25.5 M1107.9 430.3 l3.7 15.6 M1052.8 510 l-2.3 26.8 M1067.3 506 l5.5 16.8 M1064.1 470.6 l1.6 21.2 M1052.6 512.8 l0.7 28.6 M1097.1 515.3 l3.9 12.8 M1091.6 468.8 l5.5 26.1 M1115.4 440.4 l9.3 26.1 M1072.1 482.9 l8.1 25" stroke="#231a16" stroke-width="0.9" opacity="0.5" fill="none"/>
</g>
<path d="M1045.9 430 C1033.2 433.5 1047.7 443.3 1048.9 449.2 C1050.1 455.1 1051.8 460.6 1053.3 465.5 C1054.8 470.4 1056.3 474.9 1057.8 478.9 C1059.3 482.8 1060.5 486.2 1062.2 489.2 C1063.9 492.1 1064.6 493.1 1068.1 496.6 C1071.6 500.1 1078 506.5 1083 510 C1088 513.5 1093.4 515.2 1097.8 517.4 C1102.2 519.6 1105.1 522 1109.6 523.3 C1114.1 524.6 1122.4 540.9 1125 525 C1127.6 509.1 1138.2 443.8 1125 428 C1111.8 412.2 1058.6 426.5 1045.9 430 Z" fill="url(#furg)"/>
<path d="M1068.1 496.6 C1062 494 1058.2 497.3 1053.3 496.6 C1048.4 495.9 1044.7 493.9 1038.5 492.2 C1032.3 490.5 1023.7 487.8 1016.3 486.3 C1008.9 484.8 1001.5 483.4 994.1 483.3 C986.7 483.2 978.1 484.5 971.9 485.5 C965.7 486.5 961.7 487.6 957 489.2 C952.3 490.8 944.9 491.6 943.7 495.1 C942.5 498.6 947.4 506.3 949.6 510 C951.8 513.7 954 516.4 957 517.4 C960 518.4 963.7 517.1 967.4 515.9 C971.1 514.7 976.6 510.2 979.3 510 C982 509.8 980 513.5 983.7 514.4 C987.4 515.2 994.8 514.5 1001.5 515.1 C1008.2 515.7 1016.3 517.5 1023.7 518.1 C1031.1 518.7 1038.5 519 1045.9 518.9 C1053.3 518.8 1061.9 517.9 1068.1 517.4 C1074.3 516.9 1079.3 516.8 1083 515.9 C1086.7 515 1092.5 515.2 1090 512 C1087.5 508.8 1074.2 499.2 1068.1 496.6 Z" fill="url(#pawL)"/>
<path d="M1068.1 496.6 C1062 494 1058.2 497.3 1053.3 496.6 C1048.4 495.9 1044.7 493.9 1038.5 492.2 C1032.3 490.5 1023.7 487.8 1016.3 486.3 C1008.9 484.8 1001.5 483.4 994.1 483.3 C986.7 483.2 978.1 484.5 971.9 485.5 C965.7 486.5 961.7 487.6 957 489.2 C952.3 490.8 944.9 491.6 943.7 495.1 C942.5 498.6 947.4 506.3 949.6 510 C951.8 513.7 954 516.4 957 517.4 C960 518.4 963.7 517.1 967.4 515.9 C971.1 514.7 976.6 510.2 979.3 510 C982 509.8 980 513.5 983.7 514.4 C987.4 515.2 994.8 514.5 1001.5 515.1 C1008.2 515.7 1016.3 517.5 1023.7 518.1 C1031.1 518.7 1038.5 519 1045.9 518.9 C1053.3 518.8 1061.9 517.9 1068.1 517.4 C1074.3 516.9 1079.3 516.8 1083 515.9 C1086.7 515 1092.5 515.2 1090 512 C1087.5 508.8 1074.2 499.2 1068.1 496.6 Z" fill="url(#pawV)"/>
<clipPath id="pc4"><path d="M1068.1 496.6 C1062 494 1058.2 497.3 1053.3 496.6 C1048.4 495.9 1044.7 493.9 1038.5 492.2 C1032.3 490.5 1023.7 487.8 1016.3 486.3 C1008.9 484.8 1001.5 483.4 994.1 483.3 C986.7 483.2 978.1 484.5 971.9 485.5 C965.7 486.5 961.7 487.6 957 489.2 C952.3 490.8 944.9 491.6 943.7 495.1 C942.5 498.6 947.4 506.3 949.6 510 C951.8 513.7 954 516.4 957 517.4 C960 518.4 963.7 517.1 967.4 515.9 C971.1 514.7 976.6 510.2 979.3 510 C982 509.8 980 513.5 983.7 514.4 C987.4 515.2 994.8 514.5 1001.5 515.1 C1008.2 515.7 1016.3 517.5 1023.7 518.1 C1031.1 518.7 1038.5 519 1045.9 518.9 C1053.3 518.8 1061.9 517.9 1068.1 517.4 C1074.3 516.9 1079.3 516.8 1083 515.9 C1086.7 515 1092.5 515.2 1090 512 C1087.5 508.8 1074.2 499.2 1068.1 496.6 Z"/></clipPath>
<g clip-path="url(#pc4)">
<path d="M986.2 509.2 l-7.7 2.4 M1033.9 496.7 l-4.8 0.8 M1029.5 492.4 l-8.6 1.6 M1019.5 486 l-9.8 2.9 M951.1 489.8 l-7 -0.2 M1027.4 488.6 l-9.9 0.9 M1030.7 487.4 l-6.8 0.1 M1043.9 487.8 l-4.9 0.3 M965.2 500.6 l-8.2 2.8 M1009.1 507.3 l-9.6 1.2 M999.1 484.4 l-6.5 1.7 M1061.3 483.5 l-4.6 1.6 M995.5 489.1 l-6.4 1.1 M1051.6 490.6 l-6.4 0.7 M1084.7 506.5 l-7 -0 M1067.8 479.6 l-5.6 0.9 M1064.8 501.8 l-5.3 -0.2 M1081.7 495.2 l-6.8 0.2 M950.6 509 l-4.9 1.2 M1009 506.1 l-5 -0 M971.5 485.3 l-7.6 2.6 M982.4 486.9 l-6.1 1.2 M986.2 485.6 l-7.2 1.1 M1071.8 488.2 l-9.7 0.9 M999.7 487.1 l-4.6 0.4 M981.4 501.1 l-9.8 -0.1 M992.7 505.8 l-6 1.5 M1035.5 486.1 l-8.3 2.8 M1065.3 497 l-9.8 1.6 M994.6 486.1 l-8.1 0.1 M967.8 486.3 l-5.6 0.7 M997.9 491.4 l-6.3 2 M945.1 482 l-4.7 -0.2 M1022.2 484.6 l-9.3 1.6 M1018.3 488.8 l-8.1 2.3 M960 505.9 l-8.9 0.2 M1017.6 506.1 l-5.1 1.2 M1082.5 484.4 l-5.7 1.6 M993.5 507.5 l-4.8 1.7 M1025.9 494.9 l-9.8 1.1 M1037.7 493.6 l-6 1.5 M999.3 494.9 l-5.5 0.5 M1076.4 479.3 l-4.8 0.3 M1069.8 497.1 l-4.3 0.2 M1031.9 488.8 l-8.1 2.1 M1044 502.8 l-5.8 1.7 M1043.1 479.6 l-6.8 -0.1 M1060.7 502.4 l-7.6 0.9 M948.2 494.5 l-8.9 2.4 M971.3 486.6 l-7.7 2.3 M983.3 491.4 l-9.2 2.5 M954.2 479.4 l-8 0.5 M986.8 501.8 l-8 1.7 M1064.7 497.3 l-9.8 1.3 M1012.5 509 l-9.4 2.8 M955.8 491.8 l-7.3 0.5 M1018 504.4 l-7.5 0.6 M971 481.5 l-9.6 2.5 M1007.9 505.4 l-8.4 -0.3 M1052.1 482.7 l-9.6 2.9 M1021.8 485.8 l-6 1.2 M1024.8 485.1 l-4.4 0.1 M1021.6 481.8 l-9.4 0.7 M1062.7 501.1 l-5.8 0.4 M1080.6 492.1 l-5.5 1.1 M1019.1 493 l-6.5 1.9 M1087.9 485.9 l-7.4 0.1 M1050.4 508.4 l-5.3 1.5 M1063.9 484.8 l-9.7 1.7 M1052.1 500.7 l-8.7 1.2 M982.8 486.3 l-6.3 0.2 M993 492.3 l-7.3 -0.1 M1042.6 496.2 l-4 0.1 M975.8 505.4 l-4.6 0.9 M980.6 483 l-5.8 0.9 M1027.1 481.2 l-6.8 2.2 M973.4 479.8 l-5.8 0.4 M1041.1 489.5 l-6.3 0.5 M983.8 499.6 l-6 0.6 M1080.3 482.8 l-5.4 0.3 M953.4 492.7 l-4.3 1.2 M1051.6 481.8 l-6.7 1.8 M1027.7 481.4 l-4.2 0.5 M991 481.2 l-5.2 0.5 M958.8 506.6 l-7.2 0.9 M1070.1 503.7 l-7.5 2.6 M1046 490.3 l-8.9 2.5 M1017 485.8 l-5.7 0.3 M1036.1 499.8 l-6.7 1.6 M1071 504.3 l-9.1 2.9 M1078 506.8 l-5.7 1.2 M978 484.7 l-9 0.3 M1008.1 488.6 l-6.4 1.8 M1005.5 481.6 l-5.7 0.8 M1013.1 497.6 l-4.8 1.6 M945.2 490.5 l-6.2 -0.1 M947.5 501.2 l-7.2 0 M1057.2 507.9 l-7.8 1 M987.7 484.3 l-7.8 1.7 M1088.9 498.5 l-4.4 0.5 M951.8 484.7 l-4 1.4 M947.6 480.9 l-8.2 1.9 M1066.3 483.9 l-4.4 0 M961.4 503.9 l-4 1.4 M1006 498.1 l-5.7 1.9 M1013.9 496.6 l-5.9 -0 M1087.9 502.1 l-5.2 0.8 M969.8 481.1 l-4.4 1.5 M1040.8 497.9 l-4.9 1.1 M1010.9 491.9 l-6.7 0.4 M1013.6 501.6 l-4.4 1.1 M1085.6 487.6 l-5.1 1.2 M1042.6 501.5 l-7.2 1.9 M1070.7 497.2 l-4.5 1 M1022.7 499.8 l-7.2 0.6 M1018.2 491.9 l-9.2 -0.1 M1022.4 503.5 l-4.5 0.1 M981.2 495.6 l-8.1 1.6 M985.6 487.4 l-6.1 2 M980.2 500.6 l-4.4 0.3 M1070.3 496.6 l-6.8 2.4 M990.2 496.4 l-6.1 0.9 M1039.1 506.9 l-5.8 0.7 M1054.5 488.8 l-4.5 1.2 M1016.7 504.3 l-8.3 1.7 M975.2 488.9 l-5.2 0.5 M963.8 496 l-8.6 2.7 M1073.4 479.7 l-7.6 -0.2 M952.4 486.4 l-8.8 -0.1 M1013.3 490.1 l-6.6 0.9 M1046.6 482.3 l-4.2 0.1 M968.2 498.2 l-6.9 -0.2 M1033.1 503.3 l-7.1 2.2 M1080.9 494.5 l-6.4 1.1" stroke="#4a3028" stroke-width="0.7" opacity="0.35" fill="none"/>
<path d="M949.9 497.4 l-4.1 0.6 M1051.3 495.2 l-7.6 0.8 M1039.6 501.6 l-8.1 1.4 M975.5 493 l-7.8 1 M989.8 500 l-9 0.4 M949.8 496.1 l-4.1 0.1 M964.6 506.5 l-8.4 2.6 M961.5 496.9 l-7.8 0.4 M1037.2 506.6 l-8 1.8 M1036.2 479.6 l-4.2 1.1 M949.9 499.7 l-5.8 1.3 M1011.1 485 l-8.4 -0 M1061 496.1 l-7.2 0.9 M976.3 507.2 l-5.1 0.4 M1052.5 500.4 l-5.3 0.2 M975.1 481.4 l-4.7 0.7 M1046.1 483.3 l-5.4 1.3 M1030.5 484.6 l-8.7 2.2 M944.6 509.2 l-7.8 1.9 M1042 480.6 l-5.3 0.3 M997.3 508 l-8.4 -0.1 M1042.9 503.1 l-5.7 1.7 M1072.2 504.1 l-8.3 2.6 M1082 509.8 l-9.5 -0.2 M1082.4 502.5 l-9.5 1 M946.4 500.6 l-9.8 1.6 M1014.3 484.1 l-9 1.4 M1012.5 497.4 l-5.6 0.7 M1049 488.8 l-9.4 2.7 M991.4 482 l-5.4 0.3 M1071.7 493.5 l-7.9 0.3 M1007.8 503.2 l-5.6 1.1 M1078.4 485.1 l-8.7 2.7 M947 508.1 l-6 1.4 M1011.5 503.7 l-8.6 2 M1021 493.2 l-6.4 1.2 M1055.4 481.1 l-7.5 1.3 M946.1 483.9 l-7.7 0 M968.6 507.9 l-6.6 0.9 M1020.8 502.5 l-4.5 -0.1 M1075.9 493.6 l-9.1 0.1 M950.3 503.2 l-7.7 0.7 M1061.4 506.8 l-6.1 0.4 M1021 483.2 l-9.4 1.3 M1044 494.1 l-8.8 0.2 M1045.8 509.1 l-4.8 0.6 M1064 490 l-4.4 1 M1078.4 500.6 l-8.3 2.5 M969.5 485.8 l-7 1.3 M1034.5 495.5 l-5.3 0.2 M946.2 499.1 l-5.3 1 M1026.2 495 l-7.8 0.5 M1032.5 498 l-8.2 -0.2 M1033.7 490 l-8.2 2.4 M947.5 485.2 l-9.9 0.5 M1005.9 492.9 l-8 2.5 M968.2 498.7 l-7.5 1.9 M957.5 489.9 l-5.9 2 M1000.5 482.1 l-6.3 -0.2 M967.4 487.9 l-4.6 1.2 M949 508.1 l-10 2.1 M1019.3 504.7 l-6.3 0.7 M1068.9 481.8 l-4.8 0.2 M1081.2 505.7 l-5.7 1 M1075.4 487.2 l-6.8 -0 M1004.3 483.3 l-8 1.8 M1032.3 495.9 l-4.4 0.7 M974 507.2 l-6.2 0 M1082.4 506.2 l-7.8 2.3 M966.2 504.8 l-8.2 2.5 M1083 492.8 l-5.8 1.1 M1025.2 509.9 l-9.7 1.7 M987.5 500.8 l-9.3 0.3 M1076.6 484.7 l-9 0.9 M1070.2 494.9 l-5.8 0.3 M1038.1 480.4 l-8 2.3 M1022.9 484.7 l-6.1 0.8 M1016.8 496.8 l-9.2 2.1 M1001.9 482.4 l-9.8 1.1 M1084.3 483.9 l-7.2 1.8 M1075.6 484.2 l-9.5 -0.4 M1059.9 508.8 l-5.9 0.3 M1066.6 497.4 l-4.5 1.6 M947 502 l-9.3 1.8 M959.2 505.9 l-5.6 1.4 M1004.3 502.7 l-9.1 0.8 M999.5 494 l-6.5 -0.3 M985.1 495.7 l-7.7 1.3 M1059.6 509 l-4.7 0 M1014.3 494 l-7.6 1.6 M988.2 486.1 l-6.9 2.3 M1085.1 509.1 l-4.4 0 M1059.9 480.9 l-7.3 0.5 M1044.1 499.7 l-4.9 -0.1 M999.6 484.7 l-6.8 -0.3 M968 505.5 l-7.8 1 M1060.4 490.5 l-7.2 2.5 M991.5 482.2 l-4.7 -0.1 M987.6 505 l-9.2 0.4 M1078.2 486.4 l-9.7 1.7 M999.5 481.4 l-8.3 2.5 M947.5 507.1 l-4.6 0.6" stroke="#e0b8a8" stroke-width="0.6" opacity="0.35" fill="none"/>
</g>
</g>
<ellipse cx="1021.4" cy="505" rx="94.4" ry="71.3" fill="none" stroke="#4d4d4d" stroke-width="4.0"/>
<ellipse cx="1253.3" cy="505" rx="94.5" ry="71.8" fill="url(#bg)"/>
<g clip-path="url(#cp5)">
<path d="M1248.8 430 C1264.8 433.5 1247.6 443.1 1245.9 449 C1244.2 454.9 1241.2 460.5 1238.5 465.1 C1235.8 469.8 1232.6 473.5 1229.7 476.9 C1226.8 480.3 1223.6 483.5 1220.9 485.7 C1218.2 487.9 1217.8 488.6 1213.6 490.1 C1209.4 491.6 1201.9 493.3 1196 494.5 C1190.1 495.7 1183.8 496.4 1178.4 497.4 C1173 498.4 1168.4 499.9 1163.7 500.3 C1159 500.7 1152.3 512 1150 500 C1147.7 487.9 1133.5 439.7 1150 428 C1166.5 416.3 1232.8 426.5 1248.8 430 Z" fill="#45372f"/>
<clipPath id="fc5"><path d="M1248.8 430 C1264.8 433.5 1247.6 443.1 1245.9 449 C1244.2 454.9 1241.2 460.5 1238.5 465.1 C1235.8 469.8 1232.6 473.5 1229.7 476.9 C1226.8 480.3 1223.6 483.5 1220.9 485.7 C1218.2 487.9 1217.8 488.6 1213.6 490.1 C1209.4 491.6 1201.9 493.3 1196 494.5 C1190.1 495.7 1183.8 496.4 1178.4 497.4 C1173 498.4 1168.4 499.9 1163.7 500.3 C1159 500.7 1152.3 512 1150 500 C1147.7 487.9 1133.5 439.7 1150 428 C1166.5 416.3 1232.8 426.5 1248.8 430 Z"/></clipPath>
<g clip-path="url(#fc5)">
<path d="M1185.8 468 l-2.6 13.1 M1242.2 425.1 l-5.6 24.8 M1194.3 452.5 l-3.7 15.3 M1172 478.9 l0.6 10.6 M1162.6 466.2 l0.6 20.8 M1173.7 420.7 l-1.1 23.8 M1154.3 475.5 l-6.1 22.5 M1190.5 419.7 l-4 15.5 M1176 471 l-6.1 24.7 M1229.7 438 l-7.4 21.2 M1196.5 436.9 l-5.7 21.8 M1156.6 489.3 l1.7 21.1 M1180.7 448.6 l0.2 15.6 M1190.4 454.5 l-1.8 23.7 M1194.8 498.2 l-3.8 14.5 M1240.4 464.6 l-7.4 19.2 M1200.1 439.7 l1.3 29.9 M1149.7 486.1 l-0 29.4 M1242.4 452.2 l-3.8 13 M1232.5 487 l-4.8 17.8 M1251.2 449.4 l-6.8 21.1 M1176.6 497.2 l-1.8 16.1 M1229.2 426.5 l-5.7 28.3 M1149.8 487.8 l1.6 26.8 M1181.8 419.5 l1.9 20.6 M1248.3 460 l-7 19.2 M1231.1 454.6 l0.8 11.1 M1164.6 495.9 l-4.9 26 M1173.9 494.6 l-1.5 11.6 M1246.2 498.2 l-3.4 12.3 M1149.9 419.1 l0.1 29.5 M1188.6 460.8 l0.9 20.2 M1217 478.8 l-3.2 17.1 M1225.2 421.2 l-4.1 23 M1214.3 438.4 l-0.6 20.1 M1234.6 433.6 l-1.7 16.2 M1197.4 460.5 l1.7 13.8 M1215.6 441.6 l0.5 13.8 M1201.4 461.6 l1.9 27.5 M1251.1 482.2 l1.6 25.1 M1248.3 479.5 l1.4 21.7 M1199.8 481.1 l-3.7 10.2 M1166.3 471.5 l-3.4 18 M1253.7 451 l-5 15.4 M1148.6 448.4 l-2.1 12.4 M1168.6 478.8 l-3.6 11.2 M1232.7 474.7 l0.9 10.4 M1175.9 477.8 l-4.1 24.2 M1234.8 480.1 l3.3 27 M1217.5 481.8 l1.9 29 M1177.9 418.3 l3.1 28.3 M1198.6 445.8 l-1.1 11.3 M1156.8 438.6 l-6.1 20 M1148.9 488.7 l-7 28.5 M1233.5 426.1 l-1.9 29.3 M1233.4 474 l-4.9 27.2 M1213 470.7 l-0.2 17.6 M1179.9 484 l-0.6 18 M1237.5 420 l-3.9 23.4 M1224.1 462.9 l0.2 15.9 M1251.7 462.9 l0.3 21 M1166.9 436.4 l0.1 19.9 M1193.2 454.5 l3.6 27.6 M1229.6 458.9 l-2.1 16.9 M1188.8 460.5 l-4.1 28.2 M1248.1 491.8 l-5.7 28.1 M1243 494 l-8 27.1 M1176.4 443.3 l-3.2 16.1 M1238.1 441.3 l0 28.4 M1174.9 429.3 l0.6 12.5 M1181.4 477.3 l-1.3 10.1 M1160.4 487.1 l1.2 28.4 M1223.5 446.2 l-2.9 23.9 M1238.5 465.1 l-1.4 29.7 M1160.6 442.6 l-7.7 21.4 M1181.4 500 l0.7 23.9 M1208.2 432.4 l-2.4 12.8 M1244.7 429.2 l-0.2 21.2 M1193.9 450.3 l-4.2 23.4 M1155.5 465.8 l-1.7 20.6 M1178.6 424.8 l-5.2 16.4 M1168.9 423.8 l-1.4 15.5 M1244.5 457.3 l-6.6 17.9 M1163.1 499.6 l-4.1 20.8 M1157.3 470.6 l-2.2 27.5 M1237.2 483.1 l-2.7 11.2 M1175.5 422.4 l-2.6 9.7 M1204.4 420.1 l-7.9 21.2 M1198.2 458.9 l1.6 13.6 M1238.8 493.6 l-5.2 27.7 M1204.3 467.5 l-4.4 11.7 M1150.1 436.1 l0.3 26.5 M1238.7 468.9 l-2.8 14.4 M1232.3 436.8 l-0.9 20.1 M1148.4 470.9 l0.2 10.8 M1203.3 431 l-3 10.7 M1171.1 486.5 l-0.8 12.8 M1179.3 455.3 l-7.5 22.3 M1155.5 445.1 l-4.9 15.4 M1199.7 425.7 l1.5 24.7 M1211.7 471.7 l-2.9 16.3 M1243.2 429.3 l-3.6 13.4 M1185.5 499.7 l-0.8 17.5 M1171 446.7 l-1.5 15.9 M1166.9 482.6 l-1.9 16.6 M1229.9 470.7 l-0.7 29.1 M1239.3 428.3 l-4.8 15.4 M1216.4 489.2 l0.8 19.4 M1177.7 493.6 l2.4 29.6 M1195.5 472.1 l-0.7 10.5 M1241.1 426.6 l0.8 21.5 M1176.8 450.6 l-1.3 20 M1210 452.9 l-4.7 19.7 M1232.7 478.2 l-3.2 18.9 M1220.7 476 l-3.5 13 M1218.6 456.2 l-0.6 17.9 M1221 453.8 l-2.1 18.9 M1225.9 470.8 l1.8 16 M1233.6 441.7 l-2.5 20.5 M1206.1 462.1 l-6.7 19.9" stroke="#a8917a" stroke-width="0.7" opacity="0.5" fill="none"/>
<path d="M1214.6 453.3 l-8.1 23.1 M1180.8 477.8 l2.2 19.3 M1169.3 468.4 l-6.1 19.6 M1146.3 448.8 l-0.6 20.7 M1211.9 420 l-4.7 18.9 M1220 431.5 l-4.3 16.9 M1246.6 483.5 l-9.3 25.2 M1202.2 490.9 l-4.2 20.9 M1253.2 436.2 l-1.9 12.8 M1160.3 460.7 l-1.9 25 M1202.1 495.5 l-0.3 11.6 M1213.2 454.2 l-2.3 13.5 M1208.7 444.7 l-4.4 15 M1209.5 448.2 l-6.2 17.4 M1229.4 473 l1 10.9 M1208 497.6 l1 17.2 M1157.7 424.3 l-2.2 16.9 M1242.8 474.6 l-1.2 27.7 M1177 488.4 l-0.6 11.1 M1203.6 476.9 l-1.5 10.6 M1160.5 441 l0.9 19.8 M1212.5 461.4 l1.7 15.3 M1150.8 499.7 l-8.2 24.2 M1167 433.1 l-3.9 15.2 M1219.9 499.7 l-10.6 27.9 M1175.6 449.8 l-8.3 27.9 M1233.1 483.7 l0.2 15.6 M1151.2 494.5 l-5.1 16.5 M1161.5 434.8 l-6.5 20.8 M1150 459.2 l-1 10.5 M1237.2 437.6 l-3.8 26.5 M1157.4 497.7 l-7.4 24.2 M1220.1 419.2 l-1.8 29.9 M1179.5 488.1 l1.1 19.4 M1198.4 493.8 l-2.3 14.4 M1229 476.4 l-1.7 14.8 M1182.1 442.5 l-0.1 16.7 M1189.2 418.3 l-0.1 24.5 M1181.2 434.6 l1.8 20.2 M1251.8 490.6 l1.1 17.3 M1237.3 426.2 l-2.7 12 M1167.3 449.1 l0.3 14.6 M1238.7 476.8 l-4.4 26.1 M1220.4 451.4 l-2.3 11.7 M1184.8 473.8 l0 13.6 M1192.6 489.2 l-2.6 26.7 M1198.9 419.5 l-3.5 23.1 M1158.2 487.7 l1.8 26.7 M1187.1 455.8 l0.6 22.1 M1162.2 453 l-1.4 21 M1217.6 464.8 l-3.1 17.6 M1185 487.3 l-1.2 10.3 M1150.5 420.6 l1.4 15.9 M1245.4 492.8 l-1.7 25.1 M1163.8 438.5 l-6.9 24.3 M1252.8 444 l-7.3 28.4 M1218.4 454.7 l-2.5 19 M1170.6 496.4 l0.3 12.7 M1207.2 476.3 l-8.1 24.2 M1153.9 423.7 l-2.7 10 M1250.2 474.8 l-0.2 13.2 M1190.9 429.8 l2.8 28.8 M1163.7 477.4 l2.1 24.1 M1178.1 486.9 l-0.7 27.5 M1151.2 427.3 l1.8 22.4 M1238.7 479.6 l0.9 26 M1226.1 457 l-4.5 17.8 M1213.5 478.3 l1.4 29.9 M1146.6 467.9 l0 16.1 M1204 445 l-4.8 18.6 M1220.3 448.7 l0.6 11.1 M1244.7 424 l-0.1 18 M1244.9 447.5 l-2.4 15.1 M1252.2 464.8 l-4.1 18.8 M1148.8 488.8 l-0.5 22.1 M1189.9 444.2 l-3.3 19.9 M1204.2 463.2 l-6.3 22.2 M1166.5 440 l1.6 23.8 M1244.2 489.5 l1.5 12.4 M1253.5 489.9 l-5 26.3 M1233.8 433.6 l0.6 13.6 M1197 464.3 l-1.9 15.8 M1153.7 487.8 l2.7 25.2 M1205.7 421.5 l-1.7 16.3 M1164.4 435.7 l0.4 25.4 M1157.7 470.6 l-0.3 29.3 M1201 418.5 l-0 24.3 M1178.3 438.6 l-1.5 28.5 M1181.6 426.3 l0.7 19.5 M1177.6 430.6 l-4.4 23.7 M1157.7 475.6 l-2.5 18.5 M1252.7 489.9 l-4.8 22.7 M1222.1 421.9 l-3.3 19.4 M1175.7 465.3 l-0 15.8 M1206.9 471.4 l1.6 22.8 M1198.1 474.3 l3.4 27.5 M1181.9 443.2 l-4.7 22.3 M1214.9 421.9 l-6.2 18 M1151.3 424.6 l-7 20 M1149.3 491.5 l-1.9 26.6 M1222.1 490.2 l-2.5 15 M1243.2 454.9 l-0.5 26 M1182.7 481.2 l-3.6 16.5 M1214.9 430.7 l-4.6 13.8 M1180.2 420.7 l1.6 22.6 M1157.6 460.6 l-9.4 27.3 M1252.8 500 l-2.7 25.9 M1240.5 426.3 l-2.9 11.2 M1158.5 486.7 l0.7 18.7 M1146.8 437.3 l1.8 21.8 M1163.6 465.7 l-6.8 18.3 M1165.2 431.4 l-1.9 25.1 M1225.5 455.6 l-3.7 17.1 M1208.1 482.7 l-8.8 23.8 M1175.2 477.4 l-3.3 18.5 M1194.8 435.7 l-1.6 11.1 M1182.2 481.3 l-1.2 22.2 M1234.2 433.1 l-0.8 19.8 M1172.2 465 l-2.6 21.9 M1178.3 441.6 l-0.7 23.4 M1234 466.1 l2.6 26.7 M1164.2 459.7 l-2.5 10.7 M1217.2 497 l-5.3 20.6 M1240.4 487.7 l-1.8 28.4 M1179.4 441.7 l-8.1 28.2 M1161.4 475.7 l1.5 15.8 M1175.9 426.8 l-3.5 17.8 M1218.9 467.4 l0.4 22.4 M1152.9 474.7 l-6.8 17.8 M1205.6 446 l-2.2 16.1 M1233.9 493 l0.7 24.9 M1186.2 460 l-2.3 28.5 M1154.1 470.3 l0.3 11.4 M1217.7 461.1 l-7.4 28.8 M1184 469.3 l-2.9 27.9" stroke="#231a16" stroke-width="0.9" opacity="0.5" fill="none"/>
</g>
<path d="M1248.8 430 C1264.8 433.5 1247.6 443.1 1245.9 449 C1244.2 454.9 1241.2 460.5 1238.5 465.1 C1235.8 469.8 1232.6 473.5 1229.7 476.9 C1226.8 480.3 1223.6 483.5 1220.9 485.7 C1218.2 487.9 1217.8 488.6 1213.6 490.1 C1209.4 491.6 1201.9 493.3 1196 494.5 C1190.1 495.7 1183.8 496.4 1178.4 497.4 C1173 498.4 1168.4 499.9 1163.7 500.3 C1159 500.7 1152.3 512 1150 500 C1147.7 487.9 1133.5 439.7 1150 428 C1166.5 416.3 1232.8 426.5 1248.8 430 Z" fill="url(#furg)"/>
<path d="M1213.6 490.1 C1220.7 488.6 1225.8 486.8 1232.7 485.7 C1239.6 484.6 1247.4 483.8 1254.7 483.5 C1262 483.2 1269.4 483.1 1276.7 484.2 C1284 485.3 1292.6 488.4 1298.7 490.1 C1304.8 491.8 1309.4 492.8 1313.3 494.5 C1317.2 496.2 1322.1 497.1 1322.1 500.3 C1322.1 503.5 1317.2 511.1 1313.3 513.5 C1309.4 516 1301.9 514 1298.7 515 C1295.5 516 1299.2 518.7 1294.3 519.4 C1289.4 520.1 1276.9 519.1 1269.3 519.4 C1261.7 519.6 1256.1 521.4 1248.8 520.9 C1241.5 520.4 1232.9 517.7 1225.3 516.5 C1217.7 515.3 1210.6 515.5 1203.3 513.5 C1196 511.5 1187.4 506.6 1181.3 504.7 C1175.2 502.8 1171.1 502.6 1166.7 501.8 C1162.3 501 1151.1 501.1 1155 500 C1158.9 498.9 1180.2 496.6 1190 495 C1199.8 493.4 1206.5 491.7 1213.6 490.1 Z" fill="url(#pawS)"/>
<path d="M1213.6 490.1 C1220.7 488.6 1225.8 486.8 1232.7 485.7 C1239.6 484.6 1247.4 483.8 1254.7 483.5 C1262 483.2 1269.4 483.1 1276.7 484.2 C1284 485.3 1292.6 488.4 1298.7 490.1 C1304.8 491.8 1309.4 492.8 1313.3 494.5 C1317.2 496.2 1322.1 497.1 1322.1 500.3 C1322.1 503.5 1317.2 511.1 1313.3 513.5 C1309.4 516 1301.9 514 1298.7 515 C1295.5 516 1299.2 518.7 1294.3 519.4 C1289.4 520.1 1276.9 519.1 1269.3 519.4 C1261.7 519.6 1256.1 521.4 1248.8 520.9 C1241.5 520.4 1232.9 517.7 1225.3 516.5 C1217.7 515.3 1210.6 515.5 1203.3 513.5 C1196 511.5 1187.4 506.6 1181.3 504.7 C1175.2 502.8 1171.1 502.6 1166.7 501.8 C1162.3 501 1151.1 501.1 1155 500 C1158.9 498.9 1180.2 496.6 1190 495 C1199.8 493.4 1206.5 491.7 1213.6 490.1 Z" fill="url(#pawV)"/>
<clipPath id="pc5"><path d="M1213.6 490.1 C1220.7 488.6 1225.8 486.8 1232.7 485.7 C1239.6 484.6 1247.4 483.8 1254.7 483.5 C1262 483.2 1269.4 483.1 1276.7 484.2 C1284 485.3 1292.6 488.4 1298.7 490.1 C1304.8 491.8 1309.4 492.8 1313.3 494.5 C1317.2 496.2 1322.1 497.1 1322.1 500.3 C1322.1 503.5 1317.2 511.1 1313.3 513.5 C1309.4 516 1301.9 514 1298.7 515 C1295.5 516 1299.2 518.7 1294.3 519.4 C1289.4 520.1 1276.9 519.1 1269.3 519.4 C1261.7 519.6 1256.1 521.4 1248.8 520.9 C1241.5 520.4 1232.9 517.7 1225.3 516.5 C1217.7 515.3 1210.6 515.5 1203.3 513.5 C1196 511.5 1187.4 506.6 1181.3 504.7 C1175.2 502.8 1171.1 502.6 1166.7 501.8 C1162.3 501 1151.1 501.1 1155 500 C1158.9 498.9 1180.2 496.6 1190 495 C1199.8 493.4 1206.5 491.7 1213.6 490.1 Z"/></clipPath>
<g clip-path="url(#pc5)">
<path d="M1180.8 501.1 l7.6 1.8 M1218.5 492.3 l4.4 0.3 M1285.5 493.8 l4.5 -0.2 M1319.5 480.3 l6.7 1.7 M1284.2 497 l9.1 0.1 M1200.5 508.3 l6.1 -0.1 M1191.3 506.9 l5.5 1.4 M1250.7 493.2 l4.7 1.5 M1278.6 485.5 l5.8 1.8 M1316.5 501.4 l9.9 0.9 M1306.4 481 l7.1 -0.3 M1300.3 498.8 l6 1.5 M1284 497.6 l7 1.3 M1233.8 496.7 l6.7 1 M1292.6 484.6 l5.8 0.3 M1228.8 501.3 l4.8 1.2 M1273.7 490.3 l8.7 2.3 M1287.8 498.2 l4.9 1.2 M1320 499.6 l5.1 1 M1232.3 488.3 l4.1 0.5 M1172.5 504.9 l8.1 -0.3 M1289.7 504.7 l7.3 2.5 M1208.3 500.2 l5.1 0.4 M1254 496.5 l6.5 0.6 M1204.7 492 l7 2.3 M1268.1 493.8 l9.8 2.3 M1242.2 507.1 l9.4 2.5 M1194.5 504.4 l8.6 0.5 M1219.6 508.8 l7.8 2.2 M1157.6 485.8 l4.6 1.2 M1169.1 501.9 l8.2 0.2 M1171.2 487.4 l9.7 0.1 M1275.1 500 l4.4 0.2 M1247.3 486.1 l9.4 2.8 M1310.5 493.8 l4.2 0.5 M1242 494 l8.8 0.4 M1301.2 501.6 l6.4 0.8 M1243.8 488 l9.8 2.9 M1174.1 485 l5.4 1.8 M1243 485.6 l8.1 0.7 M1288.5 501.7 l6.5 2 M1254.7 509.1 l6.6 1.3 M1316.8 494.9 l7.9 2 M1291.1 485.2 l9.4 1.3 M1155.3 486.9 l5.1 1.7 M1212.1 500.2 l4.5 0 M1286.4 507.2 l5.6 0.9 M1299.2 507.3 l6.5 1.8 M1195.2 479.6 l5.5 0.9 M1247.1 487.2 l4.1 0.8 M1238.2 497.3 l4.4 1 M1236 498.9 l9.2 -0 M1204.9 483.4 l6.8 1.5 M1288.6 498.6 l7.9 0.7 M1235.9 488.5 l6.1 -0.2 M1178.6 489.1 l8.4 0.1 M1176.8 485 l7.7 -0.4 M1214 506.8 l7 2.3 M1274.7 481.8 l8.7 2.5 M1182.4 498.2 l8.6 1.2 M1212.3 483.6 l6.1 0.1 M1168.5 501 l5.5 -0.1 M1191.7 507.5 l6.4 1 M1246.2 492.5 l4 -0.1 M1290.9 499.8 l5.6 1.4 M1289.8 502.5 l9.8 2.9 M1306.8 505 l4.7 0.2 M1195.2 499.7 l4.7 1.2 M1158 505.2 l8.8 1.2 M1246.2 504.9 l4 0.4 M1211.8 493.8 l4.1 0.3 M1263.6 480.5 l4.6 0.1 M1155.6 481.3 l7.1 1.8 M1155.3 496.7 l8.7 0.7 M1258 480.8 l5.8 0.8 M1317.5 495.2 l7.1 2 M1254.7 503 l5.5 1 M1256.2 507.6 l5.1 1.2 M1238.4 501.8 l8.9 0 M1193.1 498.8 l5.2 0.7 M1250.4 483 l9.7 -0.1 M1253.9 499.7 l4.1 0.3 M1233.9 502.2 l5 0.7 M1247.1 494.2 l4.4 1.1 M1311.7 496.2 l6.1 1.9 M1163.1 486.2 l8.8 0.3 M1310.2 487.7 l9.8 2.4 M1223.9 497.5 l8.1 -0 M1239.8 483.3 l8.3 1.9 M1284 507.3 l8.8 0.5 M1156.1 494.8 l7.9 -0.3 M1170.4 494.6 l4.5 0.7 M1174 489.2 l7.7 0.1 M1297.6 484.9 l9.2 2.4 M1209 506.6 l9.5 0.2 M1300.6 506.8 l4.7 -0.2 M1235.8 489 l5.4 0.7 M1209.9 507 l8.1 -0.3 M1201.7 504.5 l9.8 2.7 M1169.9 497.4 l7.6 0.1 M1279.9 500.4 l6.4 0.8 M1196.7 498.8 l7.1 1.1 M1264.7 508 l7.7 0.3 M1287 501.6 l4.1 -0.2 M1314.6 499.8 l4.2 0.3 M1314.5 490 l5.9 0.7 M1210.4 511.2 l8.4 0.6 M1222.4 482.9 l9.9 1.3 M1304.1 497.1 l4.3 0.1 M1234.4 504.7 l7.6 1.6 M1181.8 490.7 l9.3 1.3 M1248.8 481.6 l6.6 0.4 M1284.3 503.6 l9.1 2.4 M1167.1 500.6 l8.8 2.1 M1195.9 506.2 l9.6 1.6 M1185.4 482.1 l9.7 2.6 M1262.2 508.7 l5.7 1.6 M1184.7 484.7 l4.2 0.8 M1281.2 503.5 l8.3 2.2 M1223.9 501.7 l8.7 3 M1156.9 509.1 l8.4 0.2 M1249.9 510.2 l9.6 1.3 M1296.5 491.8 l6.1 -0 M1165 503.7 l5.5 0.6 M1280 507.7 l9.4 2.6 M1289.1 481.3 l6.4 2.1 M1207.5 509.1 l7.4 0.1 M1210.6 481.1 l5.3 0 M1275.6 496.4 l5.9 2.1 M1234.9 497.4 l4.4 1.5 M1289.9 507.3 l7.7 2.5 M1207.7 494.5 l5 1.1 M1174 484.6 l5.6 0.4 M1261.4 490.7 l8.6 0 M1296.2 509.4 l9.2 3.2 M1319.2 502.4 l7.1 2.4 M1241.1 487.7 l5.1 0 M1311.6 501 l4.7 1.1 M1220.2 506.4 l8.7 2 M1206.7 509.2 l6.1 1.8 M1255.1 510.1 l4.2 0.7 M1240.8 498.9 l6.9 0.9 M1160.4 484.6 l8.7 1.4 M1163.9 491.6 l8.1 0.1 M1256.6 498.3 l4.9 1.1 M1318.8 496.1 l5.4 1 M1228.9 495.5 l8.2 0 M1179.7 491 l5.1 -0.2 M1273 493.3 l4.9 0.6 M1177.2 505.3 l9.7 1.3 M1232.8 508.8 l6.4 2.1 M1288.8 482.3 l7.2 0.8 M1292.7 502.3 l6.7 0.3 M1266 500.9 l6.1 -0.1 M1227.8 503.7 l5 -0.1 M1314.3 504.5 l8.1 -0 M1248.3 501.7 l8.8 0.1 M1277.9 502.2 l4 0.4 M1238.2 499 l7.5 1.5 M1218.7 498 l5.2 1.9 M1268.6 508.7 l7.5 1.8 M1280.4 507.2 l5.4 0.5 M1223 502.2 l8.8 0.1 M1315.1 506.8 l7.6 0.6 M1230.7 480.6 l8.3 1.9 M1263.6 486.8 l6.2 1 M1319.9 506.9 l6 1.1" stroke="#4a3028" stroke-width="0.7" opacity="0.35" fill="none"/>
<path d="M1307 488.9 l6.7 0 M1289.3 507.8 l8.9 0 M1193.3 505.1 l8.8 1.4 M1284.1 505.2 l5.8 2 M1214.6 483.4 l8.9 3.1 M1265.1 502.9 l6.3 0.1 M1174.5 508.3 l9.7 -0.3 M1225.5 487.5 l4.4 -0.1 M1256.6 490.9 l9.6 0.5 M1246.2 507.5 l8.6 1.2 M1242.6 495.6 l9.4 0.9 M1188.2 482.8 l4.4 0.6 M1235.2 507.3 l4.9 0.1 M1195.1 493 l4.8 0.2 M1176.6 504.5 l5.2 1.2 M1296 485 l6.1 1.5 M1221.5 489 l4.9 1.4 M1297.6 511 l6.8 2.3 M1196.7 486.9 l7.1 1.8 M1278.7 491 l9.9 3 M1257 493.1 l8.7 -0.2 M1263.5 484.7 l6.4 1.1 M1162.4 486.7 l9.5 0.2 M1288.1 494.3 l7 1.4 M1281.9 505.6 l8.5 1.7 M1187 485.3 l7.2 2.1 M1231.8 497.8 l6.9 0.8 M1215.7 505.6 l8.8 1.3 M1202.9 483.3 l8.2 -0.1 M1205.6 488.1 l7.3 0.3 M1284.2 492.9 l4.2 0.3 M1189.3 508 l6 0.9 M1198.3 488.4 l9.6 -0.4 M1315.2 487.2 l4.6 1.4 M1270.2 484.9 l6 0.4 M1180.2 484.7 l4.6 1 M1246.9 505.5 l6.4 1.1 M1294.7 497 l4.9 0.9 M1270.1 503.2 l5.2 0.1 M1229.3 502.9 l6.3 0.8 M1169.4 493.5 l5.1 1 M1164.6 496.3 l7 1.6 M1198.4 486.7 l4.9 1.1 M1278.5 496.3 l8.2 1.3 M1268.1 486.9 l4.7 0.1 M1306.6 499.5 l9.1 3 M1215.9 509.9 l9.5 2.1 M1166 502.8 l4.3 -0.2 M1272.6 508.9 l6.6 0.2 M1257.3 480.1 l6.8 1.6 M1198.5 491.4 l6.9 1.2 M1196.7 485.2 l9.9 1 M1271.1 510.8 l6.8 1 M1290.5 497.4 l6.9 2.4 M1185 488.3 l8.9 0.8 M1300.2 501.4 l5 0.4 M1298.1 486.4 l7.1 2.1 M1234 496.3 l5.2 1.8 M1182.9 506.6 l9.5 1.1 M1278.3 493.7 l8.1 1.2 M1155 510.1 l9.7 1.8 M1206.5 508.4 l4.3 1 M1164.6 492.5 l8.3 2 M1216.8 485.8 l8.4 1.6 M1226 480.5 l8.6 0.6 M1184.4 482.1 l4.9 0.5 M1179.6 501.8 l5.9 1.8 M1197.7 485.3 l6.9 2 M1309.4 488.1 l8.8 -0.3 M1195.2 505.4 l9.7 1.8 M1280.4 495.9 l6.9 1.9 M1281.5 504.8 l5.3 -0 M1172.5 493.5 l9.7 1.5 M1203.3 497 l8.1 -0.4 M1228.9 484.1 l6.8 0.9 M1158.7 491.3 l9.7 1 M1237.5 488.7 l4.7 0.4 M1184.6 492.7 l4.6 0.5 M1245 494.9 l6.6 0.4 M1265 501.4 l8.1 0.7 M1253.9 483.2 l9.5 2 M1244.1 486.5 l9.8 -0.1 M1297.6 485.8 l4.7 0.9 M1314.6 510.7 l7.9 0.9 M1164.1 496.1 l6 0.5 M1291.3 481.4 l4.3 0.3 M1300.7 504.4 l8.6 1.6 M1169.1 503 l8.7 1.1 M1225.9 494.9 l7.8 1.1 M1242.8 501.3 l8.9 0.3 M1201.4 505 l5.8 1.7 M1207.5 506.9 l8.8 2.2 M1181.8 491.4 l5.5 1.2 M1169.8 489.5 l7.7 1.5 M1276.2 502.1 l5.7 0.1 M1307.4 484 l8 2 M1180 503.8 l5.2 0.4 M1169.3 481.2 l5.4 1.9 M1163.3 491.8 l8.8 0.4 M1299 480.3 l7.5 1.8 M1314.6 479.8 l8.5 2.4 M1172.4 510.9 l5 0.1 M1163 481.4 l6.1 1.3 M1293 481.4 l5.3 0.9 M1238.4 495.2 l8.7 2.4 M1278.3 488.9 l4.1 0.6 M1277 502.6 l5.5 0.1 M1191 503.4 l4.1 -0.1 M1205.3 496.3 l7.6 0.3 M1224.8 499.4 l9.1 -0.3 M1176.5 499.8 l9.5 0.1 M1302.4 506.3 l8.5 -0.4 M1219.2 509.6 l8.9 0.7 M1261 502.1 l9.3 2.3 M1270.8 484.3 l4.8 0 M1254.5 507.2 l6.5 1.6 M1166.9 484.9 l7 0.1" stroke="#e0b8a8" stroke-width="0.6" opacity="0.35" fill="none"/>
</g>
</g>
<ellipse cx="1253.3" cy="505" rx="94" ry="71.3" fill="none" stroke="#4b1a8e" stroke-width="4.0"/>
<path d="M1247.3 542.7 V564.9" stroke="#4b1a8c" stroke-width="2.4"/>
<path d="M1247.3 526.7 L1253.6 544.7 L1241 544.7 Z" fill="#4b1a8c"/>
<ellipse cx="1020.4" cy="677" rx="94.9" ry="72.2" fill="url(#bg)"/>
<g clip-path="url(#cp6)">
<path d="M1044.4 602 C1031.5 606 1046.2 617.8 1047.4 624.2 C1048.7 630.6 1050.9 636.3 1051.9 640.5 C1052.9 644.7 1053.5 646.7 1053.3 649.4 C1053 652.1 1044.5 654.3 1050.4 656.8 C1056.3 659.3 1081 664.5 1088.9 664.2 C1096.8 664 1095.1 657.8 1097.8 655.3 C1100.5 652.8 1100.7 651.1 1105.2 649.4 C1109.7 647.7 1121.7 653.2 1125 645 C1128.3 636.8 1138.4 607.2 1125 600 C1111.6 592.8 1057.3 598 1044.4 602 Z" fill="#45372f"/>
<clipPath id="fc6"><path d="M1044.4 602 C1031.5 606 1046.2 617.8 1047.4 624.2 C1048.7 630.6 1050.9 636.3 1051.9 640.5 C1052.9 644.7 1053.5 646.7 1053.3 649.4 C1053 652.1 1044.5 654.3 1050.4 656.8 C1056.3 659.3 1081 664.5 1088.9 664.2 C1096.8 664 1095.1 657.8 1097.8 655.3 C1100.5 652.8 1100.7 651.1 1105.2 649.4 C1109.7 647.7 1121.7 653.2 1125 645 C1128.3 636.8 1138.4 607.2 1125 600 C1111.6 592.8 1057.3 598 1044.4 602 Z"/></clipPath>
<g clip-path="url(#fc6)">
<path d="M1064 626.2 l0.5 11.6 M1058.5 652.9 l-2.2 24.2 M1126.6 597 l2.9 11.4 M1105.7 650.1 l3.8 22.5 M1121.8 657.7 l3.1 16.7 M1065.5 612.3 l2.5 13.4 M1125 597.6 l3.5 22.2 M1086.4 639.2 l-1.1 19.8 M1074.6 651.8 l1.3 17.6 M1102.1 607.4 l5.3 16.4 M1092.7 594.2 l-0.4 28.2 M1124.7 649.6 l1.6 26.7 M1046.8 631.1 l-0.4 17.8 M1106.8 639.7 l5.6 21.1 M1064.6 654.3 l4.3 23 M1090.6 615.2 l7 20.4 M1041.2 599.1 l6 19.9 M1064 654.5 l8.2 24.9 M1080.7 646.8 l2.8 26.8 M1086.8 637 l1.8 23.8 M1093.2 645.3 l4.5 19.5 M1073.4 663.3 l0.3 28.3 M1044.5 603.9 l2.6 26.4 M1071.1 660.6 l0.9 13.9 M1094.9 616.2 l-1.3 15.4 M1117.1 617.6 l2.2 23 M1078.5 606.6 l-0.6 18.6 M1070.3 627.9 l8.1 24.2 M1055.1 633.1 l-1.4 27.1 M1096.9 600.2 l4.4 24.9 M1080.4 662.3 l2.5 15.9 M1114.9 655.9 l5.2 25.6 M1127.3 660.4 l2.3 28.9 M1127.8 592.1 l8.1 27.8 M1121 609.1 l3.1 16.2 M1065.2 598.6 l2.8 24 M1069.9 662.7 l-1.2 11.3 M1055.2 637.6 l-2.2 25.3 M1081 614.2 l4 26.6 M1074.8 602.4 l0.1 13.7 M1091.6 664.2 l5.2 19.8 M1112.4 629.7 l9.3 25.5 M1100 660.1 l5.6 22.5 M1060.2 630 l4.2 28.4 M1096.9 653.5 l4.2 19.3 M1100.5 629.8 l3.1 25.8 M1079.5 655.9 l3.9 29.6 M1106 608.9 l-2.2 27.7 M1045.1 644.8 l-3.5 28.7 M1060 649.2 l-0.3 15.9 M1053.9 604.9 l2.4 25.6 M1125.1 601.5 l1.9 15.1 M1123.3 650.6 l3 27.4 M1062.4 601.2 l0.9 10.9 M1059.1 592.9 l5 13.4 M1103.3 619.8 l1.2 16.6 M1115.3 648.4 l-2.4 27.2 M1095.2 654.2 l0.5 10.2 M1076.7 634.7 l8.8 24.7 M1050.5 615.1 l4.7 13.2 M1073.6 610.8 l5.1 25.1 M1061.9 647 l3.8 11.6 M1124.6 591.2 l1.3 27.7 M1081.8 653.9 l-1.6 19.4 M1120.7 595 l1.4 14.8 M1113.7 604.7 l1.8 19.8 M1046.7 594 l1.9 14.1 M1127.2 658.3 l-1.5 24.5 M1067.9 603.3 l1.2 17.4 M1068.8 609.8 l3.4 21.9 M1064.2 616.5 l-0 10.4 M1073.5 660.7 l-0.4 11.4 M1080.3 629.2 l4 10.8 M1066.1 639.1 l-1.6 16.1 M1095 626.9 l7 23.6 M1106.8 634.1 l-1.6 13.4 M1118.2 606.4 l1.1 18.1 M1054.9 656.1 l-1.1 18.2 M1124.8 634.7 l2.1 16.4 M1101.2 644 l8.9 27.9 M1044.3 629.9 l-1.1 15.5 M1060.6 649.3 l5.5 19.7 M1114.1 617.9 l-1.2 26.4 M1081.8 636.5 l4.2 22.8 M1044.6 636.4 l5.6 27.4 M1111.1 614.2 l7.8 23.6 M1080.9 633.7 l1.6 19.1 M1053.4 601.4 l1.1 14.5 M1039.9 628.6 l3.6 10.1 M1063.4 650.7 l0.2 16.4 M1083.7 657.4 l2.6 13.5 M1083.3 646.1 l-2.6 21.6 M1071.5 663.1 l7.8 25.2 M1084.7 612.1 l4.3 19.9" stroke="#a8917a" stroke-width="0.7" opacity="0.5" fill="none"/>
<path d="M1040.4 611.1 l0.3 12.4 M1042.6 636.4 l3.4 12.2 M1102.9 658.5 l-0.1 13.4 M1074.4 655 l5 24.4 M1084.7 636.3 l1.2 15.8 M1052.4 623.8 l0.7 11.7 M1094.9 592.2 l5.4 26.6 M1064.6 622.6 l5.8 15.5 M1127.3 652.6 l2.1 11.7 M1120.4 594.8 l0.8 12.6 M1046.9 641.6 l2.3 25 M1103.7 655.5 l1.9 11.3 M1125.8 619.1 l4.5 19.9 M1092.9 654.4 l7.4 21.6 M1043.9 636.1 l3.4 17.1 M1109.1 663.8 l6.1 18.3 M1074.3 651.7 l0.6 11.2 M1092 597.4 l4.7 22.7 M1111.7 663.1 l8.6 22.9 M1076.7 615.1 l3.4 18.5 M1087.9 607.5 l3.9 11.3 M1121.1 627.6 l-0.6 18.4 M1118 659.1 l-0.9 12.8 M1118.3 636.3 l-1.2 10.4 M1072.6 615.4 l5.4 14.9 M1088.8 593.1 l7.7 27.5 M1126.7 646 l0.9 22.1 M1077.6 602.9 l-1 13.2 M1114.8 653 l4.3 16.8 M1079.8 622.9 l6.4 21.4 M1128.9 600.7 l-0.8 11.9 M1066.3 595.5 l-1.5 12.9 M1097 611.1 l-1.2 10.3 M1039.5 607.7 l1.4 18.9 M1123.9 627.2 l1.1 22.3 M1114.8 638.4 l1.4 13.3 M1065 606.3 l5.6 22.4 M1052 663.9 l0.1 23.7 M1111.4 613.1 l7.7 22.4 M1115 626.9 l-2.5 20.2 M1085 615.3 l6.6 26.3 M1104.3 631.9 l4.4 13.9 M1126.2 618.3 l0.9 10 M1107.1 637.2 l-0.2 27.7 M1123 645.1 l6.2 17.6 M1096.4 618.2 l8 23.6 M1115.6 611.1 l2.1 19.9 M1058.8 643.4 l1.1 23.6 M1115.3 630.3 l-0.2 23.1 M1051.5 600.1 l3.6 24.9 M1054.4 633.6 l2.4 20 M1120.2 637.1 l-3 27.7 M1107 653.4 l0.5 15.7 M1071.4 630.5 l1.6 26.7 M1120.1 644.5 l-3.3 26.9 M1121.5 615.3 l-1.8 22 M1059.4 662.8 l-2.3 22.1 M1050.8 614.1 l-2.1 23.3 M1101.8 640 l-1.2 16.4 M1122.2 592.6 l4.6 26.2 M1114.3 649.1 l7.2 20.5 M1077 658.8 l3.3 11.3 M1064.2 648.2 l7.8 21 M1044.3 608.8 l-1.3 17 M1128.4 656.9 l2.8 9.9 M1059.4 607.9 l1 13.9 M1114.2 598.9 l3.3 12 M1111.1 612.3 l5.9 19.4 M1125.2 632.2 l-1 17.1 M1084.1 600.5 l2.5 14 M1103.6 641.1 l-0.7 22.4 M1043.8 595.9 l5 13.4 M1065 645.2 l-1.9 18.1 M1078.9 641.6 l-1.7 24.9 M1112.4 626.5 l1.1 23.9 M1119.9 634.8 l4.3 11.8 M1123.2 623.7 l3.9 18.9 M1114.2 602.8 l8.1 26 M1042.7 652.6 l2.3 13 M1109 597.4 l4.5 12.1 M1110.1 656.4 l-0.3 21.9 M1078 648.9 l0.4 19.1 M1128.7 621.9 l3.7 23.7 M1051 631.3 l-1.7 13.4 M1114.9 611.4 l-2.8 28.8 M1105.5 656.6 l-0.5 27.7 M1053.8 653.2 l7.3 23.7 M1061.6 627.5 l-2.6 21.9 M1045.5 629.4 l1.1 12 M1049.2 632.9 l2.4 26.8" stroke="#231a16" stroke-width="0.9" opacity="0.5" fill="none"/>
</g>
<path d="M1044.4 602 C1031.5 606 1046.2 617.8 1047.4 624.2 C1048.7 630.6 1050.9 636.3 1051.9 640.5 C1052.9 644.7 1053.5 646.7 1053.3 649.4 C1053 652.1 1044.5 654.3 1050.4 656.8 C1056.3 659.3 1081 664.5 1088.9 664.2 C1096.8 664 1095.1 657.8 1097.8 655.3 C1100.5 652.8 1100.7 651.1 1105.2 649.4 C1109.7 647.7 1121.7 653.2 1125 645 C1128.3 636.8 1138.4 607.2 1125 600 C1111.6 592.8 1057.3 598 1044.4 602 Z" fill="url(#furg)"/>
<path d="M1050.4 656.8 C1042.7 656.8 1033.1 658 1023.7 658.3 C1014.3 658.5 1001.5 658.1 994.1 658.3 C986.7 658.5 984.2 658.5 979.3 659.7 C974.3 660.9 969.3 663.2 964.4 665.7 C959.5 668.2 954 671.4 949.6 674.6 C945.2 677.8 938.5 681 937.8 684.9 C937.1 688.8 942.2 695.8 945.2 698.3 C948.2 700.8 952.4 700.5 955.6 699.7 C958.8 699 960.5 694.8 964.4 693.8 C968.3 692.8 975.1 694.3 979.3 693.8 C983.5 693.3 985.9 692.1 989.6 690.9 C993.3 689.7 996.1 686.9 1001.5 686.4 C1006.9 685.9 1016 688.4 1022.2 687.9 C1028.4 687.4 1032.1 685.1 1038.5 683.4 C1044.9 681.7 1054.5 679.2 1060.7 677.5 C1066.9 675.8 1070.9 675.3 1075.6 673.1 C1080.3 670.9 1089.8 666.7 1088.9 664.2 C1088 661.7 1076.4 659.2 1070 658 C1063.6 656.8 1058.1 656.8 1050.4 656.8 Z" fill="url(#pawL)"/>
<path d="M1050.4 656.8 C1042.7 656.8 1033.1 658 1023.7 658.3 C1014.3 658.5 1001.5 658.1 994.1 658.3 C986.7 658.5 984.2 658.5 979.3 659.7 C974.3 660.9 969.3 663.2 964.4 665.7 C959.5 668.2 954 671.4 949.6 674.6 C945.2 677.8 938.5 681 937.8 684.9 C937.1 688.8 942.2 695.8 945.2 698.3 C948.2 700.8 952.4 700.5 955.6 699.7 C958.8 699 960.5 694.8 964.4 693.8 C968.3 692.8 975.1 694.3 979.3 693.8 C983.5 693.3 985.9 692.1 989.6 690.9 C993.3 689.7 996.1 686.9 1001.5 686.4 C1006.9 685.9 1016 688.4 1022.2 687.9 C1028.4 687.4 1032.1 685.1 1038.5 683.4 C1044.9 681.7 1054.5 679.2 1060.7 677.5 C1066.9 675.8 1070.9 675.3 1075.6 673.1 C1080.3 670.9 1089.8 666.7 1088.9 664.2 C1088 661.7 1076.4 659.2 1070 658 C1063.6 656.8 1058.1 656.8 1050.4 656.8 Z" fill="url(#pawV)"/>
<clipPath id="pc6"><path d="M1050.4 656.8 C1042.7 656.8 1033.1 658 1023.7 658.3 C1014.3 658.5 1001.5 658.1 994.1 658.3 C986.7 658.5 984.2 658.5 979.3 659.7 C974.3 660.9 969.3 663.2 964.4 665.7 C959.5 668.2 954 671.4 949.6 674.6 C945.2 677.8 938.5 681 937.8 684.9 C937.1 688.8 942.2 695.8 945.2 698.3 C948.2 700.8 952.4 700.5 955.6 699.7 C958.8 699 960.5 694.8 964.4 693.8 C968.3 692.8 975.1 694.3 979.3 693.8 C983.5 693.3 985.9 692.1 989.6 690.9 C993.3 689.7 996.1 686.9 1001.5 686.4 C1006.9 685.9 1016 688.4 1022.2 687.9 C1028.4 687.4 1032.1 685.1 1038.5 683.4 C1044.9 681.7 1054.5 679.2 1060.7 677.5 C1066.9 675.8 1070.9 675.3 1075.6 673.1 C1080.3 670.9 1089.8 666.7 1088.9 664.2 C1088 661.7 1076.4 659.2 1070 658 C1063.6 656.8 1058.1 656.8 1050.4 656.8 Z"/></clipPath>
<g clip-path="url(#pc6)">
<path d="M1012.8 683.8 l-4.5 0.5 M1036 659.6 l-5.8 1.6 M940.8 680.2 l-6.1 1.1 M1078.6 664.3 l-6.6 2.2 M1037.1 675.2 l-7.9 1.1 M1002.7 687.1 l-5.6 0.3 M961.7 675.1 l-7.4 -0.2 M1071.3 662.6 l-8 0.9 M1084.6 675.7 l-5.5 1 M953.5 654.6 l-6.7 1.3 M945.6 675.1 l-7.5 1 M994.9 664.2 l-4.9 1.4 M943.5 685.4 l-9.7 2 M1045.7 654.7 l-5.5 0.8 M1060 672.2 l-9.9 0.8 M991.2 677.6 l-6.6 2.1 M1071.9 688.6 l-8.3 1 M1079.8 665.8 l-9.6 0.6 M1078.4 676.6 l-4.9 0.7 M959.5 659.9 l-5.7 0.7 M1081.5 660 l-5.9 -0.2 M947.2 675.9 l-9.2 1 M1071 672 l-8.1 1.8 M1001.2 680.9 l-5.5 1.2 M945.5 654.6 l-7.9 0.3 M1065.8 688.4 l-4.5 -0 M967.2 663.6 l-6.9 2 M1078.7 664.7 l-10 1.3 M978.7 673.9 l-6.5 1.4 M1028.6 684 l-7.4 1.6 M1005.1 671.2 l-8 1.8 M1048.2 660.8 l-8.4 -0.1 M1015.7 663.2 l-8.2 2.4 M956.4 652.9 l-6.3 1.9 M1074.3 682 l-8.5 2.2 M1011.9 666.8 l-5.5 1.6 M1041.4 675.4 l-5.6 0.8 M1046 656.3 l-7 1.7 M1039.8 683 l-7.6 0.8 M1059 667.9 l-6.8 2 M950.1 674.7 l-9.1 2.6 M1078.4 684.8 l-6.2 2 M1048.3 688 l-6.6 1.5 M997.5 658.6 l-9.8 3.3 M1042.2 674.1 l-5.4 0.8 M992.4 666.9 l-8.5 1.9 M995.3 671 l-7.8 1.4 M1033.6 676.5 l-8.1 2.5 M1005.2 673.1 l-4.3 0.2 M1009.5 685.2 l-8 1.2 M1037.5 664 l-8 1.9 M971.2 673.1 l-6.7 1.7 M1088 680 l-5.9 0.9 M1015 664.7 l-4.6 0.3 M1084.4 660.1 l-5.7 0 M1070.8 680.5 l-8.7 1.3 M1036.2 669.7 l-8.2 1.1 M1067.7 654.2 l-5.9 1 M1082.6 672.9 l-6.1 -0.1 M988.6 687.2 l-8.8 0.2 M971.6 682.9 l-4.5 0.4 M1060.1 662.9 l-9.3 2.9 M951.5 660.2 l-7.1 1.4 M1078.7 674.3 l-7.2 0.4 M1057.6 675.5 l-4.1 0.2 M1052.7 658.4 l-7.2 1.7 M1061.1 678.8 l-4.8 1.2 M1056 653.5 l-5.6 0.9 M988.3 668.5 l-8.5 0.3 M1027.6 664.4 l-5.5 1.5 M1076 685.6 l-9.6 2 M1001.7 685.5 l-6.6 0.4 M1055.6 666 l-7.2 0.4 M1059.2 664.7 l-6.2 0.9 M1040.6 660.3 l-8.4 1.6 M972.9 655.5 l-8.1 -0.3 M1013.3 685.3 l-4.8 1.3 M1041.8 685.1 l-6.4 1.8 M1014.1 665.2 l-5.6 1.5 M969.6 664.7 l-7.3 0.4 M992.1 667.9 l-8.9 1.8 M975.5 669.4 l-6.9 1.6 M1026.9 683.5 l-6.8 -0 M952.2 679.4 l-4.6 0.2 M970.1 684.9 l-7.7 0.4 M1008.6 677.8 l-6.6 0.5 M999.2 685.4 l-8.8 3.1 M979.2 686.4 l-7.9 2.6 M1001.1 671.4 l-5.3 0.2 M1022.2 658.6 l-9 -0 M1061.9 653.6 l-8.6 -0.2 M1030 653.6 l-9.8 0.2 M975.1 656.5 l-6.4 0.5 M939.8 683.3 l-9.3 2.5 M971.6 661.9 l-7.9 1.2 M971.1 655.8 l-7.6 1.3 M1074.5 653 l-4.2 1 M1053.5 660.4 l-6.7 0.2 M1057.7 665 l-6.4 1.7 M1084 657.9 l-4.8 0.8 M1032.9 664.8 l-4.8 0.3 M1029.1 686.3 l-4.4 0.3 M1016.9 670.3 l-8.3 1.8 M1078.5 676.5 l-7.7 -0.3 M1078.9 656.6 l-5.1 0.7 M986.7 660.8 l-7.5 -0.1 M1078.5 669.2 l-6.2 -0.3 M1045.4 662.2 l-9.9 2.2 M988.1 668.1 l-9.5 3.3 M1070.6 679.7 l-9.8 1.9 M1018.9 674 l-8.7 1.7 M1011.3 668.6 l-6.8 0.9 M950.6 682.9 l-9.1 1.3 M1069.7 672.7 l-5 0.3 M1034.6 670.9 l-6.6 0.4 M1060.7 683.7 l-8.5 -0.2 M1062.6 667.1 l-7 2.1 M1082.1 665 l-5.6 1.1 M952.4 665.7 l-9.2 2.7 M985.2 659.5 l-5.4 0.7 M949.8 659.4 l-5.8 0.2 M1019.2 668.3 l-7.4 -0.2 M1056.9 663.6 l-4.3 1.1 M1043.5 663 l-8.3 2.5 M945.7 665.6 l-7.2 0.6 M1002.2 675.8 l-7.9 1.2 M1012.2 657.6 l-5.8 0.8 M983.4 688.3 l-6.7 1.2 M1047.3 684.5 l-4.4 1.5 M1064.6 663.6 l-8.9 1.6 M1062.7 659.3 l-8.2 2.9 M1086 682.1 l-8.7 1.2 M1041.1 681.6 l-8.9 1 M1019.7 675.8 l-9.8 0.6 M1066.3 688.2 l-9.4 2.3 M1084.5 679.6 l-7 2.4 M988.7 662.3 l-6.6 1.7 M961.6 685.7 l-8.2 0.5 M979.2 659.9 l-7.1 2.3 M1075.2 684.9 l-9.1 0.8 M1035.6 676.9 l-6.3 0.5 M1034.1 680 l-4.2 1.2 M977.8 672.5 l-6.8 0.2 M996.2 686.4 l-5.6 -0.2 M963.9 669.4 l-9.1 0.3 M1079 662.6 l-7 -0.2 M1059.8 657.7 l-9.1 3.1 M947 678.8 l-8.9 1.6 M993.9 657.8 l-4.2 0.8 M1033.4 653.1 l-4.5 1.6 M945.9 656.4 l-4.7 0.1 M1008 675.1 l-4.7 0.5 M1073.5 668.6 l-6.1 2 M960.3 679.9 l-4.2 0.6 M995.6 680.9 l-6.6 -0 M1027.6 666.8 l-8.4 0.3 M945.2 658.8 l-7 0.7 M980.8 671.5 l-4.3 1.2 M962.9 672.4 l-5 1.5 M953.4 685.3 l-7 1.1 M1060.1 663.4 l-8.2 0.4 M1026.7 680.7 l-8.2 2.6 M1067 677.9 l-9.2 1.9" stroke="#4a3028" stroke-width="0.7" opacity="0.35" fill="none"/>
<path d="M961 663.7 l-8.9 1.2 M1073.9 661.1 l-6.6 0.1 M986.4 661.1 l-9.4 2.2 M1021.6 686.1 l-4.8 0.5 M1057.5 653.6 l-6.6 1.3 M946.7 662.5 l-8.2 1.3 M1071.6 674.1 l-5.4 1 M1035.7 684.8 l-8.6 1.5 M1071 663.1 l-5.2 0.1 M1069.3 678.6 l-7 2.4 M1002.7 676.5 l-8 2.5 M985.8 664.4 l-9.9 1.6 M1068.4 680 l-6.9 2.3 M1064.5 655.4 l-7.9 -0.3 M1077.3 684.2 l-9.3 1.7 M1047 667.5 l-8.7 1.3 M1028 681.4 l-4 0.4 M969.8 656.3 l-9.6 1.2 M943.5 670.9 l-7.8 -0.1 M1015.7 681.8 l-7.9 1.9 M963.5 677.4 l-4.5 0.2 M994.5 674.6 l-5.9 -0.2 M1026.4 670.3 l-8.4 1.5 M995.2 658.7 l-9.7 0.3 M1012.2 679.6 l-7.2 1 M1056.9 663.8 l-4.7 -0.1 M1015.2 685.8 l-4.6 0.2 M962.7 669.1 l-6.1 0.7 M1058.7 653 l-8.9 3 M1014.9 671.9 l-7.5 1.4 M1083.1 661.9 l-5.8 0.6 M1088.1 674 l-7 2.2 M1004.6 680 l-6.3 1 M1046.4 678.9 l-4.1 1.4 M1082 675.7 l-5.4 1.4 M1067.2 674.5 l-7.7 2.3 M951.9 671 l-4.6 1.5 M996 669 l-5.7 2 M1004.3 658 l-6.2 -0.1 M1054.2 656.1 l-9.1 0.1 M971.9 667.9 l-6.6 -0 M988.4 666.4 l-9.1 2.6 M942.8 670 l-9.9 0.3 M979 666.2 l-5.7 0.1 M1026.4 654.2 l-8.7 1 M977.5 666.7 l-7.9 2.3 M1059 667.3 l-9.8 -0.2 M1027.4 657.9 l-5.8 -0.1 M979.8 678.3 l-9.1 2.1 M967.4 665 l-7.7 2.2 M980 673.2 l-4.6 1.1 M1083.2 664.6 l-7.2 -0.2 M1050 666.5 l-6.8 1.9 M945.4 658.9 l-5.9 -0 M1087.1 655.7 l-7 1 M1002.5 685.2 l-4.8 0.4 M970.6 653.3 l-6.4 0.2 M1005.6 666.8 l-7.2 1.2 M1078 675.1 l-4.3 -0 M1050.8 662.4 l-4.9 0.9 M1081.4 678.9 l-4.6 1.6 M952.8 658.1 l-6.7 -0.1 M969.3 657.7 l-4.2 0.5 M941.1 681.4 l-6.8 1.5 M1002.1 671 l-5.3 0.8 M948.8 675.7 l-5.6 -0.2 M1026.2 661.1 l-5.3 0.8 M1033.9 665 l-5 1.2 M971.2 680.1 l-6.5 1.1 M1077.2 653.9 l-8.8 -0 M993.7 688.9 l-7.6 2.7 M986.5 679.2 l-7.1 0.7 M1013.5 656.5 l-4.4 0.2 M939.5 675.9 l-4.5 0.1 M1040.8 686.6 l-8.7 1.2 M1008.8 683.4 l-5 0.5 M980.4 674.9 l-6 1.3 M948.7 681.3 l-5.2 0.7 M948.1 674.7 l-4.4 1 M1047.4 658 l-7.7 0 M1022.7 661.3 l-8.5 1.1 M1057.7 670.3 l-8.4 1.9 M1081.6 684.7 l-9 1.4 M959.5 655.1 l-4.4 1.1 M1075.6 663.6 l-7.7 2.5 M1023.5 678.6 l-8.4 0 M966.9 654.6 l-6.9 0.4 M986.2 688.2 l-9.2 2.2 M965.1 661 l-9.8 2.2 M955.8 660.5 l-9.2 2 M1067.9 660.9 l-8.4 3 M1073.4 680.4 l-9.6 0.2 M963.6 659.2 l-6.6 1.2 M957.3 685.6 l-7.2 -0.2 M1008.8 665.1 l-4.1 0.9 M1036 688.6 l-4.3 0.9 M1063.6 668.7 l-5.7 2 M1015.9 659.4 l-9.3 1.7 M1009.5 654.8 l-6.6 0.5 M1051.1 673.5 l-8.6 -0.1 M1001.9 659 l-8.4 1 M987.1 676 l-6.4 2.1 M968.2 672.2 l-9.4 0.9 M1079.9 654.6 l-4.6 0.8 M948.4 662.1 l-7 1.6 M943.8 656.5 l-9.8 1.8 M985.6 680.3 l-4.3 0.1 M946.6 658.4 l-4.2 -0.2 M1060.7 663.7 l-4.5 1 M976.8 672.3 l-9.1 0.9 M1087.8 679.8 l-6.7 0.6 M975.1 659.4 l-6.2 0 M984.3 684.6 l-4.3 0.5 M1041.2 687 l-5.7 2 M1054.1 684 l-8.3 0.1 M977.7 673 l-8.8 2.7 M1012.4 664.9 l-6.3 1.5 M945.7 671.8 l-4.6 1.6 M941.6 668.3 l-7.7 2.5 M1026.2 681.2 l-8.5 0.8 M996 665.9 l-6.9 0.7 M1071.1 675.6 l-5.6 0.9 M1033.6 655.3 l-7.2 2.5 M952.9 659.8 l-7.7 -0.2 M1003.1 676.6 l-6.9 -0.1 M1009.9 688.6 l-8.3 -0.3 M1059.1 688.5 l-8.3 1.4 M1048.5 665.7 l-6.9 0.4 M950.1 675.8 l-9.9 1.7 M1031.2 683.3 l-6.2 0.3 M981 662 l-8.5 2.9" stroke="#e0b8a8" stroke-width="0.6" opacity="0.35" fill="none"/>
</g>
</g>
<ellipse cx="1020.4" cy="677" rx="94.4" ry="71.7" fill="none" stroke="#4d4d4d" stroke-width="4.0"/>
<ellipse cx="1252.5" cy="677" rx="94.3" ry="72.2" fill="url(#bg)"/>
<g clip-path="url(#cp7)">
<path d="M1188.7 600 C1196.4 603.8 1194.3 616.5 1196 622.5 C1197.7 628.5 1198.3 631.1 1198.9 635.7 C1199.5 640.3 1199.9 645.9 1199.7 650.3 C1199.5 654.7 1198.1 658.9 1197.5 662.1 C1196.9 665.3 1198.7 667.7 1196 669.4 C1193.3 671.1 1186.9 671.3 1181.3 672.3 C1175.7 673.3 1167.5 674.7 1162.3 675.3 C1157.1 675.9 1152 688.5 1150 676 C1148 663.5 1143.5 612.7 1150 600 C1156.5 587.3 1181 596.2 1188.7 600 Z" fill="#45372f"/>
<clipPath id="fc7"><path d="M1188.7 600 C1196.4 603.8 1194.3 616.5 1196 622.5 C1197.7 628.5 1198.3 631.1 1198.9 635.7 C1199.5 640.3 1199.9 645.9 1199.7 650.3 C1199.5 654.7 1198.1 658.9 1197.5 662.1 C1196.9 665.3 1198.7 667.7 1196 669.4 C1193.3 671.1 1186.9 671.3 1181.3 672.3 C1175.7 673.3 1167.5 674.7 1162.3 675.3 C1157.1 675.9 1152 688.5 1150 676 C1148 663.5 1143.5 612.7 1150 600 C1156.5 587.3 1181 596.2 1188.7 600 Z"/></clipPath>
<g clip-path="url(#fc7)">
<path d="M1169.3 669.1 l1.7 13.1 M1155.9 619.8 l-7.8 21.2 M1145.7 596 l-3.4 13 M1153.5 634.8 l-5.7 19.8 M1156 650 l-1.1 26.2 M1146.7 590.4 l-2.4 23 M1167.2 596 l-1.2 10.8 M1189.1 642.4 l-0.7 20 M1172.4 594 l0.6 20.9 M1186.1 675.5 l-4.3 15.9 M1198 662.9 l-1.3 13.8 M1197.3 615.4 l-2.2 13.2 M1149 652.6 l-1.8 27.9 M1191.3 612.6 l0.8 20.4 M1145.8 600.6 l-3.9 24.1 M1201.7 618.3 l-1.9 11.4 M1200.1 630.4 l-2.8 20.5 M1198.1 626.1 l-2.6 10.2 M1191.9 605.3 l1.1 13.1 M1200.6 590.9 l-3.1 11.4 M1203.8 664.1 l-2.3 29.4 M1178.9 594.2 l2.3 18 M1152.3 657.3 l-4.7 22.5 M1182.8 619.3 l2.1 24.8 M1147.2 627.6 l-2.6 24.1 M1154.5 604.2 l-1.5 10.8 M1179.7 630.3 l0.2 16.4 M1145 654.6 l-1 20.4 M1190.6 625.1 l-2.1 14.2 M1159.7 628.3 l-0.2 27.9 M1151.5 624.9 l-1.4 13.1 M1200.8 661.6 l-2.8 10.9 M1155.1 629.3 l-8.7 25.4 M1174 675 l0.1 28.8 M1178.4 670.8 l-3.6 26.7 M1156.8 627.8 l-4.5 12.4 M1147.9 630.9 l-4.9 16.2 M1173.2 659.9 l-7.7 29 M1167.6 615 l-6.5 19.2 M1186 598 l-5.2 21.9 M1184.4 618.8 l-3 27.6 M1152.9 594.1 l2.6 28.5 M1149.7 645.3 l-3.3 19 M1183.2 656.8 l-7.8 22 M1204.2 665.5 l-7.4 21 M1162.5 627.6 l2.7 28.2 M1177.4 665.7 l-3.1 29.7 M1189.9 606.6 l-5.1 19.8 M1181.7 674 l1.1 17.5 M1178.3 653 l-6.9 18.7 M1161.2 603.4 l-1.1 13.8 M1171.2 675.3 l0 10.6 M1166 610.3 l-5.5 14.9 M1171 672.4 l-0.5 11.2 M1169.1 609.3 l-4.8 21.5 M1159.4 628.6 l0.3 15.2 M1191.5 593.5 l-5.3 22.8 M1153.4 624.6 l-0.3 16.5 M1193.2 616.1 l-3.4 22.2 M1181.5 669.3 l1.1 10.5 M1174.3 642.4 l1.2 21.8 M1147.2 597.8 l-1.5 16.8 M1153.9 602.3 l-5.4 18.3 M1200.4 598.4 l0.7 21.8 M1191.8 669.2 l0.7 21.8 M1191.8 598.9 l3 28.5" stroke="#a8917a" stroke-width="0.7" opacity="0.5" fill="none"/>
<path d="M1203.4 594.7 l-3.1 24.3 M1191.5 625.8 l2.1 27.1 M1201.6 639.5 l1.7 23.4 M1155.2 600.6 l-4.1 13 M1163.3 637.7 l-1.8 18.5 M1191.6 602.9 l1.6 29.1 M1172 671.9 l-6.5 25.4 M1195.7 654.7 l-2.9 27.8 M1149.5 647.1 l-0.1 12.9 M1194.7 596.9 l-6 24.8 M1158.3 650.5 l-4.5 15.9 M1160.6 658.4 l-2.2 23.6 M1179.7 662.4 l-5.6 23.2 M1175.3 669.3 l-1.8 12.2 M1159.6 600 l-5.3 16 M1194.5 594.8 l0.5 20.5 M1160.8 635.6 l-2.6 23.5 M1199.4 673.1 l-4.4 11.7 M1179.6 612.8 l0.3 14.9 M1183.6 655.8 l-1.6 11.5 M1174 666.4 l0.9 28 M1151.6 674.5 l-3.4 15.6 M1176.9 656.3 l1.9 20.7 M1183.6 613.6 l-2.7 22.6 M1161.4 658.2 l-6.7 23.3 M1174 627.9 l-2.9 16.5 M1177.2 618.2 l3 29.1 M1185.9 671.8 l-4.3 23.8 M1195.9 594.2 l-0.8 14.4 M1177.3 644.2 l-0.9 10.2 M1149.4 635.5 l-3 14.8 M1194.9 591.1 l-0.6 11.7 M1172.6 629.2 l2.9 23.8 M1145.9 591.3 l-3.8 11.8 M1192.6 674.2 l-7.8 26.6 M1201.5 611.8 l-1.2 21.5 M1194.3 630.3 l-5.8 21.1 M1159.5 647.1 l-0.1 12.8 M1153.3 637.6 l-3 24.2 M1176.2 632.9 l0.1 13.9 M1160.4 623.8 l-4.2 25.5 M1177.4 646.1 l-4.3 24.7 M1200.3 593.4 l-5.3 20.4 M1153.7 618.1 l0.1 17.3 M1182.8 640 l-5 16.7 M1151.7 618.2 l-0.1 22.7 M1199.6 652.7 l-1 24.5 M1184 646.2 l-4 11 M1186.5 598.1 l1.5 25.1 M1193.6 595.7 l-4.7 21.4 M1165.5 645.2 l-8.7 27.4 M1175.1 669 l1.7 16.2 M1146.5 603.6 l-1.5 20.4 M1174.8 664 l-3.5 21.2 M1182.1 608.7 l-5.5 17.3 M1200.7 674.7 l-4.9 19.7 M1185.3 648.1 l-3.2 17 M1153.6 630.3 l-6.3 24.5 M1156.8 622.5 l-1.2 22.6 M1158 634.2 l-3.6 26.9 M1192.6 598.1 l-3.7 20.3 M1147.6 651.2 l1.8 29.2 M1203.7 625.3 l-0.7 15.7 M1174.1 645.9 l-2.2 12.9 M1183.9 633.9 l1.9 23 M1151.1 629.3 l-2.5 14.9 M1198.8 620.8 l-5.5 29 M1185.6 623.6 l-8.1 25.8" stroke="#231a16" stroke-width="0.9" opacity="0.5" fill="none"/>
</g>
<path d="M1188.7 600 C1196.4 603.8 1194.3 616.5 1196 622.5 C1197.7 628.5 1198.3 631.1 1198.9 635.7 C1199.5 640.3 1199.9 645.9 1199.7 650.3 C1199.5 654.7 1198.1 658.9 1197.5 662.1 C1196.9 665.3 1198.7 667.7 1196 669.4 C1193.3 671.1 1186.9 671.3 1181.3 672.3 C1175.7 673.3 1167.5 674.7 1162.3 675.3 C1157.1 675.9 1152 688.5 1150 676 C1148 663.5 1143.5 612.7 1150 600 C1156.5 587.3 1181 596.2 1188.7 600 Z" fill="url(#furg)"/>
<path d="M1196 669.4 C1202.4 668.7 1207.5 669.6 1213.6 667.9 C1219.7 666.2 1225.8 661 1232.7 659.1 C1239.6 657.2 1247.4 656 1254.7 656.2 C1262 656.5 1269.9 658.9 1276.7 660.6 C1283.5 662.3 1290.6 664.5 1295.7 666.5 C1300.8 668.5 1306.3 669.9 1307.5 672.3 C1308.7 674.7 1305.5 678.4 1303.1 681.1 C1300.6 683.8 1296.5 687.5 1292.8 688.5 C1289.1 689.5 1285 686.5 1281.1 687 C1277.2 687.5 1273.2 690.2 1269.3 691.4 C1265.4 692.6 1262.5 694 1257.6 694.3 C1252.7 694.5 1245.4 692.6 1240 692.9 C1234.6 693.1 1231.4 695.1 1225.3 695.8 C1219.2 696.5 1210.6 697.3 1203.3 697.3 C1196 697.3 1187.9 696.3 1181.3 695.8 C1174.7 695.3 1168.9 694.8 1163.7 694.3 C1158.5 693.8 1152.3 696 1150 693 C1147.7 690 1145.8 679.5 1150 676 C1154.2 672.5 1167.3 673.1 1175 672 C1182.7 670.9 1189.6 670.1 1196 669.4 Z" fill="url(#pawR)"/>
<path d="M1196 669.4 C1202.4 668.7 1207.5 669.6 1213.6 667.9 C1219.7 666.2 1225.8 661 1232.7 659.1 C1239.6 657.2 1247.4 656 1254.7 656.2 C1262 656.5 1269.9 658.9 1276.7 660.6 C1283.5 662.3 1290.6 664.5 1295.7 666.5 C1300.8 668.5 1306.3 669.9 1307.5 672.3 C1308.7 674.7 1305.5 678.4 1303.1 681.1 C1300.6 683.8 1296.5 687.5 1292.8 688.5 C1289.1 689.5 1285 686.5 1281.1 687 C1277.2 687.5 1273.2 690.2 1269.3 691.4 C1265.4 692.6 1262.5 694 1257.6 694.3 C1252.7 694.5 1245.4 692.6 1240 692.9 C1234.6 693.1 1231.4 695.1 1225.3 695.8 C1219.2 696.5 1210.6 697.3 1203.3 697.3 C1196 697.3 1187.9 696.3 1181.3 695.8 C1174.7 695.3 1168.9 694.8 1163.7 694.3 C1158.5 693.8 1152.3 696 1150 693 C1147.7 690 1145.8 679.5 1150 676 C1154.2 672.5 1167.3 673.1 1175 672 C1182.7 670.9 1189.6 670.1 1196 669.4 Z" fill="url(#pawV)"/>
<clipPath id="pc7"><path d="M1196 669.4 C1202.4 668.7 1207.5 669.6 1213.6 667.9 C1219.7 666.2 1225.8 661 1232.7 659.1 C1239.6 657.2 1247.4 656 1254.7 656.2 C1262 656.5 1269.9 658.9 1276.7 660.6 C1283.5 662.3 1290.6 664.5 1295.7 666.5 C1300.8 668.5 1306.3 669.9 1307.5 672.3 C1308.7 674.7 1305.5 678.4 1303.1 681.1 C1300.6 683.8 1296.5 687.5 1292.8 688.5 C1289.1 689.5 1285 686.5 1281.1 687 C1277.2 687.5 1273.2 690.2 1269.3 691.4 C1265.4 692.6 1262.5 694 1257.6 694.3 C1252.7 694.5 1245.4 692.6 1240 692.9 C1234.6 693.1 1231.4 695.1 1225.3 695.8 C1219.2 696.5 1210.6 697.3 1203.3 697.3 C1196 697.3 1187.9 696.3 1181.3 695.8 C1174.7 695.3 1168.9 694.8 1163.7 694.3 C1158.5 693.8 1152.3 696 1150 693 C1147.7 690 1145.8 679.5 1150 676 C1154.2 672.5 1167.3 673.1 1175 672 C1182.7 670.9 1189.6 670.1 1196 669.4 Z"/></clipPath>
<g clip-path="url(#pc7)">
<path d="M1269.5 676.5 l4.1 0.5 M1190.2 664 l5.7 0.9 M1204.6 683.8 l9.2 2.5 M1154.5 654.3 l6.6 1.9 M1206 674.8 l7.7 2.7 M1293.7 659.9 l7.4 0.5 M1257.8 664.3 l8.3 -0.2 M1297 664 l4.8 0.1 M1256.6 662.3 l7.4 1.1 M1250.8 674.7 l4.5 0 M1235.2 661.5 l5.7 0.6 M1270.3 684 l6.4 0.8 M1230.3 683.4 l9.8 3.4 M1240.1 660.3 l5.2 0.1 M1217.2 662.8 l4.9 0.5 M1194.6 665.4 l8.5 2.7 M1298.2 680.1 l6 -0.2 M1163 664.3 l9.7 2.9 M1231.5 679.2 l5.5 1.1 M1217 682.7 l8.3 1.4 M1230.6 661.7 l8.5 1.1 M1227.1 662.1 l4.6 0.2 M1254 684.9 l7.5 1.7 M1240.9 664.8 l5.4 1.5 M1187.1 653.9 l7.5 1.6 M1164.9 671.4 l8.5 0 M1292.7 652.8 l5.7 0.1 M1280.2 656.6 l8.3 2 M1155.2 665.7 l9.5 1.2 M1221.1 656 l8.4 1.3 M1295.2 683.8 l7.9 0.4 M1193.4 686.8 l5 -0 M1256.7 674.2 l6 1.8 M1229 668.5 l7.3 1.1 M1154.9 683.6 l4.5 0.8 M1156.7 659.6 l8.4 2.6 M1268.5 677.3 l9.4 -0.1 M1250.7 680.6 l5.2 1 M1163.7 674.7 l7.3 0.6 M1174.9 669.9 l6.9 1.1 M1293.8 654.1 l9.4 2.3 M1185.8 671.3 l4.2 -0.1 M1254 677.3 l7.2 2.5 M1217.4 665.6 l7 2.1 M1224.7 660.1 l8.1 1.5 M1292.2 680.4 l6.3 -0.2 M1278.4 680.7 l5.8 0.1 M1261.7 667 l8.1 1.6 M1230.3 671.1 l4 -0.2 M1171.1 661.5 l9.1 0.6 M1241.3 681.8 l6.7 0.5 M1216.2 677.8 l4.3 1.3 M1295.3 673.8 l9.4 1.7 M1264.5 684.7 l6.7 1.8 M1292 671.5 l7.6 2.4 M1216.8 665.7 l6.5 1.5 M1233.5 653.1 l4.2 0.4 M1152.8 658.8 l4.4 1 M1176.3 654.2 l5.7 1.2 M1242.6 665.8 l6.7 1.9 M1280.4 662.3 l6.9 2.1 M1208.2 662.5 l4.8 1.3 M1176.7 669.1 l5.2 0.1 M1234.1 660.5 l9.2 2.5 M1183 663.9 l9.2 -0.3 M1172 663.2 l6 2 M1200.4 658 l7.9 -0.1 M1267.9 683.9 l4.5 0.6 M1206.5 679.8 l7.7 0.2 M1212.1 654.8 l4.8 0.4 M1239 657.1 l9.5 -0 M1196 669.1 l6.4 0.7 M1225.7 674 l6.5 -0 M1217.8 666.1 l7.7 0.3 M1270.1 657.9 l6.5 0.5 M1193.1 685.2 l5.3 1.4 M1264.7 682.7 l8.2 -0.1 M1177.4 678.1 l4.9 0.4 M1269.5 678.4 l6.5 -0.2 M1223.8 682.3 l8.9 0.5 M1286.6 662.6 l6.4 0.6 M1187 665.9 l6.5 1.5 M1166 660.5 l8.8 1.6 M1185.7 676.1 l7.4 1.6 M1265.9 660 l4.8 0.8 M1248.3 665.1 l9.4 1.2 M1250.6 676 l6.8 1.5 M1272.4 683.5 l6.8 1.1 M1245.3 653.9 l9.8 0.8 M1175.8 683.8 l7 1.6 M1300.3 671.9 l8.7 2.2 M1178.5 681.9 l8.4 0 M1254.9 664.4 l5.7 1.8 M1203.8 668.5 l5.8 2 M1239.4 677.2 l7.5 0.4 M1304.5 683.8 l4.3 0 M1221.5 680.8 l4.1 1.3 M1299.2 663.4 l8.8 2.2 M1220.5 670.9 l6.3 -0.2 M1233.7 661.6 l6.5 1.6 M1177.5 656.6 l6.7 1.1 M1195.8 657.1 l8 1.4 M1281.5 653.6 l8.5 0.9 M1263.9 662.4 l8.2 2.2 M1286.3 661.4 l5.8 1 M1282.1 683.9 l8.7 -0.3 M1199.8 676.4 l6 0 M1238.2 667.3 l5.9 2 M1200.7 671.8 l6.2 1.4 M1217.3 677.2 l4.4 0.9 M1270.1 670.2 l8.7 -0.2 M1172.3 686.3 l6.1 1.3 M1286.7 672.3 l8.2 1.6 M1240.1 662.9 l7.9 -0.1 M1301.6 677.4 l7.2 1.6 M1290.7 670.9 l4.1 0.8 M1245.8 686.5 l9.6 0.6 M1209.7 658.4 l6.2 2.2 M1297.8 678.2 l6.4 0.8 M1175.2 662.4 l7.7 0.3 M1200.4 660.6 l7.7 0.8 M1275.8 658.4 l4.6 1.3 M1151 674.1 l7.3 2.4 M1276.2 664.9 l4 -0 M1296.9 679.9 l5.3 0.1 M1298.5 668.2 l6.1 0.5 M1161.4 677.6 l6.3 1.1 M1169.8 659.7 l5.7 1.7 M1186.5 685.3 l9.8 2 M1267.3 670.8 l10 1 M1219.6 670.4 l7.1 1.3 M1260.9 680.5 l6.7 0.2 M1306.5 683.3 l6.1 1.8 M1282.3 680.3 l6.2 0.6 M1224 653.1 l7.9 2.5 M1298.1 676.6 l6.3 2.2 M1194.9 680.2 l8.5 3 M1172.7 669.4 l8 0.2 M1252.8 656.2 l5.2 -0 M1264.9 679.4 l5.2 1.8 M1233.6 683.6 l7.3 2 M1288.9 670.6 l9.8 1 M1242.4 655.2 l9.1 0.6 M1302.3 678.8 l8.4 -0.2 M1186.3 671.5 l4.5 1.3 M1236.6 675.5 l6.7 0.9 M1185.5 676 l6.7 1.2 M1274.4 675.4 l5.7 0.8 M1152.3 667.6 l8.1 1.9 M1259.8 678.9 l9.1 0.9 M1181.7 668.1 l7.6 2.2 M1157.7 671.1 l8.3 1.5 M1226.4 655.7 l7.2 2.3 M1261.9 669.4 l9 1.2 M1213.4 673.3 l7.3 0.9 M1172 683.9 l7.2 0.5 M1223 652.5 l5.1 0.6 M1243.9 660.5 l6.6 0.9 M1266.9 676.6 l7.4 1.8 M1158.3 664.6 l6.2 2.2 M1208.8 657.5 l9.8 -0.1 M1287.4 684.9 l6.7 -0.3 M1229.1 673.2 l8.2 1.3 M1165.6 652.7 l8.7 1.7 M1167.6 678.2 l8.9 1.1 M1274.4 680.6 l8.3 0.5 M1274.7 677.7 l9.7 1.6 M1203.5 684.4 l5 1.3 M1279.1 680 l9.8 0.4 M1161.1 673.1 l7.4 0.2 M1240.7 656.9 l8.1 0.1 M1285.8 665.4 l7.5 1.4 M1275.2 653.2 l4.8 0.4 M1266.3 656 l8.4 -0.1 M1237.6 678.6 l8 2 M1159.1 685.3 l5.7 -0.2 M1288.5 663.2 l8.2 1.9 M1279.8 672.5 l9.6 3 M1181.4 686.2 l4 1.4 M1260.5 671.2 l7.8 0.5 M1281.2 676.5 l9.4 1.4 M1193.6 662.3 l6.7 1.2" stroke="#4a3028" stroke-width="0.7" opacity="0.35" fill="none"/>
<path d="M1208.4 683.8 l6.3 0.2 M1240.8 686.4 l6.9 0.5 M1304.5 672.7 l4.7 0.8 M1197.7 681.2 l7.9 0.4 M1180.6 667.3 l8.5 -0.3 M1266.5 672.6 l5.2 0.7 M1177.2 667 l6.9 0.1 M1150.5 668.1 l7.9 2 M1183.9 658.4 l4.7 0.4 M1256.3 655.4 l8.3 0.6 M1186.2 672.6 l6.6 0.5 M1252.4 681.1 l4.3 0.6 M1172 666.7 l8.8 0.2 M1177.1 663.8 l6.9 0.4 M1171.3 670.4 l7.5 0.9 M1233.8 655 l7.9 0.5 M1176.3 665.4 l5 0.7 M1287 663.4 l6 1.3 M1242 682.2 l6.5 0.8 M1280.6 664.8 l4.9 0.2 M1197.3 679.6 l6.2 1.5 M1238.9 669.3 l7.9 1.1 M1253.3 671.1 l8.2 0.5 M1246.8 680.6 l8.7 0.8 M1170.6 661.6 l5.2 0.6 M1303 653.8 l5.8 1.6 M1196.8 665.9 l6.3 0.7 M1182.4 655.6 l7.5 1.7 M1237.7 674.5 l7.6 1.3 M1194.5 670 l6.4 0.1 M1288.4 653.2 l6.3 1.6 M1267.5 654.4 l7.6 0.1 M1186.5 656.8 l6.1 0 M1252.9 670.3 l4.9 1.7 M1206 678.6 l6.7 1.4 M1292.3 659.6 l7.5 1 M1244.3 664.4 l7.6 1 M1158.2 666.3 l8.7 -0.2 M1241.7 682.4 l4.6 0.4 M1255.2 685.9 l7 0.5 M1299.5 655 l9.9 2.4 M1231.8 672.7 l6.3 1.5 M1259.3 662.5 l7 0.8 M1270.9 662.6 l8.3 2.2 M1219.4 684.8 l7.4 1.3 M1186.2 671.8 l7.5 1.2 M1210.9 676.7 l6.1 1.1 M1215.5 652.9 l8.3 0.1 M1242.8 663.3 l8.2 1.2 M1274.5 674.9 l9.4 0.6 M1307.2 674.7 l7.9 2.7 M1306.7 654.8 l5.2 0.9 M1298.5 685.1 l5.4 1.9 M1178.6 657.8 l9.2 2.6 M1300 668.8 l5 0.9 M1207.4 660.5 l4.1 -0.2 M1263.8 655.7 l7.1 0.5 M1275.4 664.7 l7.6 2.3 M1285.2 659.1 l5 0.7 M1248.7 681.4 l5.2 1.8 M1201 686.9 l4.2 0.1 M1275.8 661.6 l8.9 1 M1266.5 656.5 l5.2 0.8 M1202.2 675.8 l4.9 1.4 M1272 683.1 l5.3 0.2 M1157.9 680.4 l8 0.4 M1193.9 656.7 l7.4 1.8 M1275.2 665 l6.5 0.4 M1267.6 659.6 l7.3 2.2 M1205.4 658.4 l7.8 0.1 M1290.7 674.3 l7.2 1.1 M1176.4 666.7 l9.3 0.7 M1166.3 685.6 l7.4 0.6 M1237.4 662.1 l5.2 1.5 M1274.9 657.7 l8.8 2.8 M1161 670.2 l7.1 2.1 M1186.1 673.8 l8.6 2.6 M1261 667.1 l9.4 0.4 M1296.4 671.4 l5.6 -0.2 M1187.7 662.7 l8.5 0 M1160.7 654.3 l8.2 2.5 M1291.6 662.8 l4.7 0.4 M1194.2 675.5 l8 2.8 M1179.6 653.8 l4.4 0.4 M1207 667 l7 0.6 M1271.4 652.2 l4.6 0.2 M1274.8 671.9 l5.1 -0.2 M1286 663.8 l4.7 0.2 M1257.1 680.9 l6.5 2 M1299.4 664.9 l6.3 1.3 M1298.7 652.8 l4.5 1.1 M1197.6 672.7 l7.1 0.4 M1295.1 672.8 l9.8 1.5 M1216.9 672.6 l8.1 0.9 M1195.4 672.9 l7.6 0.3 M1242.1 686.5 l9.4 2.3 M1300.2 686.3 l5.6 0.4 M1168 677.1 l10 1.8 M1239.7 676.9 l7.2 2.3 M1195.6 670.2 l7.3 1.1 M1254 655.2 l9.4 0.4 M1170.6 663.4 l7.8 2.6 M1209.4 685.8 l6.5 1.5 M1282.5 664 l5 0.1 M1194.7 662.6 l7 1.2 M1194 665.6 l5.1 1.6 M1267.5 658.8 l9.6 1.3 M1195 684.7 l6.6 0.2 M1247.6 686.3 l9.4 3.1 M1196.5 685.8 l6.3 0.2 M1204.4 673.3 l5.2 0.4 M1191.9 668.5 l9.9 2.1" stroke="#e0b8a8" stroke-width="0.6" opacity="0.35" fill="none"/>
</g>
</g>
<ellipse cx="1252.5" cy="677" rx="93.8" ry="71.7" fill="none" stroke="#4b1a8e" stroke-width="4.0"/>
<path d="M1247.3 717.7 V738.3" stroke="#4b1a8c" stroke-width="2.4"/>
<path d="M1247.3 701.7 L1253.6 719.7 L1241 719.7 Z" fill="#4b1a8c"/>
<ellipse cx="1020.4" cy="848.9" rx="94.9" ry="72.4" fill="url(#bg)"/>
<g clip-path="url(#cp8)">
<path d="M1038.5 772 C1024.8 776.4 1041.3 789.7 1043 796.2 C1044.7 802.7 1047.2 806.5 1048.9 811 C1050.6 815.5 1053 819.7 1053.3 822.9 C1053.5 826.1 1044.7 827.3 1050.4 830.3 C1056.1 833.2 1080 840.6 1087.4 840.6 C1094.8 840.6 1091.8 833.2 1094.8 830.3 C1097.8 827.3 1100.2 824.6 1105.2 822.9 C1110.2 821.2 1121.7 828.8 1125 820 C1128.3 811.2 1139.4 778 1125 770 C1110.6 762 1052.2 767.6 1038.5 772 Z" fill="#45372f"/>
<clipPath id="fc8"><path d="M1038.5 772 C1024.8 776.4 1041.3 789.7 1043 796.2 C1044.7 802.7 1047.2 806.5 1048.9 811 C1050.6 815.5 1053 819.7 1053.3 822.9 C1053.5 826.1 1044.7 827.3 1050.4 830.3 C1056.1 833.2 1080 840.6 1087.4 840.6 C1094.8 840.6 1091.8 833.2 1094.8 830.3 C1097.8 827.3 1100.2 824.6 1105.2 822.9 C1110.2 821.2 1121.7 828.8 1125 820 C1128.3 811.2 1139.4 778 1125 770 C1110.6 762 1052.2 767.6 1038.5 772 Z"/></clipPath>
<g clip-path="url(#fc8)">
<path d="M1102.4 814.8 l2.9 9.8 M1111.3 803.2 l5.9 24.5 M1098.1 838.1 l8.9 26.4 M1115 812.2 l0.5 12.1 M1072.5 822.7 l2.6 18.9 M1083 814.8 l-0.1 27 M1069.3 762.1 l1.4 28.1 M1084.9 788.9 l6.7 23.8 M1055.8 809 l7.4 25.7 M1102.1 789.5 l5 13.7 M1127.9 762.8 l-0.1 26.7 M1033.6 806.2 l7 24.1 M1057.5 762.4 l2.3 12.5 M1091.8 804.8 l3.9 15.7 M1101.5 811.2 l3.9 24.3 M1099.7 799.9 l1.2 10.1 M1053.1 795.3 l-1 28.1 M1083.8 805.9 l7 21.9 M1119.9 781.1 l1.2 10.2 M1066.9 768.7 l1.5 22.9 M1118.6 762.5 l9.2 26.6 M1107.5 798 l0 13.2 M1047.6 830.3 l-0.5 11.1 M1096.1 766.8 l7.1 20 M1116 800.9 l2.2 20.1 M1115.6 810.6 l0.8 10 M1089 812.9 l6.5 19.7 M1048.7 794.1 l8.3 21.5 M1067.5 772.4 l4.2 15.5 M1078.5 800.5 l9.2 27.6 M1035.5 802.2 l-1.2 27.3 M1069.4 811 l0.6 10.5 M1118.6 834.4 l3.8 13.5 M1054 769.5 l-0.7 24.1 M1055.2 781.2 l0.2 15.2 M1063.1 831.4 l3.1 20.8 M1046.4 832.7 l4 14.6 M1069.5 826.9 l1.5 14.4 M1072.3 763.7 l3.7 20.8 M1125.1 791.7 l-0.7 21.5 M1082.4 835.4 l-0 11.5 M1057.3 775.4 l2.6 9.7 M1052.6 779.4 l1.8 25 M1130 835.2 l10 27.9 M1066.4 830.3 l4.3 13.8 M1110.2 802.4 l2.9 26.8 M1126.4 778.2 l7.7 28.5 M1054.8 817.6 l-0 10 M1064.4 827 l2.1 14 M1077.4 804.7 l3.8 16.8 M1081 789 l-2 27.5 M1072 796.3 l8.4 26.5 M1040.1 814.1 l1.1 23.6 M1063.6 790.5 l-1.4 11 M1065.1 780.3 l5.1 28.3 M1069.3 783.3 l2.1 25.3 M1091 788.4 l0.5 16.1 M1073.6 821.1 l3.5 18.1 M1097.5 781.9 l7.5 24.4 M1068.8 803.2 l2.4 17.5 M1050 783.7 l2.7 16.1 M1088.1 805.8 l3 13.3 M1035.1 779.1 l5.6 28.6 M1034.5 816.7 l3.2 14 M1099 811.6 l4.2 22.3 M1072.7 822.2 l-2.8 22.8 M1087 833.7 l2.1 28.9 M1040.9 790.6 l0.5 16.2 M1069.8 809.3 l6.5 28.7 M1037.3 774.4 l-1.4 10.8 M1115.2 787.9 l-2.5 25 M1111.3 787.3 l6.5 22.8 M1085.8 805.6 l0.6 10.3 M1118.8 811.1 l7.3 21.4 M1067.1 793.9 l4.9 25.7 M1104.7 815.2 l-0.4 21.4 M1119.8 769.6 l-1.3 19.5 M1049.5 810.4 l1.7 16.1 M1034 786.7 l3.6 13.3 M1106.6 775.5 l8.3 26.9 M1092.4 765.4 l3.1 10.5 M1059.9 803.5 l2.7 9.7 M1116.8 830.2 l5.4 27.7 M1109.8 815.7 l1.7 25.9 M1109.5 833.3 l6.3 26.3 M1095.1 832.3 l-1 10.1 M1117.3 810 l6.3 27.3 M1114.9 819.1 l2 27.2 M1111.4 770.8 l1.6 14.6 M1116.5 823.1 l-0.1 28.9 M1079.7 775.2 l5.8 25.8 M1049.4 830.2 l5.2 15.6 M1127.6 808.1 l4.3 22.2 M1044.7 811.6 l-0.7 29.9 M1109.5 830.1 l0.3 30 M1070.7 782.9 l-0.8 19.9 M1091.3 783.6 l5.3 28.7 M1126.1 761.6 l4.7 17.8 M1084.7 775.3 l-0.4 25.9 M1054 826.1 l2 13.8 M1048 795.7 l2.9 15.3 M1098.7 777.8 l0.6 13.6 M1087.6 791.4 l-0.6 18.3 M1128.1 802.2 l2.8 20.9 M1106.5 813.7 l7.1 21 M1062.6 762.4 l5.9 20.2 M1096.8 769.2 l9.3 25.1 M1086.6 797.3 l0.3 10.5 M1057.4 776 l1.3 10.2 M1129.7 774.4 l0.1 13.8 M1113.3 791.8 l7.6 23.6" stroke="#a8917a" stroke-width="0.7" opacity="0.5" fill="none"/>
<path d="M1055.1 835.2 l-3.4 28.7 M1095.3 828.2 l-1.7 16 M1087.9 837.8 l-1.3 15 M1083.4 839.8 l0.4 18 M1118.9 764.6 l3.9 22.4 M1047.6 804.5 l1.6 14.8 M1075.7 810.5 l2.8 20.3 M1044.9 806.6 l-2.4 26.1 M1037.8 793.8 l3.1 12.7 M1080.1 818.8 l-1.4 28.3 M1047.8 768.3 l-0.5 11.3 M1108.7 798.1 l8.5 28.1 M1060.2 779.9 l2 21.9 M1115.9 769.6 l-0.9 25.7 M1066.8 832.1 l5.1 16.8 M1079.2 834.6 l7.4 27.1 M1066.2 762.7 l3 27 M1100.7 787 l3.5 19.2 M1036.1 761.2 l8.6 27.9 M1126.3 830.5 l6 16.9 M1058.2 805.6 l5.7 17.1 M1099.3 799.9 l3.5 27.9 M1126.8 766.3 l0.2 16.5 M1090.1 827.8 l0.2 13.8 M1079.8 786.7 l3.8 23 M1080.3 822.5 l8.1 28.1 M1034.3 792.2 l1.1 20.9 M1081.5 837 l7.1 18.4 M1061.7 782 l5 19.4 M1049.9 793 l1.4 19.9 M1078.6 778 l-0.8 18.7 M1116.3 766.4 l-0.7 12.2 M1069.2 771.9 l-0.6 14.1 M1074.1 833.1 l2.9 27.5 M1047.7 780.6 l2.4 12.2 M1123.9 797.6 l3.5 27.7 M1073 784.6 l4.6 16.3 M1076.6 782.8 l5.7 22.7 M1075 811.1 l3.7 24.8 M1044.5 803.6 l0.1 29.1 M1100.3 772.6 l-1.4 11.6 M1066.4 791.2 l3.3 26.3 M1113.3 785.9 l4.6 27.5 M1101 779.9 l-0.4 15.5 M1088.1 784.5 l8.3 23.5 M1108.4 812.7 l3.1 16.1 M1090.8 809.6 l6.3 22.7 M1092.6 811.1 l8 26.6 M1038.9 829 l1.7 11 M1049.5 780.4 l-2.3 25.1 M1126.3 804.1 l2.2 10.4 M1117.8 778.1 l-0.3 21.4 M1127.7 802.1 l6.8 19.1 M1046.4 830.9 l3.4 20 M1065 801.3 l4.2 12.2 M1117.9 805.2 l-0.7 28.6 M1127 803.7 l-2.8 27.1 M1078.2 774.6 l3.9 15.7 M1076.8 795 l7.4 19.3 M1113.9 762.8 l3.8 14.6 M1053.3 836.4 l3.9 14.5 M1051.3 795.7 l-1.1 14.5 M1064.7 773.1 l1.4 29.8 M1125.8 780.8 l9.1 27 M1105.1 824.7 l6 21.3 M1107.2 776.3 l0.3 14.2 M1041.9 811.8 l2.6 20.9 M1099.7 830.1 l1.5 13 M1079.9 783.7 l5.8 27.6 M1069.3 832.1 l-0.5 29.2 M1049.5 804.6 l6.5 24.1 M1050.4 787.7 l7 20.7 M1106.3 764.6 l8.4 22.3 M1073 829.7 l2.6 29.1 M1092.5 765.2 l2.5 24.4 M1082.5 762.3 l1.9 19.9 M1090.1 805.5 l5.6 14.7 M1066.5 768.8 l3.2 13 M1034.4 840.6 l-3 24.6 M1094.5 816.4 l2.4 16.8 M1049.5 828.9 l-0.4 24.7 M1040.7 760.4 l3.5 28.4 M1101.2 821.1 l2.1 27.6 M1087.3 775.8 l9 24.1 M1062.4 813.2 l-2.1 16.5 M1092.2 819.2 l0.6 27.2 M1067.7 813.4 l-3 28.8 M1061 810.5 l1.4 13.2 M1035 820.7 l1.3 21.3 M1098.2 839.2 l-2.6 21.2 M1084.9 790.2 l3.6 11.7 M1071 831.5 l8.8 25.4 M1060.2 805.9 l-1.5 25.9 M1045.9 828.7 l-0.7 11.4 M1124.7 824.3 l2.9 20 M1044.5 832.6 l0.4 22.4 M1111 791.6 l4.1 15.7 M1111.4 827.4 l6.7 21.6 M1050.1 772.5 l-1.5 12.2 M1084.2 775.7 l-1.1 11.2 M1064.2 785.1 l6.8 18.5 M1123.7 768.5 l7.1 22.6 M1110.1 768.7 l6.3 19.8 M1046.1 786.3 l2.3 11 M1090.4 836.2 l0.2 18.6 M1077.3 806.6 l3.4 19 M1075.7 801.1 l5 24.3" stroke="#231a16" stroke-width="0.9" opacity="0.5" fill="none"/>
</g>
<path d="M1038.5 772 C1024.8 776.4 1041.3 789.7 1043 796.2 C1044.7 802.7 1047.2 806.5 1048.9 811 C1050.6 815.5 1053 819.7 1053.3 822.9 C1053.5 826.1 1044.7 827.3 1050.4 830.3 C1056.1 833.2 1080 840.6 1087.4 840.6 C1094.8 840.6 1091.8 833.2 1094.8 830.3 C1097.8 827.3 1100.2 824.6 1105.2 822.9 C1110.2 821.2 1121.7 828.8 1125 820 C1128.3 811.2 1139.4 778 1125 770 C1110.6 762 1052.2 767.6 1038.5 772 Z" fill="url(#furg)"/>
<path d="M1050.4 830.3 C1043.9 830.8 1038 834.2 1031.1 834.7 C1024.2 835.2 1016.3 833.7 1008.9 833.2 C1001.5 832.7 993.4 831.5 986.7 831.7 C980 832 973.9 833.5 968.9 834.7 C963.9 835.9 961.9 837.1 957 839.1 C952.1 841.1 941.5 843.6 939.3 846.6 C937.1 849.6 941 853.6 943.7 856.9 C946.4 860.2 952.2 865.6 955.6 866.6 C959 867.6 960.5 863.8 964.4 862.9 C968.3 862 975.6 861.4 979.3 861.4 C983 861.4 984.2 864.1 986.7 862.9 C989.2 861.7 989.9 855 994.1 854 C998.3 853 1007 855.9 1011.9 856.9 C1016.8 857.9 1018 859.6 1023.7 859.9 C1029.4 860.1 1038.5 859.9 1045.9 858.4 C1053.3 856.9 1061.2 854 1068.1 851 C1075 848 1087.1 843.8 1087.4 840.6 C1087.7 837.4 1076.2 833.7 1070 832 C1063.8 830.3 1056.9 829.8 1050.4 830.3 Z" fill="url(#pawL)"/>
<path d="M1050.4 830.3 C1043.9 830.8 1038 834.2 1031.1 834.7 C1024.2 835.2 1016.3 833.7 1008.9 833.2 C1001.5 832.7 993.4 831.5 986.7 831.7 C980 832 973.9 833.5 968.9 834.7 C963.9 835.9 961.9 837.1 957 839.1 C952.1 841.1 941.5 843.6 939.3 846.6 C937.1 849.6 941 853.6 943.7 856.9 C946.4 860.2 952.2 865.6 955.6 866.6 C959 867.6 960.5 863.8 964.4 862.9 C968.3 862 975.6 861.4 979.3 861.4 C983 861.4 984.2 864.1 986.7 862.9 C989.2 861.7 989.9 855 994.1 854 C998.3 853 1007 855.9 1011.9 856.9 C1016.8 857.9 1018 859.6 1023.7 859.9 C1029.4 860.1 1038.5 859.9 1045.9 858.4 C1053.3 856.9 1061.2 854 1068.1 851 C1075 848 1087.1 843.8 1087.4 840.6 C1087.7 837.4 1076.2 833.7 1070 832 C1063.8 830.3 1056.9 829.8 1050.4 830.3 Z" fill="url(#pawV)"/>
<clipPath id="pc8"><path d="M1050.4 830.3 C1043.9 830.8 1038 834.2 1031.1 834.7 C1024.2 835.2 1016.3 833.7 1008.9 833.2 C1001.5 832.7 993.4 831.5 986.7 831.7 C980 832 973.9 833.5 968.9 834.7 C963.9 835.9 961.9 837.1 957 839.1 C952.1 841.1 941.5 843.6 939.3 846.6 C937.1 849.6 941 853.6 943.7 856.9 C946.4 860.2 952.2 865.6 955.6 866.6 C959 867.6 960.5 863.8 964.4 862.9 C968.3 862 975.6 861.4 979.3 861.4 C983 861.4 984.2 864.1 986.7 862.9 C989.2 861.7 989.9 855 994.1 854 C998.3 853 1007 855.9 1011.9 856.9 C1016.8 857.9 1018 859.6 1023.7 859.9 C1029.4 860.1 1038.5 859.9 1045.9 858.4 C1053.3 856.9 1061.2 854 1068.1 851 C1075 848 1087.1 843.8 1087.4 840.6 C1087.7 837.4 1076.2 833.7 1070 832 C1063.8 830.3 1056.9 829.8 1050.4 830.3 Z"/></clipPath>
<g clip-path="url(#pc8)">
<path d="M980.7 840.6 l-7.2 -0.1 M1080.9 843.9 l-7.1 1.9 M1068.4 847.1 l-6.7 0.8 M945.4 856.5 l-6.4 0.7 M1084.9 854.8 l-8.1 2.1 M1035.4 851.2 l-7.9 -0.2 M1026.1 847.3 l-9.5 2.5 M1010.2 850.7 l-8.5 0.8 M1029.9 841.7 l-7.9 2.3 M1024.7 853 l-9.5 0.6 M1046.6 839.6 l-9 1.2 M1059.6 853.7 l-4.1 0.2 M1054.4 843.1 l-8.1 1.7 M972.5 856.3 l-5.5 1.7 M1069.5 847.2 l-9 0 M975.6 838.2 l-4.7 0 M1079.9 846.4 l-7.8 2.5 M1023.7 845 l-7.1 0.1 M1065.5 841 l-8.6 -0.2 M1075 826.7 l-9.8 0.9 M1032.1 844.7 l-5.8 1.9 M939.8 826.8 l-9.8 0.5 M1026.4 842.4 l-6.1 1.4 M998.1 852.8 l-9.4 -0.2 M979.9 831.6 l-9.7 2.2 M1003.1 856.2 l-6 0.9 M1073.7 852.8 l-8.4 1.9 M1039.1 834.3 l-7.5 1.3 M1055.5 857.1 l-9.6 1 M972.2 846.7 l-9.2 0.3 M1062.8 827.2 l-5.5 1.2 M963.8 845.7 l-9 0.2 M1024.9 834.3 l-8.7 0 M944 838.9 l-4.2 -0.1 M972.8 836.6 l-7.3 1.2 M959.4 838.6 l-9.3 1 M1076.2 828.4 l-5.7 0.1 M1075.6 836.5 l-6 0.3 M946.5 839.9 l-9.2 2.9 M1063.7 854.9 l-7.2 2.5 M941.2 846.4 l-7.2 2.1 M971.8 844.3 l-6.6 0.1 M1045.3 834.8 l-4.9 0.8 M951.8 857.4 l-9.4 2.7 M945.7 828.8 l-9.8 -0.2 M1046.3 848.7 l-8.1 1.1 M1080.7 853.1 l-4.4 1.5 M994.4 845 l-9.1 0.8 M955.7 833.8 l-8.8 1.3 M980.3 850.2 l-4.8 1.7 M1044.4 854.3 l-4.4 1.5 M1083.1 848.5 l-7.8 0.9 M951.8 843.8 l-8.8 1.1 M1081.1 830.2 l-5.4 1.1 M975.5 838.6 l-5.1 1.5 M1013.8 828.3 l-9.3 2.4 M958.9 833.6 l-7.9 1.9 M945.7 834.3 l-8 0.5 M1027.1 845.5 l-6.1 1 M1086.6 846.4 l-5.5 -0.1 M1054.2 830.1 l-7.7 1.9 M1071.2 854.7 l-8.2 0.3 M1064.8 854.7 l-4.7 -0.2 M990.2 851.5 l-5.6 -0.2 M946.7 841.2 l-5.8 0.4 M1035.7 843.2 l-5.1 1.2 M942.1 834.6 l-5 0.6 M960.3 851.2 l-7 2.3 M1051.2 827.8 l-7.6 -0.1 M983.4 837.2 l-5.1 1.3 M963.8 850.4 l-9.8 1.1 M1028.6 850.5 l-7.8 0.7 M1076.6 843.6 l-7.6 2.6 M1054.5 830.1 l-9.8 1.1 M1024.1 826.7 l-9.1 0.3 M982.2 854.3 l-9.5 -0 M1018.5 829.7 l-4.8 1.6 M940.6 849.5 l-5.1 -0.2 M948.6 852.6 l-7.6 0.2 M1010.7 853.1 l-5.7 1.6 M1025.4 840.1 l-7.6 0.4 M1007.7 846.8 l-5.8 0.6 M966.9 854.3 l-9.6 2.5 M966.6 836 l-6.2 0.6 M964.3 844.8 l-9.5 0.9 M1062.6 849.8 l-5.7 0.5 M966.2 831.9 l-4.9 1.3 M972.9 840 l-8.8 2 M1044.6 833.9 l-5.3 1.8 M976.4 851.7 l-8.4 1.8 M951.7 833.3 l-5.5 1.4 M950.5 826.6 l-6.8 -0.1 M1026.2 827.7 l-8.9 -0.4 M1019.5 836.8 l-7 -0.2 M941.7 829.7 l-9.2 2.5 M1067.5 854.2 l-9.7 1.9 M997.2 829.6 l-6.8 2.2 M1034.9 853.1 l-9.1 0.5 M970.5 838.9 l-4.3 1.5 M1037.4 846.4 l-5.7 -0.2 M1080.9 840.7 l-7.1 1 M1039.3 837.8 l-7.5 0.8 M1085.5 835.5 l-7.7 1.7 M950.5 831 l-8.8 2.9 M1030.6 849.7 l-8.2 2.6 M1020.9 827.3 l-7.5 2.4 M1061.1 826.3 l-7.3 -0.3 M1081.6 836.3 l-4.6 0.6 M1063.9 834 l-8.4 0.3 M1060.1 856 l-4.3 0.4 M1023.5 833.5 l-9.8 2 M1072.2 851.7 l-6.8 1.4 M1026.4 828.1 l-7.3 1.7 M964.7 844.1 l-9.3 0.1 M976.8 846.2 l-9.9 1 M1043.7 850.6 l-5.2 0.1 M1008.7 836.9 l-9 2.7 M961.2 830.2 l-6.4 0.8 M1037 853.1 l-7.5 1.9 M1044.8 850.1 l-5.4 1.6 M1046.8 836.6 l-6.1 0.7 M985.2 847 l-9.7 -0.4 M947.9 837.3 l-8.7 0.3 M1005.7 839.6 l-4.2 0.3 M950 852.9 l-8.4 1.2 M979.2 843.7 l-6.4 0.4 M1020.4 830.8 l-8.2 -0.2 M994.7 826.3 l-9.5 1.5 M939.8 848.7 l-5 1.4 M955.6 847.7 l-6.8 0.5 M956.4 845.6 l-5.3 1.7 M948.7 832 l-9.1 0.8 M1043.3 855.3 l-4.6 0.1 M999.6 852.3 l-6.5 0.1 M1069.4 833.6 l-4.5 0.8 M953.6 835.1 l-8 0.8 M1007.8 837.9 l-9 1.9 M965 840.3 l-5.9 1.1 M1016.3 832.5 l-4.4 0.2 M1007.9 842.3 l-6.5 0.3 M1002.9 836.2 l-8.1 0.3 M1022.7 855 l-6.1 0.8 M972.4 830.9 l-8.5 0.7 M944.1 850.9 l-5.8 0.4 M1037.8 835.7 l-8.3 -0.1 M998.8 842.4 l-4.1 0.3" stroke="#4a3028" stroke-width="0.7" opacity="0.35" fill="none"/>
<path d="M980.1 852.5 l-4.9 1.5 M1020.5 842.4 l-4.4 0.1 M1047.2 845.7 l-4.8 1.2 M1025 832.6 l-8.9 2 M989.4 829.1 l-5.5 0.3 M1079.1 849.6 l-8.8 2 M1069.1 828.4 l-4.4 -0.1 M1013.2 848.5 l-4.5 0.1 M1031.5 831.1 l-4.7 1.3 M956.2 856.9 l-4.7 0.5 M950.7 847.2 l-4.9 0.6 M985.7 847.3 l-5.3 1.9 M955.2 848.3 l-8.2 2 M942.8 828.2 l-9.2 0.4 M1087.4 853.1 l-8.1 -0.3 M1052.3 843.9 l-4.1 0.7 M1043.5 851.7 l-5.7 1.1 M1045.4 836.1 l-4.5 0.6 M949.4 844.5 l-4.7 -0.2 M1045.2 851 l-8.7 1.6 M1083.3 849.6 l-5.7 0.1 M1033.4 843 l-7.9 0.2 M1032.8 826.7 l-4.5 0.6 M1058.5 831.8 l-9.7 0.4 M1074.9 850.1 l-8.6 -0.1 M1004.9 832.6 l-9 1.2 M1054.7 838.6 l-6.3 1.1 M1035.4 839 l-6.5 2.1 M967.7 833 l-4.8 0.2 M989.3 854.2 l-6.2 2 M1013 840.9 l-9.1 2.9 M952.9 827.6 l-6.4 0.4 M973.5 839.6 l-6.1 0.8 M1048.6 844.5 l-9.4 1.8 M1075.1 831.9 l-8.2 2.6 M1021 830.4 l-8.3 0.4 M978.2 833.2 l-7.3 0.8 M969.5 851.3 l-6.1 1.1 M1025.4 836.2 l-4.8 0.6 M1084.4 837.4 l-4.5 -0.1 M959.8 842.4 l-6.5 1.7 M969.3 849.7 l-9.9 2.1 M989.1 832.1 l-4.9 -0.2 M1036.1 830.1 l-4.3 0.6 M1057.6 842.3 l-9.2 2.3 M959.8 849.6 l-8.7 -0.4 M1004.4 855 l-6.5 0.9 M947.5 831 l-7.5 -0.2 M1036.2 833.4 l-7.2 2.1 M1051.4 847 l-4.7 1.6 M1012.7 854.5 l-8.3 0.9 M972.2 830.9 l-6.7 0 M1066.9 837.3 l-7.7 1.3 M946.7 840.4 l-6.5 0.7 M1073.4 850.7 l-9.1 0.3 M961.4 851.5 l-6.5 1.2 M1083.6 833.6 l-6.3 0.5 M969.6 835.9 l-5.5 0.2 M975.2 849.9 l-6.8 0.1 M1026.8 826.9 l-4.8 0.6 M1022.8 826.6 l-6.6 0.7 M1028.4 845.4 l-7.6 1.5 M1014.1 853.5 l-5.8 1.9 M1050.1 844.2 l-8.6 2.1 M1034.2 826.7 l-8.8 2 M1034.7 839.9 l-7.4 2.3 M998.2 831.3 l-8.1 1.6 M1052.9 855.3 l-8.2 2.1 M1050.8 842.9 l-5.1 0.1 M949 833.5 l-5.6 0.2 M960.2 827.1 l-8.8 0.7 M941.1 838 l-5.3 0.4 M1007.5 848.2 l-7.6 0.3 M983.1 828.1 l-9.8 1.2 M962.4 838.7 l-6.1 0.2 M1051.7 849.5 l-6 0.3 M1021.4 849.5 l-4 0.9 M1058.5 830.6 l-9.9 3.1 M958.6 829.9 l-9.4 0.8 M1076.8 852.9 l-6.8 0.3 M1075.9 830.4 l-5.7 0.6 M1047 844.5 l-4.5 1.3 M966 837.2 l-6.1 0.5 M951.3 856.7 l-8.2 2.5 M1080.3 832.5 l-6.7 1.8 M970.2 851.5 l-7 1.2 M943 845.2 l-8 2.2 M1027.8 831.5 l-8.5 1.4 M1047.9 857.2 l-8.2 -0.4 M956.5 830.6 l-9.6 0.2 M976.3 830.8 l-8.4 0.5 M989.1 848.4 l-9.8 3.3 M1008.9 833 l-7.9 0.6 M981.7 836.5 l-8.8 0.7 M943.2 848 l-7.9 1 M982.9 832.6 l-4.3 -0.1 M955.9 855.6 l-5.4 1.2 M984.7 846.7 l-9.7 1.5" stroke="#e0b8a8" stroke-width="0.6" opacity="0.35" fill="none"/>
</g>
</g>
<ellipse cx="1020.4" cy="848.9" rx="94.4" ry="71.9" fill="none" stroke="#4d4d4d" stroke-width="4.0"/>
<ellipse cx="1252.2" cy="849.1" rx="94.6" ry="72.6" fill="url(#bg)"/>
<g clip-path="url(#cp9)">
<path d="M1222 772 C1233.8 774 1221.6 780 1220.9 784.2 C1220.2 788.4 1219.2 792.8 1218 797.4 C1216.8 802 1215.3 807.2 1213.6 812.1 C1211.9 817 1208.9 823 1207.7 826.7 C1206.5 830.4 1209.5 832.9 1206.3 834.1 C1203.1 835.3 1195.3 833.6 1188.7 834.1 C1182.1 834.6 1173.2 836.4 1166.7 837 C1160.2 837.6 1152.8 848.8 1150 838 C1147.2 827.2 1138 783 1150 772 C1162 761 1210.2 770 1222 772 Z" fill="#45372f"/>
<clipPath id="fc9"><path d="M1222 772 C1233.8 774 1221.6 780 1220.9 784.2 C1220.2 788.4 1219.2 792.8 1218 797.4 C1216.8 802 1215.3 807.2 1213.6 812.1 C1211.9 817 1208.9 823 1207.7 826.7 C1206.5 830.4 1209.5 832.9 1206.3 834.1 C1203.1 835.3 1195.3 833.6 1188.7 834.1 C1182.1 834.6 1173.2 836.4 1166.7 837 C1160.2 837.6 1152.8 848.8 1150 838 C1147.2 827.2 1138 783 1150 772 C1162 761 1210.2 770 1222 772 Z"/></clipPath>
<g clip-path="url(#fc9)">
<path d="M1150.8 795 l-2.2 14.8 M1215.6 804.6 l2.3 24.8 M1183.4 771.7 l-8.5 24.3 M1202.2 836.3 l-3 13.8 M1216.9 822.3 l-3.9 17.7 M1191 769.6 l-4.2 26.6 M1175.4 789.9 l3.2 28.2 M1192.7 796.8 l-1.2 10.6 M1168.6 827.8 l0.6 16.9 M1202.1 775.9 l-2.5 24.5 M1150.5 818.3 l0.2 11.2 M1224.8 798.6 l-4.5 13.6 M1202.8 782.4 l0.1 11.6 M1158.8 778.1 l-3.2 12.5 M1191 793.7 l1.1 14.5 M1172.9 814.5 l-5.5 14.6 M1174.7 833.5 l0.9 22.2 M1201.1 767.7 l-2.7 12.2 M1218.6 815.9 l-7.4 23.9 M1181.8 823.5 l1.1 10.6 M1177.9 782.5 l-0.8 26.3 M1151.6 798.3 l1.7 27.3 M1225.7 784 l-9 27.5 M1195.3 785.9 l-2.7 22.1 M1171.6 783.1 l0.6 13.6 M1204.9 833 l-7.4 26.1 M1165.9 822.7 l-7.1 28.1 M1201.8 821.5 l-1.3 13 M1198.2 829.1 l-4.5 12.6 M1217.3 764.4 l-2.1 11.7 M1200.5 774.1 l1.7 13.5 M1170.3 819.1 l1.8 16 M1152.7 834.6 l0.3 18.8 M1191.7 807.8 l-2.8 24.4 M1192.8 789.8 l-2.5 17.7 M1156.9 814.2 l-3.2 13.1 M1145.6 792 l-0.9 15.6 M1199.3 797.8 l-3.9 14.6 M1191.8 805.7 l-0.4 10.2 M1155.5 785.2 l-6.1 16.6 M1148.3 836.2 l-0.3 29.2 M1166.8 776.6 l1 15.3 M1164.6 799.6 l-3.6 20.2 M1155.9 791.5 l0.5 21.1 M1156.4 802.2 l-7.5 20.8 M1182.2 803.8 l-0.7 13.3 M1207.9 829.5 l-7.5 23 M1160.9 813.5 l0.7 16.3 M1157.9 820.9 l2.8 26.5 M1174.1 797.6 l0.4 15.3 M1168.3 800.1 l-1.2 23.7 M1210.4 818.9 l-3.7 27.3 M1175.6 783.9 l-3.6 11.3 M1163.5 774 l-3.3 26.4 M1145.4 792.5 l-3.5 29.3 M1182.2 812.6 l-1.2 11.7 M1209.7 798.1 l-3 13 M1199.6 838 l-2.6 16 M1216.9 826.1 l-1.7 23.4 M1223 810.8 l-0.4 15.7 M1209.1 798.2 l-0.9 15.9 M1170 772.6 l-1.6 17.6 M1172.3 775.6 l-1.5 11.8 M1218.7 789.5 l1 22.6 M1157.3 823.3 l-1.3 23.6 M1167.9 770.2 l-4.9 18.7 M1146.3 794 l-3.4 28.1 M1201.9 805.8 l-5.1 25.5 M1187.7 776.5 l1.2 20.4 M1201.6 805.6 l-4.5 18.2 M1176.8 768.8 l-6.4 19.4 M1201.4 836 l-1.8 20.9 M1216.6 833.9 l-4.2 27.3 M1174.3 770 l-1.3 19.3 M1203.4 837.5 l-3.8 21.6 M1201.7 779.4 l-3.9 13.5 M1202.1 768.2 l-6.7 23.5 M1223.8 803.7 l3.5 29.3 M1209.2 783.9 l1 11.3 M1185.9 794.9 l-0.1 11.5 M1161.8 765 l-5.9 21.4 M1170 798.4 l-2.7 29.2 M1225 803.8 l-0.6 16.2 M1157 803.5 l-2.2 23.5 M1149.5 822.3 l-7.7 22.3 M1170.5 812.1 l-7.1 25.4" stroke="#a8917a" stroke-width="0.7" opacity="0.5" fill="none"/>
<path d="M1158.7 817.3 l-2.2 19 M1214.1 836.5 l1.2 17.4 M1170.1 784.1 l1.3 13.9 M1146.4 771 l-3.2 19.2 M1220.3 823.6 l-6 25.8 M1154.4 792.2 l-3.9 12.8 M1153.1 815.3 l1.2 28.2 M1146.1 771.2 l1.6 17.8 M1190.1 774.4 l-6.7 27.8 M1204.5 801.7 l0.9 17.2 M1161.2 777.7 l-4.6 27.4 M1223.2 779.1 l1.4 21.1 M1216.2 791 l-1.3 25.2 M1189.7 835.1 l-0.5 26.6 M1200.4 796.1 l-0.4 26.4 M1205.9 802.9 l-2.9 27.7 M1219.2 763.6 l-1.4 15.9 M1162 829 l1.8 25.6 M1226 793.2 l3.1 27.9 M1186.6 809.6 l-5.9 23.1 M1145.6 788.4 l-0.7 13 M1219.9 771.1 l-4 15.2 M1181.3 808.4 l-2.6 9.8 M1215.9 763 l-6.4 28.1 M1209.9 799.5 l-1.6 12.4 M1222.2 830.3 l-0.5 28.3 M1191.2 793.3 l-0.5 12.8 M1212.5 807 l-1.3 17 M1195.5 775.6 l-2.1 11.7 M1193.9 798.5 l-3.5 22.9 M1172.2 765.5 l-3.7 14.7 M1221.3 821.8 l-1.9 17.7 M1154.3 828.3 l-3.6 10.6 M1201.1 814.3 l-1.9 10.8 M1185.9 764.5 l-0.7 28.4 M1198.9 799.3 l-3.1 28.1 M1199 832.9 l-2.2 15.7 M1214.1 789 l0.2 18.8 M1173.9 829.3 l-5.3 25.4 M1146.3 813.3 l2.8 26.9 M1165.8 833.2 l-0.7 22.7 M1179.6 818 l-4.1 15.3 M1147.6 821.7 l-1.6 14.4 M1167.6 799.9 l1.2 10.6 M1163 803.2 l0 25.5 M1198.8 829.8 l-1.7 24.1 M1152.7 805.4 l-5.4 18.6 M1203.8 818.4 l-5.8 15.9 M1175.1 830.7 l0.1 26.2 M1178.8 804.9 l-4.6 15 M1151.9 780.5 l-1.3 27.2 M1219.7 820.6 l0.2 16.6 M1209.7 804 l-3.7 10.8 M1197.5 792.8 l-4.3 21.6 M1216.8 777.1 l-1.6 24.1 M1169 822.2 l-2.1 10.8 M1188.1 786.7 l-2.7 11.6 M1198 791.5 l-3.6 10.7 M1174.2 823.8 l-2.6 29.8 M1154.8 814.3 l-4.9 19.1 M1189.4 799 l-0.4 11.6 M1195.2 797.1 l0.7 13.4 M1151.7 777.6 l-7.6 26.7 M1208.7 780 l-1 11.2 M1146.6 819.6 l-0.7 12.7 M1196.9 819.3 l-6 17 M1147.4 765.9 l-3.4 12.5 M1224.8 810.9 l-4.3 13.9 M1146.1 785.1 l0.9 19.5 M1170.7 764.3 l-5.7 15.9 M1212.8 764.7 l1.3 13.2 M1208.1 789.4 l-5.5 28.1 M1168 768.4 l-3.7 20.4 M1150 812.7 l0.8 11.2 M1158.4 785.1 l0.5 12.8 M1220.6 802.2 l-4.8 23.7 M1217.4 824.5 l-6.4 19.6 M1184.6 808.7 l-5.1 29.5 M1151.1 789.5 l-8.7 26.2 M1210.6 815.9 l1.4 16.8 M1204.5 781.9 l-0.5 22.9 M1185.7 806 l-1.8 17.5 M1224.9 811.4 l-4.5 22.9" stroke="#231a16" stroke-width="0.9" opacity="0.5" fill="none"/>
</g>
<path d="M1222 772 C1233.8 774 1221.6 780 1220.9 784.2 C1220.2 788.4 1219.2 792.8 1218 797.4 C1216.8 802 1215.3 807.2 1213.6 812.1 C1211.9 817 1208.9 823 1207.7 826.7 C1206.5 830.4 1209.5 832.9 1206.3 834.1 C1203.1 835.3 1195.3 833.6 1188.7 834.1 C1182.1 834.6 1173.2 836.4 1166.7 837 C1160.2 837.6 1152.8 848.8 1150 838 C1147.2 827.2 1138 783 1150 772 C1162 761 1210.2 770 1222 772 Z" fill="url(#furg)"/>
<path d="M1206.3 834.1 C1211 835.1 1212.4 839.2 1218 839.9 C1223.6 840.6 1232.7 838 1240 838.5 C1247.3 839 1255.2 840.5 1262 842.9 C1268.8 845.3 1275.5 849.7 1281.1 853.1 C1286.7 856.5 1291.8 860.5 1295.7 863.4 C1299.6 866.3 1303.5 868.5 1304.5 870.7 C1305.5 872.9 1303.8 874.2 1301.6 876.6 C1299.4 879 1294.7 884.4 1291.3 885.4 C1287.9 886.4 1284.8 884.2 1281.1 882.5 C1277.4 880.8 1272.7 875.1 1269.3 875.1 C1265.9 875.1 1263.7 882 1260.5 882.5 C1257.3 883 1253.7 879.6 1250.3 878.1 C1246.9 876.6 1245.4 874.9 1240 873.7 C1234.6 872.5 1225.3 872.4 1218 870.7 C1210.7 869 1203.3 866.1 1196 863.4 C1188.7 860.7 1180 857.7 1174 854.6 C1168 851.5 1161.2 848.1 1160 845 C1158.8 841.9 1161.7 837.8 1166.7 836 C1171.7 834.2 1183.4 834.3 1190 834 C1196.6 833.7 1201.6 833.1 1206.3 834.1 Z" fill="url(#pawR)"/>
<path d="M1206.3 834.1 C1211 835.1 1212.4 839.2 1218 839.9 C1223.6 840.6 1232.7 838 1240 838.5 C1247.3 839 1255.2 840.5 1262 842.9 C1268.8 845.3 1275.5 849.7 1281.1 853.1 C1286.7 856.5 1291.8 860.5 1295.7 863.4 C1299.6 866.3 1303.5 868.5 1304.5 870.7 C1305.5 872.9 1303.8 874.2 1301.6 876.6 C1299.4 879 1294.7 884.4 1291.3 885.4 C1287.9 886.4 1284.8 884.2 1281.1 882.5 C1277.4 880.8 1272.7 875.1 1269.3 875.1 C1265.9 875.1 1263.7 882 1260.5 882.5 C1257.3 883 1253.7 879.6 1250.3 878.1 C1246.9 876.6 1245.4 874.9 1240 873.7 C1234.6 872.5 1225.3 872.4 1218 870.7 C1210.7 869 1203.3 866.1 1196 863.4 C1188.7 860.7 1180 857.7 1174 854.6 C1168 851.5 1161.2 848.1 1160 845 C1158.8 841.9 1161.7 837.8 1166.7 836 C1171.7 834.2 1183.4 834.3 1190 834 C1196.6 833.7 1201.6 833.1 1206.3 834.1 Z" fill="url(#pawV)"/>
<clipPath id="pc9"><path d="M1206.3 834.1 C1211 835.1 1212.4 839.2 1218 839.9 C1223.6 840.6 1232.7 838 1240 838.5 C1247.3 839 1255.2 840.5 1262 842.9 C1268.8 845.3 1275.5 849.7 1281.1 853.1 C1286.7 856.5 1291.8 860.5 1295.7 863.4 C1299.6 866.3 1303.5 868.5 1304.5 870.7 C1305.5 872.9 1303.8 874.2 1301.6 876.6 C1299.4 879 1294.7 884.4 1291.3 885.4 C1287.9 886.4 1284.8 884.2 1281.1 882.5 C1277.4 880.8 1272.7 875.1 1269.3 875.1 C1265.9 875.1 1263.7 882 1260.5 882.5 C1257.3 883 1253.7 879.6 1250.3 878.1 C1246.9 876.6 1245.4 874.9 1240 873.7 C1234.6 872.5 1225.3 872.4 1218 870.7 C1210.7 869 1203.3 866.1 1196 863.4 C1188.7 860.7 1180 857.7 1174 854.6 C1168 851.5 1161.2 848.1 1160 845 C1158.8 841.9 1161.7 837.8 1166.7 836 C1171.7 834.2 1183.4 834.3 1190 834 C1196.6 833.7 1201.6 833.1 1206.3 834.1 Z"/></clipPath>
<g clip-path="url(#pc9)">
<path d="M1270 849.5 l9 2.2 M1175.3 849.2 l9.8 1.7 M1250.8 836 l5.9 1.6 M1215.9 871.4 l7.1 0.9 M1215.3 849.4 l9.8 1.9 M1283.1 847.6 l5.8 0.8 M1256.3 856.3 l6.8 1 M1266.7 840.7 l8.3 1.6 M1194.5 870.1 l8.8 2.3 M1232.5 858.6 l9.1 1.9 M1167.4 871.7 l6.5 1 M1247.8 865.4 l9.7 2.8 M1235.7 858.3 l9.3 1.6 M1277.8 869.1 l7.7 1.2 M1240.6 861.2 l5.7 1.8 M1188.3 847 l5.5 -0.3 M1178.9 868.3 l6.8 0.3 M1269.9 844.9 l8.2 0.3 M1259.2 848.3 l5.6 0.3 M1249.6 853.3 l8.2 2.7 M1190.9 842.5 l9.7 3.1 M1271.8 870 l7.6 2.2 M1204.3 834.2 l6.9 1.5 M1204 859.4 l9.1 2.6 M1168.6 850.2 l4.7 1.3 M1286.2 833.6 l6.3 1.2 M1211.9 830.6 l6.3 1.4 M1296.6 856.7 l6.5 -0.2 M1199.6 867.8 l9.5 1.3 M1296.6 845.4 l5.7 1.7 M1215 859.6 l4.8 0.4 M1247.6 832.8 l5.8 0.4 M1224.4 834.1 l7.7 1.1 M1168 847.4 l6.8 2.4 M1177.1 839.6 l8.1 1.9 M1204.4 869 l8.7 2 M1201.4 849.6 l8.2 2.5 M1161.5 872.5 l5.9 0.9 M1224 833.9 l4.3 -0.1 M1283.9 854 l6.9 0.4 M1186.4 840.6 l8.5 0.3 M1227.4 839.8 l4.6 0 M1275.7 831.6 l7.1 2.5 M1269 847.3 l9.9 2 M1187.1 860.5 l9.5 1.5 M1236.8 842.9 l8.2 1.2 M1164.7 859.1 l9.7 0.5 M1262.5 854.2 l7.4 -0.3 M1176.1 849.3 l5.5 1.9 M1168.2 856.7 l7.3 2.4 M1230.4 859.1 l4.5 1 M1164.1 859.6 l4.9 1.1 M1200.2 852.3 l6.5 1.5 M1281.7 849 l7.7 0.2 M1290.8 859.3 l4.3 0.1 M1257.9 836 l7.4 1.6 M1275.1 857.6 l5 1.7 M1266.1 853.1 l9.9 1.4 M1302.8 847.8 l6.9 0.2 M1183.4 854.5 l8.4 -0.4 M1244.7 832.2 l7.7 1.8 M1301.3 852.5 l4.3 0.9 M1211.8 840.7 l4.9 -0.1 M1291 854.8 l7.6 2.2 M1274.9 832 l7.1 1.6 M1297 862.6 l4.1 1.1 M1266.6 848.9 l7.7 0.7 M1214.9 858 l8.7 1.1 M1216.8 847.7 l7.1 1.7 M1275.3 856.5 l8.5 0.3 M1291.9 859 l8.1 1.6 M1187.4 847.2 l6.8 1.3 M1281.1 863.3 l4.8 1.4 M1207.2 872.4 l4.6 0.2 M1260.1 852.1 l8.9 1.6 M1243.6 844.5 l9.2 0.6 M1249 842.3 l4.2 0.4 M1164 863.7 l6.2 1.2 M1228.9 847.9 l6.3 0.5 M1214.8 849.6 l7.1 0.5 M1238.7 854.6 l5.3 1.7 M1281.9 837.8 l6.7 0.7 M1227 832.2 l4.8 1 M1197.6 838.2 l5.9 1 M1280.6 835.1 l5.8 0.7 M1169.9 869.9 l9.6 2.7 M1247.1 850.1 l4.5 -0.1 M1231.1 848 l4.1 0.7 M1278.8 846.4 l5.7 1.8 M1286.3 872 l7.2 -0.3 M1241.3 853.7 l4.3 1.2 M1229.6 862 l9.8 1.5 M1298 871.5 l7.2 0.3 M1281.6 841.6 l9.8 -0.3 M1257.9 844.5 l8.5 -0.1 M1263.4 854.9 l9.4 1.3 M1173.8 860.4 l6.7 1.8 M1255.4 861.1 l7 0.4 M1276.4 852.7 l5 0.4 M1190.4 862.2 l9.2 2.8 M1169.9 843.9 l4.3 -0 M1228.5 839.5 l9.2 0.5 M1258.7 854.2 l7.8 2.2 M1293.4 866.7 l7.4 1.6 M1218.3 859.6 l8.5 2.2 M1187.7 848.8 l8.9 2 M1211.6 832 l4.7 -0.2 M1271.6 847.3 l4.4 0.6 M1287.4 852.2 l6.5 0.3 M1196.8 855.7 l6.9 0.1 M1233 843.5 l6.8 -0.3 M1230.7 834.3 l5.2 0.7 M1185.8 846.6 l4.1 0.1 M1203.9 848.8 l9.3 2.5 M1246 840.4 l6.7 1 M1252.8 835.3 l5.5 0.9 M1263.9 848.6 l8.1 1.2 M1279.6 845.6 l5.2 1.8 M1195.9 835.1 l5 1.4 M1237.5 850.8 l5.9 1.2 M1165.3 841 l5.2 0.9 M1262.8 833.6 l7.9 1.2 M1245.6 863.1 l7.8 1.8 M1299.4 863.8 l6.4 1.1 M1162.7 850 l5.9 0.1 M1221.2 863.3 l4.3 0.8 M1225.7 868.7 l6.8 1.9 M1227.1 847.5 l8.1 1.5 M1175.4 834.8 l4.6 0.8 M1204.1 861.2 l6.9 0.8 M1281.4 842.6 l9.8 1.5 M1226.1 838.3 l5.1 0.6 M1173 867.7 l7.3 0.8 M1236.1 860.9 l4.1 1 M1268.7 862.5 l5.6 1.9 M1274.4 860.2 l4.6 0.6 M1160.4 838.6 l9.1 0.7 M1266.3 834.8 l8.2 1.8 M1287.6 872.3 l5.8 2 M1278.9 831.4 l4.5 0.3 M1298.3 838.6 l9.6 1 M1181 866.9 l5.9 1.7 M1191.3 855.6 l6.4 2.1 M1202.2 867.3 l7.4 1.5 M1217.3 838.9 l8.5 1.4 M1278 847 l4 0.5 M1287.9 864.3 l8.8 2.4 M1286.5 845 l6.7 0.1 M1212.9 836.5 l8.1 1.1 M1302.3 863.3 l7.1 1.6 M1240.5 830.6 l5 0.6 M1277.3 855 l5.1 1.3 M1286.1 835.1 l9.8 2.4 M1281.3 836.3 l4.1 0.2 M1292 863.2 l6.5 0.6 M1232.8 851.5 l7.3 1 M1296.5 833.9 l8.3 2.2 M1176 865.7 l5.4 1 M1163.5 847.3 l6.1 1.5 M1180.1 850.8 l7.2 1.6 M1291.8 840.6 l5.9 1.3 M1211.2 868.7 l8.9 1.6 M1244.8 860.3 l5.8 1.8 M1174.4 845.4 l4.1 0.8 M1271.7 860.4 l9 1.9 M1196.2 853.5 l8.1 0.6 M1260.5 834 l5 -0 M1179.3 861.8 l8.7 2.1 M1242.1 835.6 l8 0.7 M1252.7 834.9 l6.4 -0.1 M1236 837.2 l7.4 1.8 M1270.7 860.5 l6.2 1 M1183 830.6 l5.5 1.6 M1220 857.2 l5.7 0.6 M1180.4 842.9 l4.9 0.5 M1232 845.1 l8.5 0.8 M1255.8 866.5 l6.5 1.5 M1281.6 838.3 l9.3 3 M1185.9 858.7 l7.4 2 M1175.5 831.7 l7.5 0.3 M1177.8 845.7 l6.2 1.1 M1245.7 847.7 l4.8 1 M1279 841.1 l9.5 1.1 M1249.1 866.8 l7.3 0.9 M1274 845.9 l6.9 -0.1 M1285.5 868.5 l5 1.1 M1189.2 855.9 l5.2 0.7 M1192.1 836.2 l6.3 -0.1 M1265.5 845.6 l6 0.8 M1206.8 870.2 l5.8 -0.2 M1165.4 836.6 l4.6 0.8 M1294.3 847 l6.5 -0.3 M1227.1 843.4 l9.9 0 M1228.9 841.3 l7 0.2 M1198.2 853.4 l9.6 0.5 M1260 857 l7.7 1 M1272.2 871.8 l6.3 1.2 M1160.1 836.6 l9.7 1 M1250.6 855 l7.7 1 M1206.6 861.6 l6.4 1.9" stroke="#4a3028" stroke-width="0.7" opacity="0.35" fill="none"/>
<path d="M1233.7 855.4 l5.7 1.9 M1246.1 851 l5.6 1.8 M1238 866.7 l6.3 2.2 M1260.1 865.5 l4.3 0.9 M1303.3 863.1 l9.7 2 M1184.5 837.8 l6.3 0.5 M1217.7 872.3 l4.3 0.5 M1233 845 l5 1.1 M1201.7 839.6 l8.8 -0.4 M1300.9 832.3 l5.1 0.3 M1301.3 850 l4.2 -0 M1291.4 833.7 l4.1 0.3 M1210.7 856.7 l8.2 1.8 M1245.1 857.2 l8.2 0.6 M1241.5 837 l4.4 0.2 M1224.5 844.8 l9.7 -0.1 M1174 870.2 l8.4 2.8 M1177.8 870.1 l9.6 2.2 M1202.7 856.8 l5.6 -0.1 M1206.4 871.8 l4.6 0.7 M1190.8 853.2 l7.5 0.5 M1221.2 839.2 l4.8 1.1 M1298.1 855.5 l9 0.5 M1241.4 852 l7.9 0.3 M1293.6 830.7 l6.8 1.4 M1191.5 869.5 l4.2 0.8 M1240.6 866.6 l7.7 2.4 M1202.5 859.6 l7.3 -0.3 M1303 840.4 l4.5 0.6 M1249.6 847.4 l5.3 0.1 M1216.8 867.5 l8.8 1.5 M1224 834.7 l8.6 0.4 M1208.7 845.3 l4.1 0.4 M1283.5 868.9 l9 0.9 M1304.2 847.7 l5.4 0.5 M1236.7 838.8 l7.1 2.1 M1183.6 862 l8.5 1.1 M1200.2 847.4 l9.5 1.7 M1175.8 861.3 l7.7 2 M1195.7 845.7 l7.6 0.4 M1271.2 847.7 l4.9 1.7 M1294 840 l4.3 0.4 M1169.9 848.1 l5.4 0.7 M1282.4 862.6 l8.8 1.5 M1176.3 832.3 l6.7 -0.1 M1198 869.4 l8.3 1.6 M1254.5 867.8 l7.3 0.8 M1255.6 855.8 l6.4 1.8 M1185.2 846 l8.6 2.6 M1221.8 859.5 l7 1.7 M1275.8 847.7 l7.4 1.3 M1276.6 853.9 l4.7 0.6 M1187.6 831.5 l8.5 2.7 M1268.6 868.6 l8 0.4 M1168.3 864.7 l6.1 1.6 M1238.2 842.8 l7 0.5 M1188.1 832.7 l5.9 1.2 M1219.4 831 l7.8 1.6 M1268.2 856.9 l4.7 1.5 M1167.8 847.9 l8.2 -0.2 M1175.8 870 l8 1 M1196.5 848.6 l4.7 0.9 M1230.8 869.4 l6 1.7 M1211.5 863.4 l6.8 0.7 M1238.3 854.3 l4.8 1.5 M1300.6 842.7 l8 0.3 M1296 848.4 l8.4 2.4 M1280 840.3 l7.3 -0.2 M1208.9 872.4 l5.6 0.4 M1270.9 870.8 l7.9 1.8 M1287.4 853.7 l5.3 0.6 M1189.4 868.4 l7.2 1.1 M1213.1 837.6 l5.1 0.3 M1286.3 835.1 l9.4 0.4 M1201 857.3 l8.5 2.6 M1186.6 834.5 l7.1 1.8 M1176.7 835.4 l5 0.8 M1188.2 850.7 l6.2 0.4 M1178.2 864 l6.9 2 M1169.1 831.5 l5.7 0.8 M1250.1 855.1 l7.9 0.5 M1205.4 853.7 l4.4 0 M1265.8 839.2 l5.9 1.9 M1180.8 846.8 l5.4 1.1 M1287.1 856.7 l4.3 0.8 M1166.9 837.6 l7.1 0 M1193.7 847.4 l7.6 1.6 M1243.4 847.6 l8.1 1.6 M1190 841.1 l5.3 1.5 M1231.1 871.8 l5.5 0.7 M1240.8 864 l9.5 -0.3 M1298.3 847.8 l9.7 -0.1 M1196.3 859.5 l8.3 -0.2 M1233.8 836.7 l6.6 0.2 M1230.1 870.4 l9.5 1.5 M1168.3 864.5 l9.4 -0.2 M1209.1 839.6 l9.8 3.3 M1285.4 869.9 l9.2 1.5 M1289.8 830.9 l7.9 1.9 M1296.8 843.9 l9.7 1.9 M1218.4 833.3 l5.3 1.8 M1227.8 849.4 l6.4 2.1 M1233.7 864.7 l7.1 0.3 M1160.6 842.8 l4.5 0.1 M1263.2 843.3 l8.6 -0.2 M1266.9 866.5 l5.6 1.2 M1168.7 833.2 l8.1 0.1 M1190.2 841.3 l6.1 1.4 M1168.2 837.2 l9.2 1.8 M1285.4 838 l7.4 0.1 M1219.9 851.2 l8.6 0 M1261.9 866.1 l7.3 0.2 M1225.8 834.9 l5.4 1 M1271.7 868.7 l7.2 1.5 M1285 840 l6.9 0.8 M1200.4 853.8 l8.5 2.6 M1186.4 850.7 l8.1 0.4 M1293.6 833.1 l8.8 1 M1200.6 856.9 l6 -0.1 M1173.3 838.4 l5.5 1.6 M1240.9 847.1 l7.3 2 M1203 840.2 l6.2 1.4 M1177.2 862 l6.7 0.6 M1263.5 867.8 l8.4 1.5 M1190.6 830.7 l5.1 0.6 M1186.6 834.2 l8.9 2 M1231.2 857.4 l8.5 -0.1 M1189.1 845.8 l5.7 1.1 M1302.8 862.4 l5.8 -0 M1297.6 849.6 l6.7 1.8 M1185.8 864.4 l4.3 0.2 M1166.3 871.4 l7.2 1.2 M1228.1 836.3 l6.6 -0.3 M1241 852.4 l9.6 1.3 M1203.3 833.8 l4.9 1.5 M1273.9 844.4 l5.6 0.7 M1207.4 867.3 l4.4 0.5" stroke="#e0b8a8" stroke-width="0.6" opacity="0.35" fill="none"/>
</g>
</g>
<ellipse cx="1252.2" cy="849.1" rx="94.1" ry="72.1" fill="none" stroke="#4b1a8e" stroke-width="4.0"/>
<path d="M1247.3 895.5 V917.7" stroke="#4b1a8c" stroke-width="2.4"/>
<path d="M1247.3 879.5 L1253.6 897.5 L1241 897.5 Z" fill="#4b1a8c"/>
<ellipse cx="1020.4" cy="1021.1" rx="94.9" ry="72.4" fill="url(#bg)"/>
<g clip-path="url(#cp10)">
<path d="M1038.5 944 C1024.8 948 1041.3 961.5 1043 968.2 C1044.7 975 1047.2 980 1048.9 984.5 C1050.6 989 1052.8 991.4 1053.3 994.9 C1053.8 998.4 1046 1002.5 1051.9 1005.2 C1057.8 1007.9 1081.2 1011.6 1088.9 1011.1 C1096.6 1010.6 1094.8 1004.8 1097.8 1002.3 C1100.8 999.8 1102.2 998.3 1106.7 996.3 C1111.2 994.2 1122 998.7 1125 990 C1128 981.3 1139.4 951.7 1125 944 C1110.6 936.3 1052.2 940 1038.5 944 Z" fill="#45372f"/>
<clipPath id="fc10"><path d="M1038.5 944 C1024.8 948 1041.3 961.5 1043 968.2 C1044.7 975 1047.2 980 1048.9 984.5 C1050.6 989 1052.8 991.4 1053.3 994.9 C1053.8 998.4 1046 1002.5 1051.9 1005.2 C1057.8 1007.9 1081.2 1011.6 1088.9 1011.1 C1096.6 1010.6 1094.8 1004.8 1097.8 1002.3 C1100.8 999.8 1102.2 998.3 1106.7 996.3 C1111.2 994.2 1122 998.7 1125 990 C1128 981.3 1139.4 951.7 1125 944 C1110.6 936.3 1052.2 940 1038.5 944 Z"/></clipPath>
<g clip-path="url(#fc10)">
<path d="M1080.5 973.9 l-1 14 M1075.3 1000 l4.4 28.4 M1125.3 951.7 l3.8 13.8 M1060 937.8 l-0.3 25.2 M1046.2 945 l4.8 18.6 M1101.9 952.6 l-0.8 27.1 M1111 964.3 l2.5 10.9 M1111.9 976.3 l1 16 M1120.1 975.3 l-1.8 20.9 M1090.5 983.6 l4.7 12.2 M1046.5 963.6 l-1.9 25 M1088.1 955 l1.7 15.9 M1119.7 970.3 l1.6 13.3 M1064.3 974.6 l1.7 17.6 M1033.6 949.5 l-1.5 21.5 M1111.7 971.3 l0.9 25.5 M1055.2 941.3 l2.3 19.7 M1081.4 1000.4 l8.5 25.9 M1057 947.5 l1.4 15.8 M1101.3 959 l5.9 17.2 M1113.2 999 l-0.5 11.1 M1106.8 977.9 l-1.6 16.1 M1085 991.3 l1.8 27.8 M1035.6 978.2 l8 21.3 M1126.1 953.1 l4.7 17.8 M1092.4 951.9 l-1.5 18.6 M1111 1009.3 l-2.1 28.4 M1103.6 979.8 l0.8 16.9 M1102.4 1002.5 l4.5 25.1 M1112.8 1003.3 l7.5 20.4 M1059.3 946.9 l4 16.8 M1095.4 986.9 l3.3 19.5 M1074.2 994.9 l0.4 11.8 M1059.4 960 l0.1 12.8 M1120.8 935.9 l-2.3 29.4 M1043 935.4 l1.8 15.2 M1102.8 993.8 l10 28.3 M1109.2 943.3 l2.5 19.5 M1100.2 1010.7 l-0.4 13 M1036.1 1007.3 l-1.1 25.6 M1041 946.4 l5 23.1 M1073.3 959.8 l-1.1 10.1 M1034.7 960.2 l-0.7 16.3 M1054.5 960.2 l-0.2 14.2 M1100.3 967.4 l2.5 11.8 M1071.2 975.8 l-2 15.9 M1068.9 968.8 l-0.8 11.3 M1119.9 985.2 l4.1 12.4 M1100.2 960.6 l0.4 18.1 M1082.9 948.8 l4.7 20 M1112 1011 l2 16.9 M1071.8 995.2 l1.9 28.1 M1103.9 984.9 l-0 21.1 M1106.6 948.2 l0.6 18.1 M1109.4 961.3 l3.2 13.8 M1117.6 950.5 l1.2 12.9 M1116.9 1007.7 l2.3 12.5 M1076.9 937.9 l5.3 25.8 M1112.8 975.7 l7.4 23 M1057.2 977.4 l9.3 24.8 M1122.9 941.3 l2.2 16.9 M1121.2 945.6 l1.1 26.7 M1064.8 986.7 l2.2 16.4 M1071.4 957.7 l-1.7 20.3 M1049.5 1004.2 l2.2 16.1 M1105.4 935.7 l2.3 18.4 M1065 958.6 l5.7 22 M1105.1 967.5 l1.5 11.2 M1117.3 968.7 l-0.1 20.1 M1111 1006.5 l-2.3 27.3 M1046.1 995.3 l-0.5 20.1 M1094.1 1005.3 l-2.6 29.1 M1061.2 962.9 l-1 12.7 M1096.4 948.5 l0.1 20.2 M1078.6 997.2 l-0.8 18.3 M1033.9 988.7 l3.6 21.4 M1067.4 981.7 l9.3 24.9 M1108.5 982.6 l3.9 11.4 M1063.8 978.7 l-1.4 16.1 M1074.8 998.9 l3.9 24.4 M1065.2 947.6 l2.6 24.8 M1125.2 998.8 l4.9 26.7 M1092.8 945.8 l1.5 23.9 M1065.1 946.1 l0.3 24.5 M1111 992.9 l10.1 27.3 M1034.9 964.8 l7.2 20.2 M1040.2 972.3 l6.2 18.8 M1117.6 979.3 l4.9 14.5 M1056 992.9 l8.1 21.7 M1087.4 974.1 l8.2 26.7 M1071 979.6 l1.9 12.7 M1047.2 975.7 l-2.5 21.1 M1048.5 963.2 l5.2 20.3 M1072.2 952.8 l-3 27.4 M1054.2 981.4 l1.4 15.2 M1123.6 988.2 l-1.4 15.5" stroke="#a8917a" stroke-width="0.7" opacity="0.5" fill="none"/>
<path d="M1060.5 972.7 l2.1 21.2 M1108.8 936 l1.4 17 M1117.9 1000 l5.1 18.6 M1092.7 940.5 l-2.3 25.6 M1073.1 960.5 l-1.2 19.7 M1072.8 971.7 l-2.1 24.9 M1037.8 942.4 l-0.8 24.4 M1108.6 966 l3.9 23.3 M1046.4 952.4 l9.3 24.7 M1094.9 939.2 l-1.6 17.3 M1080.9 995.2 l2.9 22.5 M1076.2 992.4 l1 19.6 M1068.9 1005.9 l-0.9 24.5 M1096.1 979.5 l1.6 23.6 M1091.2 994.4 l4.3 24.9 M1054 1000.2 l-0.7 26.5 M1036.6 964.2 l1.5 22.5 M1054.2 945.7 l0.1 18.7 M1099.8 942.7 l-1.3 13.4 M1101.6 973.1 l5.8 15.8 M1126.3 956.1 l0.7 10.2 M1091.9 969.7 l1.4 10.5 M1096 981.3 l4.8 28.1 M1033.6 958.3 l0.2 12.3 M1058 1010.9 l-0 10.9 M1037 954.6 l3.1 24.8 M1058.5 991.8 l7.8 20.7 M1094.9 1008.3 l0.3 21 M1056.7 1007 l-0.2 10.4 M1065.4 1002.5 l1.7 12.4 M1070.3 964.1 l8.3 24.8 M1127.4 935.7 l-1 23 M1084.1 939 l1.4 12.7 M1109.9 964.3 l-2.6 28.7 M1067.6 941.9 l0.7 20.9 M1101.5 983.1 l2.7 12.7 M1084.9 965.2 l-1.7 22.5 M1051.8 989 l1.6 11.6 M1092.3 985.4 l2.1 16.2 M1043.3 999.7 l2.3 19.9 M1087.5 986 l5.1 25.8 M1054.7 988.2 l6 17.2 M1099.8 996.1 l2.7 24.2 M1070.4 956.7 l2.9 9.6 M1126.1 979.1 l3.5 9.8 M1119.3 950.8 l-0.1 20.4 M1043.4 992.2 l4 27.6 M1075.5 999.4 l1.8 18.1 M1056.2 949.5 l7.5 26 M1109.2 955.8 l-0.5 23.6 M1050.1 976.2 l-1.5 21.4 M1035.6 967.5 l1 18.2 M1086 957.2 l5.9 19.2 M1068.2 1007.8 l-1.4 20.6 M1122.7 945.9 l0.2 14.6 M1112.1 967.8 l5.5 22.2 M1108.3 997.6 l6.9 21.8 M1126.3 963.2 l-3.1 27.6 M1037.8 974.3 l1 17.5 M1037.5 991.6 l2.2 14.8 M1085.7 970.7 l7 21.4 M1055.8 983.5 l0.4 19.5 M1098.9 943.6 l5.3 15.6 M1045.6 935.8 l-2 19.1 M1082.5 995.6 l4.6 12.5 M1034 1010.8 l2.8 12 M1077.9 950.7 l4.1 14.3 M1091.6 950.6 l3.2 11.5 M1070.1 959.3 l6.4 26.2 M1058.7 1010.3 l-0.5 10.7 M1041 966.8 l4.7 25.6 M1069.3 936.9 l-0 21.8 M1036.6 957.4 l-2.2 26 M1129.2 998.5 l1.8 13.5 M1108.1 941.3 l6.4 27 M1070.8 977.6 l1.6 11.2 M1082.6 1007.4 l4.5 18.6 M1114.2 946 l1.1 21.2 M1100.8 1003.7 l-1.5 27.3 M1127.4 938.5 l-0.8 25 M1074.4 948.8 l-3 24.5 M1050.9 987.9 l2.3 26.6 M1128.5 967.7 l-1.3 12.8 M1129.4 980.3 l0.5 11 M1037.8 968.4 l-1.2 13.6 M1047 946.8 l3.3 13.8 M1068.7 946.1 l-1.4 22.4 M1085 983.7 l-1.1 16.5 M1111 935 l1.5 11.2 M1062.3 980.2 l-2.2 23.7 M1118.5 935 l2.6 21.7 M1052.7 936.3 l0.6 13.7 M1088.7 988.3 l0.2 12 M1077.4 974.1 l-1.5 20.2 M1082.2 935.5 l3.8 18.1 M1061.2 949.6 l5.4 18.4 M1098.1 957.7 l4.2 12.6 M1095.9 944.4 l6 22.3 M1076.9 988.8 l6.9 24.7 M1075.3 980.3 l-0.2 19.1 M1040.8 991.9 l0.6 29 M1055.1 947 l1.1 17.3 M1057.9 986 l-1.8 21.1 M1112.2 989.9 l-0.9 24.6 M1109 985.1 l2.7 26.5 M1110.2 976.1 l5.5 25.4 M1114.6 939.7 l5.6 20.5 M1107.4 946.6 l-0.1 17.3 M1045.2 993.1 l0.4 10.8 M1107.7 982.2 l8.2 23 M1127.4 1006.9 l3.8 11.9" stroke="#231a16" stroke-width="0.9" opacity="0.5" fill="none"/>
</g>
<path d="M1038.5 944 C1024.8 948 1041.3 961.5 1043 968.2 C1044.7 975 1047.2 980 1048.9 984.5 C1050.6 989 1052.8 991.4 1053.3 994.9 C1053.8 998.4 1046 1002.5 1051.9 1005.2 C1057.8 1007.9 1081.2 1011.6 1088.9 1011.1 C1096.6 1010.6 1094.8 1004.8 1097.8 1002.3 C1100.8 999.8 1102.2 998.3 1106.7 996.3 C1111.2 994.2 1122 998.7 1125 990 C1128 981.3 1139.4 951.7 1125 944 C1110.6 936.3 1052.2 940 1038.5 944 Z" fill="url(#furg)"/>
<path d="M1051.9 1005.2 C1045.4 1005.6 1038.3 1007.7 1031.1 1008.2 C1023.9 1008.7 1016.3 1008 1008.9 1008.2 C1001.5 1008.5 993.4 1008.7 986.7 1009.7 C980 1010.7 973.9 1012.6 968.9 1014.1 C963.9 1015.6 961 1016.6 957 1018.6 C953 1020.6 946.4 1023.5 945.2 1026 C944 1028.5 947.1 1030.2 949.6 1033.4 C952.1 1036.6 956.8 1043.7 960 1045.2 C963.2 1046.7 965.7 1043.5 968.9 1042.3 C972.1 1041.1 975.8 1038.3 979.3 1037.8 C982.8 1037.3 986.4 1040.3 989.6 1039.3 C992.8 1038.3 994 1033.1 998.5 1031.9 C1003 1030.7 1011.6 1031.5 1016.3 1031.9 C1021 1032.3 1021.8 1034.3 1026.7 1034.1 C1031.6 1033.8 1039 1032 1045.9 1030.4 C1052.8 1028.8 1060.9 1027.7 1068.1 1024.5 C1075.3 1021.3 1088.6 1014.2 1088.9 1011.1 C1089.2 1008 1076.2 1007 1070 1006 C1063.8 1005 1058.4 1004.8 1051.9 1005.2 Z" fill="url(#pawL)"/>
<path d="M1051.9 1005.2 C1045.4 1005.6 1038.3 1007.7 1031.1 1008.2 C1023.9 1008.7 1016.3 1008 1008.9 1008.2 C1001.5 1008.5 993.4 1008.7 986.7 1009.7 C980 1010.7 973.9 1012.6 968.9 1014.1 C963.9 1015.6 961 1016.6 957 1018.6 C953 1020.6 946.4 1023.5 945.2 1026 C944 1028.5 947.1 1030.2 949.6 1033.4 C952.1 1036.6 956.8 1043.7 960 1045.2 C963.2 1046.7 965.7 1043.5 968.9 1042.3 C972.1 1041.1 975.8 1038.3 979.3 1037.8 C982.8 1037.3 986.4 1040.3 989.6 1039.3 C992.8 1038.3 994 1033.1 998.5 1031.9 C1003 1030.7 1011.6 1031.5 1016.3 1031.9 C1021 1032.3 1021.8 1034.3 1026.7 1034.1 C1031.6 1033.8 1039 1032 1045.9 1030.4 C1052.8 1028.8 1060.9 1027.7 1068.1 1024.5 C1075.3 1021.3 1088.6 1014.2 1088.9 1011.1 C1089.2 1008 1076.2 1007 1070 1006 C1063.8 1005 1058.4 1004.8 1051.9 1005.2 Z" fill="url(#pawV)"/>
<clipPath id="pc10"><path d="M1051.9 1005.2 C1045.4 1005.6 1038.3 1007.7 1031.1 1008.2 C1023.9 1008.7 1016.3 1008 1008.9 1008.2 C1001.5 1008.5 993.4 1008.7 986.7 1009.7 C980 1010.7 973.9 1012.6 968.9 1014.1 C963.9 1015.6 961 1016.6 957 1018.6 C953 1020.6 946.4 1023.5 945.2 1026 C944 1028.5 947.1 1030.2 949.6 1033.4 C952.1 1036.6 956.8 1043.7 960 1045.2 C963.2 1046.7 965.7 1043.5 968.9 1042.3 C972.1 1041.1 975.8 1038.3 979.3 1037.8 C982.8 1037.3 986.4 1040.3 989.6 1039.3 C992.8 1038.3 994 1033.1 998.5 1031.9 C1003 1030.7 1011.6 1031.5 1016.3 1031.9 C1021 1032.3 1021.8 1034.3 1026.7 1034.1 C1031.6 1033.8 1039 1032 1045.9 1030.4 C1052.8 1028.8 1060.9 1027.7 1068.1 1024.5 C1075.3 1021.3 1088.6 1014.2 1088.9 1011.1 C1089.2 1008 1076.2 1007 1070 1006 C1063.8 1005 1058.4 1004.8 1051.9 1005.2 Z"/></clipPath>
<g clip-path="url(#pc10)">
<path d="M985.6 1010 l-4.2 0.3 M1020.3 1034.5 l-5.7 1.4 M994.4 1009 l-8.9 3 M1048.4 1025.6 l-8.2 0.9 M1048.5 1017.3 l-6.5 1.8 M979.6 1011.5 l-9.9 1.4 M1059.8 1012.4 l-4.5 0.3 M1051 1028.9 l-6.3 -0.2 M962.8 1007.4 l-7 -0.3 M957.4 1004.9 l-9.9 1.5 M1053.3 1030.3 l-6 0.2 M1038.7 1031.4 l-5.5 0.9 M1072.7 1026.9 l-9.9 1.7 M976.5 1017.4 l-5.9 1 M995.9 1028 l-4.9 1.7 M1058.3 1031.8 l-4.4 0 M1048.9 1007.9 l-8.9 0.6 M1029.9 1006.2 l-5.3 0.1 M1016.8 1023.4 l-8.7 1 M1018 1008.9 l-6.8 1.1 M1064.7 1023.1 l-4.8 -0.2 M1078.9 1009.6 l-4.3 0.5 M1047.7 1011.9 l-9.2 3.1 M987.7 1010.7 l-7.2 1.6 M1027.3 1033.2 l-9.1 1.3 M1018.1 1029.6 l-4.6 0.9 M1086.8 1018.7 l-6.7 1.2 M1004 1027.2 l-8.5 0.6 M978 1023.1 l-9.1 1 M976.8 1008.5 l-5.6 0.7 M1035.8 1013.6 l-4.3 1.4 M1012 1022 l-5.7 0.1 M968.9 1007.1 l-4.7 0.6 M1081.1 1003.3 l-7.6 1.1 M999.5 1013.1 l-4.4 0.1 M971.1 1012.3 l-6.6 1.4 M969.9 1031.2 l-9.5 1.8 M1018.4 1015.1 l-4.8 0.1 M1033 1006.3 l-7.1 2.2 M953.6 1026.5 l-6.9 1.3 M1036.7 1002 l-5.4 1.1 M995.5 1015.4 l-6 1.3 M1018.7 1026.5 l-5.4 1.5 M1079.4 1032.5 l-4 0.4 M998.4 1033.2 l-9.3 0.3 M1050.2 1027.6 l-4.4 1.3 M1002.3 1024.5 l-7.5 2 M1045.1 1016.3 l-5.9 1.2 M1086.5 1015.9 l-6.3 0.7 M960.6 1005.6 l-8.7 0.9 M1007.6 1034.7 l-4.6 0.2 M974.4 1025.7 l-9.4 0.5 M1064.9 1032.8 l-6.9 0.8 M968 1005 l-8.7 -0.2 M978.9 1034.2 l-7.9 0.3 M990.8 1025.7 l-9.5 0.7 M1059 1006.8 l-6.2 1.5 M974.6 1024.6 l-9.6 3.3 M991.7 1008.9 l-8.2 0.2 M987.7 1030.7 l-6.4 0.8 M1085.7 1027.6 l-7.3 0.4 M977.3 1012.4 l-9.9 0.3 M1005.1 1015.3 l-4.1 0.9 M1064.4 1015.8 l-7.1 -0.1 M1017.4 1011.1 l-8.2 0.9 M1015.1 1023.4 l-8.7 0.8 M1051 1018.4 l-4.2 -0.1 M1007.6 1016 l-6.5 0.2 M951.3 1002.8 l-5.4 1.2 M985.8 1008 l-6.4 1.3 M971.3 1033.3 l-5 1.5 M1033.7 1035 l-7.2 -0.1 M1032.9 1010.7 l-9 2.8 M993 1030.8 l-9.1 2.7 M1053.2 1007 l-9.1 0.1 M961.6 1012.2 l-8.4 1.5 M978.5 1001.4 l-6.2 0.8 M1020.2 1024.5 l-8.9 -0 M1057.4 1026 l-5.2 -0 M973.1 1029.4 l-9.3 3.2 M1066.8 1007.8 l-4.8 1 M1000.4 1013.5 l-7.3 0.8 M1079.1 1008.3 l-4.1 -0.2 M1076 1029.7 l-4.1 0.8 M969.2 1016.2 l-8.6 0.6 M1033.2 1030.8 l-6 0.9 M1075.1 1022 l-8.4 1.6 M1045.1 1011.9 l-5.4 1.2 M1065.7 1020.7 l-9.8 0.5 M976.4 1009.3 l-9 2 M971.4 1006.7 l-5.2 -0.1 M996 1001.8 l-6.2 1.4 M1013.2 1030.8 l-6.7 0.5 M1063.3 1029.8 l-8.5 1 M1075.1 1019.1 l-8.3 1.9 M1036.8 1029.9 l-8.1 1.4 M974 1025.7 l-9.5 -0 M1067.5 1001.4 l-8.2 2.3 M1030 1002.9 l-6.8 1 M953.5 1023.4 l-8.7 1.3 M1075.5 1011.7 l-6.3 1.7 M1002.5 1031 l-4.7 0.4 M1045.1 1004.5 l-7.2 1.8 M1011.9 1021.2 l-5.2 1.2 M990.1 1023.3 l-5.6 1.3 M1071.1 1024.5 l-9.6 2.6 M1045.6 1017.2 l-4.6 1.1 M1053.6 1012.1 l-9.2 0.2 M978.1 1013.8 l-4.1 0.6 M1081.6 1003.2 l-4.2 0.3 M1050.8 1004.7 l-5.9 -0.1 M1018.7 1009.7 l-4 0.8 M948.9 1007.4 l-8 1.7 M1081.3 1028.9 l-5.3 1.2 M1084.5 1008.1 l-6.1 0.2 M1017.6 1014.7 l-9.9 2.3 M1016 1013 l-9.2 3 M993 1014 l-7.5 2.1 M972.3 1008.3 l-5.3 0.7 M955.3 1003.1 l-7.3 0.9 M1082.4 1026.7 l-6.2 -0.3 M963.3 1024.6 l-7.8 1.6 M963.4 1014 l-5.6 1.5 M1020.5 1007.8 l-6.8 0.8 M948.8 1028.1 l-6.9 2.4 M1027 1031.8 l-8.1 -0.3 M1065.3 1017.6 l-7.7 1.8 M1051 1011.7 l-7.2 1.5 M1002.5 1018.2 l-4.7 0.6 M1073.3 1031.1 l-7.9 2.6 M1034.6 1008.5 l-6.7 0.3 M1029.5 1027.9 l-4.6 0.6 M1038.3 1001.3 l-5.5 1.6 M1065.7 1009.8 l-7.2 2.6 M987.7 1002.7 l-4.2 1.2 M952.3 1018.3 l-4.7 -0.1 M1037.1 1020.6 l-8.7 0.2 M1019.8 1009.9 l-5.9 1.4 M1076.2 1027.7 l-6.4 2 M1084.7 1008.6 l-5.8 1.1 M1022.1 1005.4 l-9.6 2.5 M1037.7 1014.4 l-5.6 0.3 M1030.1 1020.1 l-4.3 0.6 M1015.3 1025.9 l-7.8 -0.3 M1040.7 1013.5 l-9.8 0.8 M1078.7 1003.7 l-4.1 0.6 M1066.4 1034.4 l-7.2 1.5 M990.3 1002.1 l-4.1 0.7 M966.2 1009.5 l-8.7 1.8 M1001.1 1005.2 l-7.5 -0.3 M966.1 1028.8 l-6.7 0.7 M1020.1 1021.9 l-6.6 1 M1046.7 1028.9 l-5.7 -0.3 M1000.2 1012.7 l-4.7 0.4 M974.4 1015 l-7.4 0.2 M1075.8 1033 l-8.7 1.4" stroke="#4a3028" stroke-width="0.7" opacity="0.35" fill="none"/>
<path d="M1041.4 1022.5 l-7.5 1.1 M962.5 1010.8 l-7.5 0.1 M997.1 1029.7 l-5.6 1.6 M998.6 1006.5 l-5.3 1.1 M976 1018 l-9.2 1.5 M1079 1016.9 l-4.8 -0.2 M1083.1 1022 l-5.9 -0.1 M958 1022.6 l-8.5 1.5 M982.8 1015.6 l-6.9 -0.2 M1011.6 1011.3 l-7.7 0.8 M1010.4 1001.6 l-4.7 0.3 M982.7 1018.9 l-4 1 M1012.1 1015.9 l-6.3 0.8 M1037.5 1004.6 l-9.7 0.2 M1059.6 1008.2 l-6.1 1.7 M998 1017.9 l-9 2.5 M1072.5 1012.5 l-7.6 0.7 M956 1013.2 l-7.3 0.7 M1004.7 1031.2 l-9.3 0.2 M962.4 1028.8 l-5.6 0.2 M1020.7 1033 l-9.7 2.5 M1038 1006.4 l-5.3 0.8 M1013.1 1034.1 l-9.3 1.2 M1077.3 1026.7 l-8.8 2.4 M1044 1007.5 l-9.3 1.1 M1053.8 1028.9 l-5.5 1.2 M966.1 1034.3 l-4.1 -0.1 M976.1 1020.6 l-6 0.5 M1000.6 1021.9 l-7.5 2.2 M996.4 1011.3 l-9.1 -0.1 M1062.8 1015.6 l-8.4 1.7 M1076.9 1011.3 l-5.8 -0.2 M960.7 1007.8 l-7.7 1.5 M992.7 1010.2 l-6 1 M1020.1 1015.1 l-8.5 0.1 M1051.5 1022.9 l-5.9 1.4 M947 1001.9 l-5.7 -0.2 M1030.4 1002.1 l-8.9 3 M1043.1 1020.8 l-7.1 0.7 M1013.1 1009.8 l-8.2 -0 M1087.2 1014.8 l-6.3 1.4 M969 1019 l-9.4 -0.3 M964.3 1002.8 l-7.4 2 M1039.9 1029.7 l-4.5 0.2 M954.4 1005.5 l-8.2 2 M972.8 1019.4 l-8.8 2.4 M1007.7 1023.2 l-6.7 2.3 M1086.6 1008.1 l-6.4 1.3 M1051.9 1018.1 l-4.9 1.7 M1077.7 1022 l-7.6 0.4 M966.5 1027 l-5.3 0.7 M1046 1008.2 l-4.9 1.2 M1052.4 1021.7 l-8.2 0.6 M1015.1 1027.7 l-6.6 0.1 M1081.2 1021.1 l-4.7 0.6 M1034.7 1009.6 l-8 2.2 M1057.9 1005 l-4.9 -0 M1042.1 1006.2 l-4.5 1.4 M1060.2 1003.1 l-6.6 0.9 M1084.2 1034.2 l-5.7 1.7 M1041.7 1002.5 l-7.7 1.1 M1016 1033.9 l-9.1 -0.1 M1071.8 1024.7 l-9.1 1.1 M977.1 1010.5 l-4.8 0.5 M1059.8 1007.9 l-8.2 1.8 M998.6 1030.7 l-7.8 0.9 M956.2 1025.6 l-4.7 1.6 M1050.9 1008.2 l-9.4 0.8 M1071.1 1027.5 l-9.6 2.7 M977.3 1001.6 l-8.8 0.5 M956.6 1015 l-6.4 0.4 M1016.1 1009.3 l-7.6 1.4 M1053.4 1023.7 l-6.6 1.8 M1052.2 1010.3 l-7.6 1.7 M983.6 1016.5 l-9.9 1.3 M983.1 1022.2 l-6.7 0.5 M1050.6 1011.3 l-5.8 1 M1021.1 1018.2 l-4.1 0.4 M1084.1 1030.6 l-5.4 0.1 M1076.9 1001.9 l-9.4 2.4 M1073.3 1022.2 l-6.3 1 M1037.6 1034 l-7.9 0.1 M1017.3 1023.8 l-8.6 0.1 M1038.7 1020.4 l-4.9 0.7 M1015.1 1034.9 l-5.6 1.2 M971.8 1005.8 l-8.9 0.2 M973.7 1013.5 l-5.2 1.2 M946.4 1003.1 l-4 1.1 M992.5 1029.9 l-4.3 -0.1 M953.7 1032.4 l-8.6 1.5 M1034.6 1021.9 l-9 2.2 M1014.8 1012.6 l-7.9 -0.3 M1045.3 1011.9 l-5.1 1.1 M951 1006.9 l-9.3 3 M1058.2 1005 l-9.5 3.3 M951.5 1020.4 l-7.5 2.4 M1031.3 1033.8 l-5.8 0.9 M1058.6 1009.6 l-4.8 0.8 M998.6 1014 l-9.9 0.6 M1031.1 1018.6 l-4.2 0.1 M1052.8 1025.8 l-5.2 1.4 M970.6 1007.3 l-4.7 0.4 M1027.5 1009.4 l-7.6 -0 M992.4 1027.2 l-5.2 1.3 M953.6 1027.1 l-4.6 1.4" stroke="#e0b8a8" stroke-width="0.6" opacity="0.35" fill="none"/>
</g>
</g>
<ellipse cx="1020.4" cy="1021.1" rx="94.4" ry="71.9" fill="none" stroke="#4d4d4d" stroke-width="4.0"/>
<ellipse cx="1252.5" cy="1021.1" rx="94.3" ry="72.4" fill="url(#bg)"/>
<g clip-path="url(#cp11)">
<path d="M1229 944 C1242 945.8 1228.9 950.7 1228.3 954.7 C1227.7 958.7 1226.8 963 1225.3 967.9 C1223.8 972.8 1221.7 979.2 1219.5 984.1 C1217.3 989 1213.8 993.9 1212.1 997.3 C1210.4 1000.7 1212.9 1003.3 1209.2 1004.6 C1205.5 1005.9 1197.1 1004.8 1190 1005 C1182.9 1005.2 1173.4 1005.8 1166.7 1006.1 C1160 1006.4 1152.8 1017.4 1150 1007 C1147.2 996.6 1136.8 954.5 1150 944 C1163.2 933.5 1216 942.2 1229 944 Z" fill="#45372f"/>
<clipPath id="fc11"><path d="M1229 944 C1242 945.8 1228.9 950.7 1228.3 954.7 C1227.7 958.7 1226.8 963 1225.3 967.9 C1223.8 972.8 1221.7 979.2 1219.5 984.1 C1217.3 989 1213.8 993.9 1212.1 997.3 C1210.4 1000.7 1212.9 1003.3 1209.2 1004.6 C1205.5 1005.9 1197.1 1004.8 1190 1005 C1182.9 1005.2 1173.4 1005.8 1166.7 1006.1 C1160 1006.4 1152.8 1017.4 1150 1007 C1147.2 996.6 1136.8 954.5 1150 944 C1163.2 933.5 1216 942.2 1229 944 Z"/></clipPath>
<g clip-path="url(#fc11)">
<path d="M1169.2 973.6 l2.6 24 M1195.1 944.6 l2.2 22.3 M1176.4 946.6 l-7.8 28.5 M1166.7 970.3 l0 17.4 M1189.8 937 l-0.6 14.2 M1212.7 939.3 l-2.2 12.8 M1213.3 965.4 l-1.3 15.5 M1179.4 934.7 l3.1 29.3 M1163.4 954.4 l-3.6 16 M1198 946 l-0.2 12.4 M1215.5 946.7 l-9.2 28.2 M1173.6 958.4 l-7 27 M1181.8 977 l-0.5 10.6 M1200.5 955.5 l2.9 27.7 M1184 951.9 l0.1 13.2 M1165.3 939 l-0.2 11.7 M1159.3 955.2 l-4.7 14.8 M1161.4 991.7 l-0.8 15.3 M1165.3 996.7 l-0 16.4 M1149 982.9 l0.3 18.4 M1227.3 999.9 l2.9 23.6 M1191.2 938.7 l-4.3 11.7 M1223.7 949.7 l-1.8 26.8 M1198.7 999.2 l-3 13.5 M1176.9 965.3 l-5.7 24.8 M1154.9 970.5 l-3.5 9.7 M1169 941.5 l-2.5 10.7 M1212.3 956.1 l-3.9 18.7 M1176.6 944 l-6.8 23.9 M1150.3 970.3 l-4.1 15.3 M1187.4 958 l1.3 10.3 M1182.3 981 l2.1 16.6 M1160.2 948.9 l-0.7 12.7 M1168.4 949.5 l-3 13 M1162.4 970.9 l0.2 21.2 M1221.7 969.1 l-3.2 21.5 M1209.1 969.5 l-1.9 10.5 M1186.9 936.5 l-3.5 21.2 M1227.6 993.8 l-1.9 17.8 M1175.4 998.3 l-4.1 28.1 M1164.9 999.2 l1.7 27.6 M1218.8 1003.8 l1.3 23.3 M1168.8 970.9 l-1.7 9.9 M1172.9 1003.5 l-1.9 22 M1148.3 968.9 l0.1 12.6 M1210.6 991.3 l-4.9 13.2 M1155.5 1001.8 l-5.4 14.7 M1188.2 972.6 l-0 16 M1233.8 989.3 l-7.1 19.9 M1223.1 981.3 l1.9 17.4 M1177.7 966.3 l-0.1 19.1 M1191.1 958 l-2.3 20.6 M1181.2 957.7 l-5.6 19.5 M1180.8 980.1 l0.7 12.1 M1177.3 968.4 l-4.7 18.9 M1181.8 982.5 l1.8 27.5 M1185.2 1003.4 l-4.9 25.1 M1181.9 957.9 l-9.3 25.1 M1209.4 957.2 l1.4 12.4 M1228.5 948.8 l-2.7 17.9 M1178.4 986.6 l-0.8 15.7 M1182 998.8 l-8.8 27.7 M1197 975.7 l-3.3 16.9 M1150.9 995.1 l-3.5 29.7 M1216.7 960.8 l-9.2 25 M1184.2 975 l-6.1 29.2 M1222.7 963.8 l-6.3 28.8 M1149 996.3 l-1.1 29.2 M1176.4 968.2 l-4.5 13.9 M1176.8 968.5 l-2.1 11.6 M1177.2 959.3 l0.8 14.9 M1173.2 947.2 l-5.3 26.7 M1200.8 984.9 l-7.8 22.5 M1202.2 998.4 l-1.9 11.9 M1197.6 952.2 l1.7 15 M1187.1 954.6 l-4 24.6 M1188.5 948.8 l-3.2 29.6 M1224.9 978.8 l0 28 M1227.8 974.5 l0.8 22.7 M1182.3 1001.8 l0.2 28.4 M1153.4 955.1 l-4 17 M1230.6 997 l-2.6 21 M1195.5 973.4 l-3.2 19.8 M1214.8 987.1 l2.4 28.1 M1200.3 975.2 l-7.3 27.1 M1213.9 983.1 l1.2 26.5 M1179.3 945.2 l-1.6 12.3 M1231.8 948.6 l-3.9 17 M1161 1006.6 l-1 11 M1159 991.2 l-3 15.7 M1209.8 975.8 l1.8 15.3 M1180.9 996.8 l-3.4 12.4 M1177.2 958.9 l-2.3 27.8 M1145.2 997.6 l-2.8 12.9 M1176.6 1006.6 l-8.2 22.5" stroke="#a8917a" stroke-width="0.7" opacity="0.5" fill="none"/>
<path d="M1192.4 961.4 l1.1 21 M1227.6 1002.5 l-2.7 10.7 M1152 941.4 l-3.7 9.6 M1171.5 960.8 l-4.6 21.1 M1169.7 1001.9 l-5 25.1 M1148.5 953.5 l-7.1 18.3 M1233 990.8 l2.3 27 M1182.3 945.5 l-0.9 18.7 M1175.2 991.6 l-1 20.6 M1186.1 976.6 l-2.6 29.7 M1221.4 993.9 l-0.4 25.7 M1161.6 996.1 l-9.1 27.2 M1222.5 997.7 l-6.9 28.9 M1219.6 980.3 l0.6 20.9 M1173.8 966.4 l-0.7 13.9 M1210.2 1005.1 l-2.7 28.8 M1194.6 955.4 l-2.1 26.6 M1155.5 987.2 l-2.9 17.8 M1221.6 960.6 l-7.9 27.3 M1200.7 988 l-3 13.1 M1223.8 972.3 l-0.8 13.3 M1223 976.3 l1 12.5 M1227.8 959.3 l-4.3 14.1 M1186 941.4 l0.2 13.9 M1153 959.6 l-3.3 24.2 M1203.5 978 l-2.1 16.7 M1155.4 942.3 l-3.5 11.9 M1217.9 985.6 l1.4 14 M1182.6 961.9 l0.7 12.9 M1161.7 996.9 l0.5 16.5 M1226.6 992.5 l1.3 24.5 M1231.5 962.9 l-1.3 15.5 M1217.8 957.4 l-0.4 15 M1226.5 955.7 l1.9 22 M1154.3 982.9 l-10.4 27.9 M1152.4 953 l-5.3 16 M1147.8 1006.6 l-4.1 23.8 M1154.2 940.6 l0.6 11.3 M1215.4 1001 l-2.4 16.3 M1161.4 938.1 l-7.6 26.7 M1185.8 947.3 l-5.9 24.4 M1148.5 937.2 l0.3 12.1 M1166 970.9 l-4.9 19.2 M1152.7 944.1 l-4 17.5 M1201.7 992.5 l-6.2 20.5 M1233.7 971.3 l0.1 22.8 M1193.5 942.5 l1.2 13.5 M1183.4 980.9 l-7.5 25.8 M1169.5 1004.4 l2.8 27.6 M1218.9 945.9 l-2.5 28.7 M1167.6 983.6 l1.3 11.7 M1162.2 986.4 l-2.6 19.4 M1200.1 962.4 l-0.4 11.7 M1150.3 966.3 l-3.7 20.2 M1225.9 967.3 l-2.7 18.2 M1145.5 986.2 l1.5 26.8 M1181.2 968.9 l-2.8 25.5 M1206 968.5 l-1.6 13.9 M1164.2 978.9 l-5.5 27.3 M1152.8 963.2 l2.6 23.5 M1210.4 978.9 l2.4 26 M1153.6 967.5 l1.9 19.7 M1228.3 998.1 l-1.5 14 M1164 993.4 l-9.6 26.9 M1216.5 936.1 l1.4 22.9 M1148 957.2 l1.4 27.4 M1228.2 954.1 l-2.8 14.4 M1198.2 983.3 l-3.2 12.4 M1177.3 999.8 l-4.5 20.4 M1181.5 1005.8 l-3 17.8 M1232 969.6 l-8.5 27.2 M1223.9 950.4 l-8.8 24.1 M1151.5 1001.2 l-6.2 25.2 M1211.5 1004.8 l-4.1 14.8 M1207.3 942.8 l0.8 26.8 M1223.3 944.6 l2.8 28.1 M1223.3 969.5 l-0.2 28.1 M1167.3 952.8 l0.2 13.2 M1164.5 969.1 l-0.7 23.3 M1184.3 946.6 l-4.8 12.4 M1151.7 986.6 l1.4 17.7 M1153.6 982.4 l-0.6 12.3" stroke="#231a16" stroke-width="0.9" opacity="0.5" fill="none"/>
</g>
<path d="M1229 944 C1242 945.8 1228.9 950.7 1228.3 954.7 C1227.7 958.7 1226.8 963 1225.3 967.9 C1223.8 972.8 1221.7 979.2 1219.5 984.1 C1217.3 989 1213.8 993.9 1212.1 997.3 C1210.4 1000.7 1212.9 1003.3 1209.2 1004.6 C1205.5 1005.9 1197.1 1004.8 1190 1005 C1182.9 1005.2 1173.4 1005.8 1166.7 1006.1 C1160 1006.4 1152.8 1017.4 1150 1007 C1147.2 996.6 1136.8 954.5 1150 944 C1163.2 933.5 1216 942.2 1229 944 Z" fill="url(#furg)"/>
<path d="M1209.2 1004.6 C1214.6 1004.8 1216.8 1006.5 1222.4 1006.1 C1228 1005.7 1235.6 1002.4 1242.9 1002.4 C1250.2 1002.4 1259.6 1004 1266.4 1006.1 C1273.2 1008.2 1278.6 1011.7 1284 1014.9 C1289.4 1018.1 1295.8 1022.7 1298.7 1025.1 C1301.6 1027.5 1302.1 1027.5 1301.6 1029.5 C1301.1 1031.5 1298.2 1034.5 1295.7 1036.9 C1293.2 1039.4 1289.8 1043.7 1286.9 1044.2 C1284 1044.7 1281.5 1041.5 1278.1 1039.8 C1274.7 1038.1 1269.1 1033.7 1266.4 1033.9 C1263.7 1034.2 1264.5 1040.3 1262 1041.3 C1259.5 1042.3 1255.4 1040.8 1251.7 1039.8 C1248 1038.8 1245.6 1036.4 1240 1035.4 C1234.4 1034.4 1225.3 1034.9 1218 1033.9 C1210.7 1032.9 1203.3 1031.7 1196 1029.5 C1188.7 1027.3 1180 1023.6 1174 1020.7 C1168 1017.8 1161.2 1014.3 1160 1012 C1158.8 1009.7 1161.7 1008.2 1166.7 1007 C1171.7 1005.8 1182.9 1005.4 1190 1005 C1197.1 1004.6 1203.8 1004.4 1209.2 1004.6 Z" fill="url(#pawR)"/>
<path d="M1209.2 1004.6 C1214.6 1004.8 1216.8 1006.5 1222.4 1006.1 C1228 1005.7 1235.6 1002.4 1242.9 1002.4 C1250.2 1002.4 1259.6 1004 1266.4 1006.1 C1273.2 1008.2 1278.6 1011.7 1284 1014.9 C1289.4 1018.1 1295.8 1022.7 1298.7 1025.1 C1301.6 1027.5 1302.1 1027.5 1301.6 1029.5 C1301.1 1031.5 1298.2 1034.5 1295.7 1036.9 C1293.2 1039.4 1289.8 1043.7 1286.9 1044.2 C1284 1044.7 1281.5 1041.5 1278.1 1039.8 C1274.7 1038.1 1269.1 1033.7 1266.4 1033.9 C1263.7 1034.2 1264.5 1040.3 1262 1041.3 C1259.5 1042.3 1255.4 1040.8 1251.7 1039.8 C1248 1038.8 1245.6 1036.4 1240 1035.4 C1234.4 1034.4 1225.3 1034.9 1218 1033.9 C1210.7 1032.9 1203.3 1031.7 1196 1029.5 C1188.7 1027.3 1180 1023.6 1174 1020.7 C1168 1017.8 1161.2 1014.3 1160 1012 C1158.8 1009.7 1161.7 1008.2 1166.7 1007 C1171.7 1005.8 1182.9 1005.4 1190 1005 C1197.1 1004.6 1203.8 1004.4 1209.2 1004.6 Z" fill="url(#pawV)"/>
<clipPath id="pc11"><path d="M1209.2 1004.6 C1214.6 1004.8 1216.8 1006.5 1222.4 1006.1 C1228 1005.7 1235.6 1002.4 1242.9 1002.4 C1250.2 1002.4 1259.6 1004 1266.4 1006.1 C1273.2 1008.2 1278.6 1011.7 1284 1014.9 C1289.4 1018.1 1295.8 1022.7 1298.7 1025.1 C1301.6 1027.5 1302.1 1027.5 1301.6 1029.5 C1301.1 1031.5 1298.2 1034.5 1295.7 1036.9 C1293.2 1039.4 1289.8 1043.7 1286.9 1044.2 C1284 1044.7 1281.5 1041.5 1278.1 1039.8 C1274.7 1038.1 1269.1 1033.7 1266.4 1033.9 C1263.7 1034.2 1264.5 1040.3 1262 1041.3 C1259.5 1042.3 1255.4 1040.8 1251.7 1039.8 C1248 1038.8 1245.6 1036.4 1240 1035.4 C1234.4 1034.4 1225.3 1034.9 1218 1033.9 C1210.7 1032.9 1203.3 1031.7 1196 1029.5 C1188.7 1027.3 1180 1023.6 1174 1020.7 C1168 1017.8 1161.2 1014.3 1160 1012 C1158.8 1009.7 1161.7 1008.2 1166.7 1007 C1171.7 1005.8 1182.9 1005.4 1190 1005 C1197.1 1004.6 1203.8 1004.4 1209.2 1004.6 Z"/></clipPath>
<g clip-path="url(#pc11)">
<path d="M1298.5 1008.4 l4.6 0.7 M1195.8 1027.4 l7.9 1.8 M1218 998.8 l6 1.4 M1275.7 1032 l7.6 1.3 M1225.8 1002.9 l7 2.1 M1257.3 1030.6 l8.5 0.5 M1292.4 1032.2 l5.6 0.8 M1213.9 1012.5 l6.6 1.8 M1227.5 1028 l6.7 1.9 M1293.5 1009.2 l6.1 -0.1 M1222.5 1028.2 l9.6 2 M1240.4 1030.5 l9.9 0.8 M1273.5 1012.6 l8.8 1.4 M1241.3 1006.8 l5.9 0.5 M1203.9 1020.9 l8.7 2.4 M1273.8 1027.2 l4.4 0.5 M1248.1 1015.7 l4.5 1.1 M1261.3 1001.9 l6.1 2.1 M1190.6 1021.6 l9.8 0.9 M1179.5 998.8 l5.1 1 M1193.1 1009.5 l8.8 1.1 M1168.7 1025.5 l4.8 0.1 M1183.9 1024.3 l9.1 1.2 M1194.8 1015.3 l7.4 1 M1238.4 1020.2 l7.8 2.8 M1187.8 1032.8 l8 0.6 M1262.1 1025.2 l6.9 1 M1180.2 1002.4 l7.2 0.2 M1252.8 1004.8 l4.2 0.4 M1185.8 1001.1 l4.4 0.1 M1251.2 1031.6 l7.7 2.5 M1161.2 1001.2 l5.3 -0.1 M1241 1011.6 l6.9 0.2 M1188.6 1032.9 l6.3 2.2 M1221.5 1033.5 l4.5 0.5 M1293 1030.5 l4.4 0.8 M1184.8 1021.8 l7 -0.3 M1183.8 1016.6 l6.8 1.3 M1237.8 1028.5 l9.4 2.5 M1294.4 1007.5 l9.6 0.3 M1256.9 1002.3 l6.5 0.1 M1244.5 1032.9 l4.5 0.1 M1215.3 1003.9 l6.3 1.4 M1220.3 1005.4 l6.9 1.7 M1258.4 1029.6 l9.7 -0.3 M1172.6 1032.9 l7.3 0.3 M1231.1 1005.3 l6.8 1 M1215.2 1022 l6.3 1.5 M1250.3 1024 l8.5 0.5 M1214.1 1007.5 l9.5 2 M1242.8 1024.5 l8.9 0.6 M1256.2 1012.6 l7.3 -0.1 M1189.5 1015.9 l6.3 0.3 M1245.5 1009.1 l7 1 M1240.7 1031.2 l5.9 1 M1270.3 1023.4 l4.9 0.6 M1252.9 1016.4 l4.2 0.6 M1170.7 1024.4 l9.6 0.9 M1168.3 1026.5 l9.6 3.1 M1214.1 1002.5 l6.2 0.4 M1237.3 1015.3 l5.6 -0.2 M1292.4 1027.8 l5.6 -0.3 M1228.6 1018.4 l4.4 0.3 M1271.8 1015.5 l8.1 -0.1 M1226.5 1030.8 l8.6 2.1 M1257.4 1016.6 l4 0.1 M1224.6 1003.4 l9 2.6 M1202 1020.8 l8.9 1.5 M1201.6 1003 l8 2.6 M1226.1 1010.1 l4.7 1.5 M1300.8 1012.4 l9.9 2.6 M1215.1 1024.9 l9.4 2 M1211.6 1012.2 l4.9 0.9 M1166.2 1011.8 l8.5 0.2 M1212.4 1031.7 l4.3 0.4 M1187 1010 l4.7 1.3 M1217.8 999 l9 0.8 M1205.5 1030.8 l6 2 M1205.9 1026.5 l9.2 3.2 M1243.7 1031.2 l8.8 -0.1 M1196 1004.6 l5 1.3 M1211.1 1028.1 l6.7 2.2 M1258.6 1004.9 l8.6 0.5 M1295.5 1024.6 l5.1 0.1 M1165.6 1007.9 l9 1 M1297.1 1026 l9.1 1 M1206.3 1025.1 l5 0.9 M1189.4 1027.1 l4.4 1.2 M1255.6 1029.4 l6.9 0.4 M1294.2 1019.3 l9.8 -0.2 M1278.4 1032.1 l8.8 2.8 M1209 1001.6 l4.8 1.2 M1173.9 1028.5 l4.9 0.3 M1182.3 1006.4 l6.8 1.4 M1262.5 1023.5 l7.5 1.4 M1239.7 1014.3 l4.3 0.1 M1173.4 1017.8 l7 -0.2 M1211.4 1012.3 l4.5 0.2 M1162.9 1007.7 l6.3 2.2 M1218.7 1004.2 l8.5 0.9 M1196.5 1003.2 l5.7 0.3 M1195.9 1004.9 l7.4 0.5 M1195.2 1021 l5.5 0.9 M1164.9 1020.2 l6.1 1.4 M1240 1021.8 l5.6 0.3 M1292.4 1001.3 l8.8 0.9 M1177.8 1000.4 l4 0.7 M1279.9 1013.6 l7.1 1.5 M1202.2 1010.6 l6.1 1.8 M1251.8 1019.8 l9.2 1.8 M1192.3 1029.7 l7.2 -0.3 M1219.4 1003.8 l9.5 0.6 M1241.8 1009.2 l8.5 0.8 M1213 1021.1 l8.8 2 M1176.1 1018 l8.5 1.3 M1260.6 1014.6 l8 -0.1 M1229 1026.9 l6.7 0.5 M1211.8 1033 l8 1.4 M1298.3 1019 l4.8 1 M1244.7 1025.1 l6.4 0.9 M1286.6 1028.2 l7.9 0.6 M1289.6 1022.2 l6.9 1.4 M1163 1003 l7.3 2.3 M1260.5 1031 l6.8 2.2 M1207.7 1018.8 l5.9 1.4 M1278.2 1028 l6.3 0.4 M1207.7 1016 l10 2.1 M1172.6 1031.2 l8.7 1.8 M1239.9 1000.3 l8.8 1.4 M1254.5 1033.6 l9.6 0.5 M1267 1027.4 l4.9 0.9 M1191.6 1009.2 l6.6 2.1 M1256.3 1023 l9.6 0.6 M1298 1029.2 l4.1 0.2 M1187.8 1002.8 l9.4 1.7 M1260.2 999.2 l8.6 0.6 M1283 1000.9 l9.4 1.3 M1221 1004.3 l7.7 -0.4 M1214.1 1021.6 l8 -0 M1262.4 1000.3 l9.9 0.4 M1210.6 1006.7 l7.6 0.2 M1174.4 1014 l8 2.3 M1173.2 1004 l4.8 0.4 M1227.5 1025.1 l9.5 0.9 M1182.2 1023.3 l6.9 1.2 M1254.2 1015 l7.3 2.3 M1272.1 1017.9 l4.9 0.7 M1214.3 1004.6 l6.9 0.7 M1229.3 1032.8 l9.5 3 M1211.2 1008.5 l5.9 0.1 M1233.4 1006.1 l7.1 1.4 M1288.5 1032.3 l8.8 0.3 M1295.3 1002.1 l7.1 2.4 M1185.5 1022.7 l7.8 0.2 M1202.5 1007.9 l7.2 0.4 M1222.8 1009.8 l9.6 -0.3 M1263.8 1021.3 l5.7 1.9" stroke="#4a3028" stroke-width="0.7" opacity="0.35" fill="none"/>
<path d="M1217.1 1020.9 l9.7 -0.3 M1300.4 1033.3 l6.6 0.8 M1205.7 1023.1 l7.3 0.4 M1295.9 1008.4 l5.5 -0.2 M1227.8 1017.7 l9.5 2.4 M1190.6 1030.9 l9.3 2.4 M1199.2 1002.7 l7.6 2.2 M1301 1005.3 l6.2 -0 M1234.4 1002.3 l7.4 2.5 M1179.7 1011.2 l5.2 0.6 M1245.4 1030.2 l5 1.6 M1254.2 1004.8 l4.1 0.1 M1168.2 1000.7 l8.8 1.8 M1255.1 1020.3 l7.7 1.9 M1252 1023.6 l6.8 0.6 M1278.3 1030.6 l7.8 0.3 M1207.2 1021.7 l7.7 1.5 M1250.7 1007.2 l9.1 2.8 M1253.4 1022.9 l7.1 -0.3 M1243.8 1016.6 l9.9 2.3 M1265.3 1002.8 l7 0.3 M1164.6 1000.9 l7.4 1.1 M1172.4 1015.4 l7.8 0.4 M1251.4 1030.3 l6.1 -0.1 M1205 1028.7 l8.2 0.9 M1200.4 1023.2 l4.2 0.7 M1208.8 1021.1 l5.1 1.5 M1256.9 1018.3 l6.6 -0.1 M1200.8 1003.7 l5.8 0.7 M1173.2 1031.9 l7.8 0.4 M1274.3 1005.8 l9.7 2.3 M1167.9 1032.6 l4.4 0.2 M1280.8 1024.1 l4.3 -0.1 M1245.1 1005.5 l4.5 0.4 M1232 1009.8 l6 0.8 M1167.1 1028.3 l9.2 0.8 M1176.9 1024.6 l8.3 1.8 M1226.7 1021.3 l8 0.2 M1271.8 1005.3 l6.8 1.8 M1245.2 1031.4 l8 1.8 M1251.4 1025.3 l9.4 0.2 M1176.5 1031.7 l4.3 -0.2 M1274.9 1023.2 l9.1 2 M1228 1025.7 l9.5 2.6 M1171.6 1007.1 l9.2 1.9 M1237.9 1012.1 l7.8 0 M1165.6 1025.4 l4.5 1.4 M1188.2 1016.9 l8.8 2.5 M1238.4 1028.2 l4.1 1.4 M1275.2 1000.4 l9.1 -0.1 M1294.7 1020.3 l4.8 1.1 M1183.2 1017.8 l6.2 1.5 M1176.8 1033.7 l8.3 1.5 M1161.4 1005.7 l7.7 1.4 M1182.9 1001.8 l5.8 1.6 M1202.8 1001.7 l6.4 1.7 M1183 1005 l5.9 1.4 M1296.5 999.9 l9.7 1.1 M1282.3 1030.1 l8.4 -0.3 M1172.3 1021.6 l7 0.1 M1260.9 1015 l6.3 1.4 M1186.2 1025.7 l7.6 0.7 M1268.4 1004.7 l6 1.9 M1206.8 1015.2 l4 0.8 M1224.5 1027.5 l4.8 0.7 M1281.3 1012 l7.4 0.7 M1237.8 998.5 l9.9 1.2 M1274 1014.9 l5.6 1.5 M1298.6 1002.6 l4.9 1.4 M1270.3 1022.2 l9.8 1.7 M1252.2 1002.7 l6.7 2 M1292 1016.5 l7.8 0.9 M1191.8 1012.6 l8.9 -0.4 M1178.9 1010.1 l4.1 0.1 M1278.1 1005.5 l8.5 2.4 M1167.9 1007.7 l9.5 1.8 M1264.4 1010.5 l5.5 0.3 M1271.7 1021.8 l9.5 1.8 M1166.5 1000.3 l6.6 1.4 M1279.6 998.5 l7.3 0 M1263.2 999 l5.3 -0.1 M1239.4 1007.1 l9.5 2.5 M1178 1016.8 l6 0.3 M1251.2 1004.6 l4.1 1 M1232.2 1018.9 l4.1 1 M1287.7 1005.7 l9 1.2 M1247.5 999.3 l8.8 1.8 M1195.3 1022 l9.1 0.3 M1291.8 1006.8 l8 1.3 M1292 1030 l9.6 2 M1189.1 1018.5 l6.2 -0.2 M1233 1020.2 l9.3 0 M1178.4 1021.6 l9 -0.1 M1242.3 1031 l4.4 1.3 M1290 1019.3 l7.7 1.6 M1213.1 1030.3 l4 1 M1185.1 1032.7 l4.1 -0.1 M1238.1 1003.1 l7.8 0.4 M1290.9 1016.2 l4.2 1 M1300.7 1026.2 l5.8 -0.3 M1166.7 1000.9 l5.2 1.1 M1184.6 1018.9 l5.4 0.2 M1290.4 1001.9 l8 0.7 M1276.9 1018.4 l4.6 0.7 M1192.1 1016.4 l6.1 2.1 M1210.7 1018.4 l6.4 2.1 M1299 1032.3 l7.5 0.2 M1295.5 1033.2 l9.2 2.5 M1240.1 1014.3 l5.1 0.6 M1226.7 1017.3 l9.1 2.4 M1201.1 1020.3 l8.3 0.8 M1293.7 1029.2 l9.8 0.7" stroke="#e0b8a8" stroke-width="0.6" opacity="0.35" fill="none"/>
</g>
</g>
<ellipse cx="1252.5" cy="1021.1" rx="93.8" ry="71.9" fill="none" stroke="#4b1a8e" stroke-width="4.0"/>
<path d="M1247.3 1063.1 V1086" stroke="#4b1a8c" stroke-width="2.4"/>
<path d="M1247.3 1047.1 L1253.6 1065.1 L1241 1065.1 Z" fill="#4b1a8c"/>
</svg>
</body></html>
